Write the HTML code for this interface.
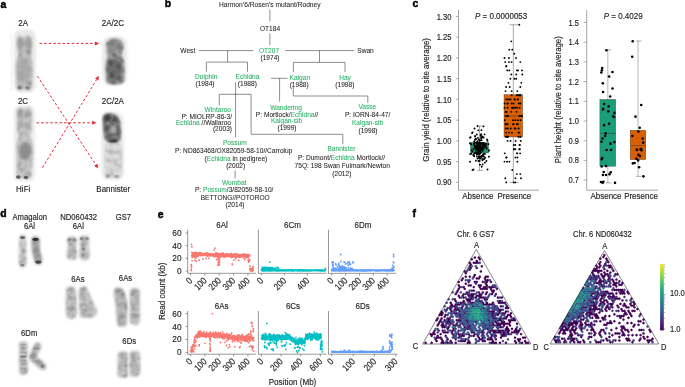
<!DOCTYPE html>
<html><head><meta charset="utf-8"><style>
html,body{margin:0;padding:0;background:#fff;}
svg{display:block;font-family:"Liberation Sans",sans-serif;will-change:transform;}
text{stroke:#231f20;stroke-width:0.14px;}
text.bd{stroke:#000;stroke-width:0.45px;}
text.pb{stroke-width:0.06px;}
</style></head><body>
<svg width="685" height="387" viewBox="0 0 685 387">
<defs>
<filter id="b1" filterUnits="userSpaceOnUse" x="0" y="0" width="685" height="387"><feGaussianBlur stdDeviation="1"/></filter>
<filter id="b05" filterUnits="userSpaceOnUse" x="0" y="0" width="685" height="387"><feGaussianBlur stdDeviation="0.6"/></filter>
<filter id="b2" filterUnits="userSpaceOnUse" x="0" y="0" width="685" height="387"><feGaussianBlur stdDeviation="2"/></filter>
<filter id="b3" filterUnits="userSpaceOnUse" x="0" y="0" width="685" height="387"><feGaussianBlur stdDeviation="3"/></filter>
<filter id="tx" filterUnits="userSpaceOnUse" x="0" y="0" width="685" height="387">
<feTurbulence type="fractalNoise" baseFrequency="0.28" numOctaves="2" seed="4" result="n"/>
<feColorMatrix in="n" type="matrix" values="0 0 0 0 0  0 0 0 0 0  0 0 0 0 0  1.8 0 0 0 -0.72" result="na"/>
<feComposite in="na" in2="SourceAlpha" operator="in" result="nm"/>
<feMerge result="m"><feMergeNode in="SourceGraphic"/><feMergeNode in="nm"/></feMerge>
<feGaussianBlur in="m" stdDeviation="1.0"/>
</filter>
<filter id="tx2" filterUnits="userSpaceOnUse" x="0" y="0" width="685" height="387">
<feTurbulence type="fractalNoise" baseFrequency="0.3" numOctaves="2" seed="9" result="n"/>
<feColorMatrix in="n" type="matrix" values="0 0 0 0 0  0 0 0 0 0  0 0 0 0 0  2.2 0 0 0 -0.85" result="na"/>
<feComposite in="na" in2="SourceAlpha" operator="in" result="nm"/>
<feMerge result="m"><feMergeNode in="SourceGraphic"/><feMergeNode in="nm"/></feMerge>
<feGaussianBlur in="m" stdDeviation="0.8"/>
</filter>
<filter id="tx3" filterUnits="userSpaceOnUse" x="0" y="0" width="685" height="387">
<feTurbulence type="fractalNoise" baseFrequency="0.22" numOctaves="2" seed="12" result="n"/>
<feColorMatrix in="n" type="matrix" values="0 0 0 0 0  0 0 0 0 0  0 0 0 0 0  1.2 0 0 0 -0.5" result="na"/>
<feComposite in="na" in2="SourceAlpha" operator="in" result="nm"/>
<feMerge result="m"><feMergeNode in="SourceGraphic"/><feMergeNode in="nm"/></feMerge>
<feGaussianBlur in="m" stdDeviation="1.0"/>
</filter>
</defs>
<rect width="685" height="387" fill="#fff"/>
<text transform="translate(0.50 7.80) scale(1 1.02)" font-size="10.4" text-anchor="start" fill="#000" font-weight="bold" class="bd" >a</text>
<text transform="translate(164.80 7.40) scale(1 1.02)" font-size="10.4" text-anchor="start" fill="#000" font-weight="bold" class="bd" >b</text>
<text transform="translate(412.60 7.40) scale(1 1.02)" font-size="10.4" text-anchor="start" fill="#000" font-weight="bold" class="bd" >c</text>
<text transform="translate(0.30 217.40) scale(1 1.02)" font-size="10.4" text-anchor="start" fill="#000" font-weight="bold" class="bd" >d</text>
<text transform="translate(157.80 217.70) scale(1 1.02)" font-size="10.4" text-anchor="start" fill="#000" font-weight="bold" class="bd" >e</text>
<text transform="translate(412.60 217.40) scale(1 1.02)" font-size="10.4" text-anchor="start" fill="#000" font-weight="bold" class="bd" >f</text>
<text transform="translate(23.20 26.10) scale(1 1.18)" font-size="8" text-anchor="middle" fill="#231f20" font-weight="normal" >2A</text>
<text transform="translate(23.00 104.20) scale(1 1.18)" font-size="8" text-anchor="middle" fill="#231f20" font-weight="normal" >2C</text>
<text transform="translate(23.20 192.20) scale(1 1.18)" font-size="8" text-anchor="middle" fill="#231f20" font-weight="normal" >HiFi</text>
<text transform="translate(112.90 26.20) scale(1 1.18)" font-size="8" text-anchor="middle" fill="#231f20" font-weight="normal" >2A/2C</text>
<text transform="translate(112.80 104.10) scale(1 1.18)" font-size="8" text-anchor="middle" fill="#231f20" font-weight="normal" >2C/2A</text>
<text transform="translate(113.20 192.30) scale(1 1.18)" font-size="8" text-anchor="middle" fill="#231f20" font-weight="normal" >Bannister</text>
<line x1="11.20" y1="33.70" x2="11.20" y2="90.90" stroke="#e4e4e4" stroke-width="0.6" />
<rect x="13.8" y="29.5" width="22" height="63" rx="7" fill="#e9e9e9" opacity="1" filter="url(#b1)"/>
<rect x="13.8" y="105" width="21.5" height="77" rx="7" fill="#eeeeee" opacity="1" filter="url(#b1)"/>
<rect x="102.3" y="36.3" width="25" height="49" rx="8" fill="#eaeaea" opacity="1" filter="url(#b1)"/>
<rect x="101" y="111.5" width="23" height="68.5" rx="8" fill="#efefef" opacity="1" filter="url(#b1)"/>
<path d="M17,40 Q17,35 21,35.5 L23.5,38 L26,35.5 Q32,35 32,41 L31.5,52 L30.5,56 Q32.5,60 32.5,66 L32,85 Q32,90.5 28,90.5 L24,89 L20,90.5 Q16.5,90 16.5,85 L16.5,66 Q16.5,59 18.5,56 L17.5,52 Z" fill="#c0c0c0" filter="url(#tx3)"/>
<ellipse cx="20.5" cy="43" rx="3.2" ry="5.5" fill="#9a9a9a" opacity="0.8" filter="url(#b1)"/>
<ellipse cx="28.5" cy="44" rx="3.2" ry="5.5" fill="#9c9c9c" opacity="0.8" filter="url(#b1)"/>
<ellipse cx="23.5" cy="70" rx="6.5" ry="12" fill="#a4a4a4" opacity="0.75" filter="url(#b2)"/>
<ellipse cx="19.5" cy="87.5" rx="2.0" ry="1.8" fill="#7e7e7e" opacity="1" filter="url(#b05)"/>
<ellipse cx="27.5" cy="87.8" rx="2.0" ry="1.8" fill="#848484" opacity="1" filter="url(#b05)"/>
<path d="M16.5,112 Q17,107.5 21,107.5 L24,109 L27.5,107.5 Q32,107.5 32,112 L31.5,131 L30,137 Q33.5,142 33.5,150 L32.5,165 Q31,169 31.5,174 Q31.5,179.5 27,179 L24,177.5 L20,179 Q16,179 16.3,174 Q17,168 16.5,162 L16.5,146 Q17,140 18.5,137 L17,131 Z" fill="#c8c8c8" filter="url(#tx3)"/>
<ellipse cx="20.3" cy="114" rx="2.6" ry="3.5" fill="#969696" opacity="0.8" filter="url(#b1)"/>
<ellipse cx="28" cy="114" rx="2.6" ry="3.5" fill="#9a9a9a" opacity="0.8" filter="url(#b1)"/>
<ellipse cx="20.5" cy="125" rx="2.3" ry="3" fill="#a4a4a4" opacity="0.8" filter="url(#b1)"/>
<ellipse cx="28" cy="126" rx="2.3" ry="3" fill="#a8a8a8" opacity="0.8" filter="url(#b1)"/>
<ellipse cx="25" cy="151" rx="6" ry="9" fill="#8a8a8a" opacity="0.9" filter="url(#b1)"/>
<ellipse cx="18.3" cy="177" rx="2.3" ry="1.7" fill="#5e5e5e" opacity="1" filter="url(#b05)"/>
<ellipse cx="26" cy="177.5" rx="2.3" ry="1.7" fill="#5e5e5e" opacity="1" filter="url(#b05)"/>
<path d="M106,46 Q106,38.5 114.5,38.5 Q123.5,38.5 123.5,46 L122.6,53 Q121,55.5 122.8,58 Q125,62 124.6,70 L124.2,80 Q123.6,84.5 115,84.5 Q106.2,84.5 106,80 L105.6,70 Q105.2,62 107.2,58 Q108.5,55.5 107,53 Z" fill="#a2a2a2" filter="url(#tx2)"/>
<ellipse cx="114.5" cy="45.5" rx="6.5" ry="5" fill="#8e8e8e" opacity="0.8" filter="url(#b1)"/>
<ellipse cx="111.5" cy="43.5" rx="2.5" ry="2" fill="#6e6e6e" opacity="0.8" filter="url(#b1)"/>
<ellipse cx="118.5" cy="46" rx="2.5" ry="2" fill="#767676" opacity="0.8" filter="url(#b1)"/>
<ellipse cx="114.5" cy="70" rx="7.5" ry="11" fill="#6a6a6a" opacity="0.85" filter="url(#b1)"/>
<ellipse cx="110.5" cy="63" rx="2.6" ry="3" fill="#4c4c4c" opacity="0.8" filter="url(#b1)"/>
<ellipse cx="118.5" cy="66" rx="2.6" ry="3.5" fill="#525252" opacity="0.8" filter="url(#b1)"/>
<ellipse cx="112" cy="75" rx="2.5" ry="3" fill="#4a4a4a" opacity="0.8" filter="url(#b1)"/>
<ellipse cx="119" cy="78" rx="2.5" ry="2.5" fill="#555" opacity="0.8" filter="url(#b1)"/>
<ellipse cx="113.5" cy="82" rx="3" ry="1.5" fill="#5a5a5a" opacity="0.8" filter="url(#b1)"/>
<path d="M102.6,118.5 Q103,112.8 109.5,113 Q118.5,113.5 120.5,122 L121,139 Q118,144.5 110,143.5 Q103.5,142 103.5,132 Z" fill="#8c8c8c" filter="url(#tx2)"/>
<ellipse cx="107.5" cy="118" rx="3.6" ry="3.2" fill="#3a3a3a" opacity="0.9" filter="url(#b1)"/>
<ellipse cx="114.5" cy="119.5" rx="3" ry="2.6" fill="#4a4a4a" opacity="0.85" filter="url(#b1)"/>
<ellipse cx="106.5" cy="128" rx="2.6" ry="3" fill="#4e4e4e" opacity="0.8" filter="url(#b1)"/>
<ellipse cx="113.5" cy="129.5" rx="3.2" ry="3.2" fill="#b4b4b4" opacity="0.8" filter="url(#b1)"/>
<ellipse cx="118.5" cy="132" rx="2.2" ry="3.5" fill="#5a5a5a" opacity="0.7" filter="url(#b1)"/>
<ellipse cx="109" cy="136" rx="2.6" ry="2.2" fill="#5a5a5a" opacity="0.7" filter="url(#b1)"/>
<ellipse cx="113" cy="141" rx="4.5" ry="2.0" fill="#333" opacity="0.9" filter="url(#b1)"/>
<path d="M104.2,147 Q104.2,143 108,143 L118,143 Q122.3,143 122.3,148 L122.3,172.5 Q122.3,178.5 117,178.5 L109,178.5 Q104.2,178.5 104.2,172.5 Z" fill="#dedede" filter="url(#tx3)"/>
<ellipse cx="108" cy="176" rx="2.5" ry="1.7" fill="#a4a4a4" opacity="1" filter="url(#b05)"/>
<ellipse cx="116.5" cy="176.5" rx="2.5" ry="1.7" fill="#aaaaaa" opacity="1" filter="url(#b05)"/>
<line x1="39.50" y1="43.40" x2="94.80" y2="43.40" stroke="#e8283a" stroke-width="1.0" stroke-dasharray="2.6 2.0"/>
<polygon points="99.20,43.40 94.80,45.40 94.80,41.40" fill="#e8283a"/>
<line x1="37.50" y1="76.20" x2="95.78" y2="164.72" stroke="#e8283a" stroke-width="1.0" stroke-dasharray="2.6 2.0"/>
<polygon points="98.20,168.40 94.11,165.82 97.45,163.63" fill="#e8283a"/>
<line x1="36.50" y1="122.80" x2="92.10" y2="122.80" stroke="#e8283a" stroke-width="1.0" stroke-dasharray="2.6 2.0"/>
<polygon points="96.50,122.80 92.10,124.80 92.10,120.80" fill="#e8283a"/>
<line x1="42.50" y1="167.60" x2="96.69" y2="79.55" stroke="#e8283a" stroke-width="1.0" stroke-dasharray="2.6 2.0"/>
<polygon points="99.00,75.80 98.40,80.60 94.99,78.50" fill="#e8283a"/>
<text transform="translate(269.8 7.0) scale(1 1.07)" font-size="6.6" text-anchor="middle" fill="#231f20" class="pb" textLength="101.5" lengthAdjust="spacingAndGlyphs">Harmon’6/Rosen’s mutant/Rodney</text>
<line x1="269.90" y1="9.60" x2="269.90" y2="21.40" stroke="#505050" stroke-width="0.65" />
<text transform="translate(270.00 31.00) scale(1 1.07)" font-size="6.6" text-anchor="middle" fill="#231f20" class="pb"><tspan fill="#231f20" stroke="#231f20">OT184</tspan></text>
<line x1="269.90" y1="33.30" x2="269.90" y2="45.00" stroke="#505050" stroke-width="0.65" />
<text transform="translate(269.00 52.70) scale(1 1.07)" font-size="6.6" text-anchor="middle" fill="#231f20" class="pb"><tspan fill="#27b064" stroke="#27b064">OT207</tspan></text>
<text transform="translate(270.00 59.60) scale(1 1.07)" font-size="6.6" text-anchor="middle" fill="#231f20" class="pb"><tspan fill="#231f20" stroke="#231f20">(1974)</tspan></text>
<text transform="translate(187.80 52.70) scale(1 1.07)" font-size="6.6" text-anchor="middle" fill="#231f20" class="pb"><tspan fill="#231f20" stroke="#231f20">West</tspan></text>
<line x1="198.80" y1="50.60" x2="253.30" y2="50.60" stroke="#505050" stroke-width="0.65" />
<line x1="285.10" y1="50.60" x2="354.00" y2="50.60" stroke="#505050" stroke-width="0.65" />
<text transform="translate(365.50 52.70) scale(1 1.07)" font-size="6.6" text-anchor="middle" fill="#231f20" class="pb"><tspan fill="#231f20" stroke="#231f20">Swan</tspan></text>
<line x1="227.60" y1="50.60" x2="227.60" y2="62.10" stroke="#505050" stroke-width="0.65" />
<polyline points="206.40,71.70 206.40,62.10 247.50,62.10 247.50,71.70" stroke="#505050" stroke-width="0.65" fill="none" />
<text transform="translate(206.20 79.10) scale(1 1.07)" font-size="6.6" text-anchor="middle" fill="#231f20" class="pb"><tspan fill="#27b064" stroke="#27b064">Dolphin</tspan></text>
<text transform="translate(205.00 86.40) scale(1 1.07)" font-size="6.6" text-anchor="middle" fill="#231f20" class="pb"><tspan fill="#231f20" stroke="#231f20">(1984)</tspan></text>
<text transform="translate(247.50 79.10) scale(1 1.07)" font-size="6.6" text-anchor="middle" fill="#231f20" class="pb"><tspan fill="#27b064" stroke="#27b064">Echidna</tspan></text>
<text transform="translate(247.30 86.40) scale(1 1.07)" font-size="6.6" text-anchor="middle" fill="#231f20" class="pb"><tspan fill="#231f20" stroke="#231f20">(1988)</tspan></text>
<line x1="319.50" y1="50.60" x2="319.50" y2="62.40" stroke="#505050" stroke-width="0.65" />
<polyline points="293.40,72.10 293.40,62.40 345.00,62.40 345.00,72.10" stroke="#505050" stroke-width="0.65" fill="none" />
<text transform="translate(299.80 80.00) scale(1 1.07)" font-size="6.6" text-anchor="middle" fill="#231f20" class="pb"><tspan fill="#27b064" stroke="#27b064">Kalgan</tspan></text>
<text transform="translate(299.20 86.80) scale(1 1.07)" font-size="6.6" text-anchor="middle" fill="#231f20" class="pb"><tspan fill="#231f20" stroke="#231f20">(1988)</tspan></text>
<text transform="translate(345.00 80.00) scale(1 1.07)" font-size="6.6" text-anchor="middle" fill="#231f20" class="pb"><tspan fill="#27b064" stroke="#27b064">Hay</tspan></text>
<text transform="translate(344.80 86.80) scale(1 1.07)" font-size="6.6" text-anchor="middle" fill="#231f20" class="pb"><tspan fill="#231f20" stroke="#231f20">(1998)</tspan></text>
<line x1="235.60" y1="82.20" x2="235.60" y2="137.30" stroke="#505050" stroke-width="0.65" />
<polyline points="219.30,105.50 219.30,94.30 251.10,94.30 251.10,134.30 342.80,134.30 342.80,144.20" stroke="#505050" stroke-width="0.65" fill="none" />
<line x1="271.00" y1="78.30" x2="287.40" y2="78.30" stroke="#505050" stroke-width="0.65" />
<line x1="279.60" y1="78.30" x2="279.60" y2="101.70" stroke="#505050" stroke-width="0.65" />
<polyline points="293.30,86.00 293.30,96.00 367.80,96.00 367.80,102.80" stroke="#505050" stroke-width="0.65" fill="none" />
<text transform="translate(231.00 112.00) scale(1 1.07)" font-size="6.6" text-anchor="end" fill="#231f20" class="pb"><tspan fill="#27b064" stroke="#27b064">Wintaroo</tspan></text>
<text transform="translate(232.00 118.60) scale(1 1.07)" font-size="6.6" text-anchor="end" fill="#231f20" class="pb"><tspan fill="#231f20" stroke="#231f20">P: MIOLRP-86-3/</tspan></text>
<text transform="translate(231.00 124.90) scale(1 1.07)" font-size="6.6" text-anchor="end" fill="#231f20" class="pb"><tspan fill="#27b064" stroke="#27b064">Echidna</tspan><tspan fill="#231f20" stroke="#231f20"> //Wallaroo</tspan></text>
<text transform="translate(232.00 131.40) scale(1 1.07)" font-size="6.6" text-anchor="end" fill="#231f20" class="pb"><tspan fill="#231f20" stroke="#231f20">(2003)</tspan></text>
<text transform="translate(286.00 109.80) scale(1 1.07)" font-size="6.6" text-anchor="middle" fill="#231f20" class="pb"><tspan fill="#27b064" stroke="#27b064">Wandering</tspan></text>
<text transform="translate(287.00 116.80) scale(1 1.07)" font-size="6.6" text-anchor="middle" fill="#231f20" class="pb"><tspan fill="#231f20" stroke="#231f20">P: Mortlock/</tspan><tspan fill="#27b064" stroke="#27b064">Echidna</tspan><tspan fill="#231f20" stroke="#231f20">//</tspan></text>
<text transform="translate(286.50 123.00) scale(1 1.07)" font-size="6.6" text-anchor="middle" fill="#231f20" class="pb"><tspan fill="#27b064" stroke="#27b064">Kalgan-sib</tspan></text>
<text transform="translate(287.00 130.00) scale(1 1.07)" font-size="6.6" text-anchor="middle" fill="#231f20" class="pb"><tspan fill="#231f20" stroke="#231f20">(1999)</tspan></text>
<text transform="translate(367.30 109.20) scale(1 1.07)" font-size="6.6" text-anchor="middle" fill="#231f20" class="pb"><tspan fill="#27b064" stroke="#27b064">Vasse</tspan></text>
<text transform="translate(367.60 117.00) scale(1 1.07)" font-size="6.6" text-anchor="middle" fill="#231f20" class="pb"><tspan fill="#231f20" stroke="#231f20">P: IORN-84-47/</tspan></text>
<text transform="translate(367.50 125.00) scale(1 1.07)" font-size="6.6" text-anchor="middle" fill="#231f20" class="pb"><tspan fill="#27b064" stroke="#27b064">Kalgan-sib</tspan></text>
<text transform="translate(368.00 132.60) scale(1 1.07)" font-size="6.6" text-anchor="middle" fill="#231f20" class="pb"><tspan fill="#231f20" stroke="#231f20">(1998)</tspan></text>
<text transform="translate(234.80 145.30) scale(1 1.07)" font-size="6.6" text-anchor="middle" fill="#231f20" class="pb"><tspan fill="#27b064" stroke="#27b064">Possum</tspan></text>
<text transform="translate(233.70 153.30) scale(1 1.07)" font-size="6.6" text-anchor="middle" fill="#231f20" class="pb"><tspan fill="#231f20" stroke="#231f20">P: ND863468/OX82059-58-10//Carrolup</tspan></text>
<text transform="translate(235.90 161.00) scale(1 1.07)" font-size="6.6" text-anchor="middle" fill="#231f20" class="pb"><tspan fill="#231f20" stroke="#231f20">(</tspan><tspan fill="#27b064" stroke="#27b064">Echidna</tspan><tspan fill="#231f20" stroke="#231f20"> in pedigree)</tspan></text>
<text transform="translate(235.70 167.80) scale(1 1.07)" font-size="6.6" text-anchor="middle" fill="#231f20" class="pb"><tspan fill="#231f20" stroke="#231f20">(2002)</tspan></text>
<line x1="235.10" y1="170.60" x2="235.10" y2="178.40" stroke="#505050" stroke-width="0.65" />
<text transform="translate(234.20 184.60) scale(1 1.07)" font-size="6.6" text-anchor="middle" fill="#231f20" class="pb"><tspan fill="#27b064" stroke="#27b064">Wombat</tspan></text>
<text transform="translate(234.20 192.20) scale(1 1.07)" font-size="6.6" text-anchor="middle" fill="#231f20" class="pb"><tspan fill="#231f20" stroke="#231f20">P: </tspan><tspan fill="#27b064" stroke="#27b064">Possum</tspan><tspan fill="#231f20" stroke="#231f20">/3/82059-58-10/</tspan></text>
<text transform="translate(235.20 199.80) scale(1 1.07)" font-size="6.6" text-anchor="middle" fill="#231f20" class="pb"><tspan fill="#231f20" stroke="#231f20">BETTONG//POTOROO</tspan></text>
<text transform="translate(235.00 206.80) scale(1 1.07)" font-size="6.6" text-anchor="middle" fill="#231f20" class="pb"><tspan fill="#231f20" stroke="#231f20">(2014)</tspan></text>
<text transform="translate(341.40 151.00) scale(1 1.07)" font-size="6.6" text-anchor="middle" fill="#231f20" class="pb"><tspan fill="#27b064" stroke="#27b064">Bannister</tspan></text>
<text transform="translate(341.50 160.40) scale(1 1.07)" font-size="6.6" text-anchor="middle" fill="#231f20" class="pb"><tspan fill="#231f20" stroke="#231f20">P: Dumont/</tspan><tspan fill="#27b064" stroke="#27b064">Echidna</tspan><tspan fill="#231f20" stroke="#231f20"> Mortlock//</tspan></text>
<text transform="translate(342.20 168.40) scale(1 1.07)" font-size="6.6" text-anchor="middle" fill="#231f20" class="pb"><tspan fill="#231f20" stroke="#231f20">75Q: 198 Swan Fulmark/Newton</tspan></text>
<text transform="translate(341.80 175.80) scale(1 1.07)" font-size="6.6" text-anchor="middle" fill="#231f20" class="pb"><tspan fill="#231f20" stroke="#231f20">(2012)</tspan></text>
<line x1="458.50" y1="10.00" x2="458.50" y2="190.20" stroke="#8c8c8c" stroke-width="0.8" />
<line x1="458.50" y1="190.20" x2="539.00" y2="190.20" stroke="#8c8c8c" stroke-width="0.8" />
<line x1="456.00" y1="16.46" x2="458.50" y2="16.46" stroke="#8c8c8c" stroke-width="0.7" />
<text transform="translate(451.40 19.56) scale(1 1.18)" font-size="7.6" text-anchor="end" fill="#231f20" font-weight="normal" >1.30</text>
<line x1="456.00" y1="37.20" x2="458.50" y2="37.20" stroke="#8c8c8c" stroke-width="0.7" />
<text transform="translate(451.40 40.30) scale(1 1.18)" font-size="7.6" text-anchor="end" fill="#231f20" font-weight="normal" >1.25</text>
<line x1="456.00" y1="57.94" x2="458.50" y2="57.94" stroke="#8c8c8c" stroke-width="0.7" />
<text transform="translate(451.40 61.04) scale(1 1.18)" font-size="7.6" text-anchor="end" fill="#231f20" font-weight="normal" >1.20</text>
<line x1="456.00" y1="78.68" x2="458.50" y2="78.68" stroke="#8c8c8c" stroke-width="0.7" />
<text transform="translate(451.40 81.78) scale(1 1.18)" font-size="7.6" text-anchor="end" fill="#231f20" font-weight="normal" >1.15</text>
<line x1="456.00" y1="99.42" x2="458.50" y2="99.42" stroke="#8c8c8c" stroke-width="0.7" />
<text transform="translate(451.40 102.52) scale(1 1.18)" font-size="7.6" text-anchor="end" fill="#231f20" font-weight="normal" >1.10</text>
<line x1="456.00" y1="120.16" x2="458.50" y2="120.16" stroke="#8c8c8c" stroke-width="0.7" />
<text transform="translate(451.40 123.26) scale(1 1.18)" font-size="7.6" text-anchor="end" fill="#231f20" font-weight="normal" >1.05</text>
<line x1="456.00" y1="140.90" x2="458.50" y2="140.90" stroke="#8c8c8c" stroke-width="0.7" />
<text transform="translate(451.40 144.00) scale(1 1.18)" font-size="7.6" text-anchor="end" fill="#231f20" font-weight="normal" >1.00</text>
<line x1="456.00" y1="161.64" x2="458.50" y2="161.64" stroke="#8c8c8c" stroke-width="0.7" />
<text transform="translate(451.40 164.74) scale(1 1.18)" font-size="7.6" text-anchor="end" fill="#231f20" font-weight="normal" >0.95</text>
<line x1="456.00" y1="182.38" x2="458.50" y2="182.38" stroke="#8c8c8c" stroke-width="0.7" />
<text transform="translate(451.40 185.48) scale(1 1.18)" font-size="7.6" text-anchor="end" fill="#231f20" font-weight="normal" >0.90</text>
<text transform="translate(429.1 99.9) rotate(-90) scale(1 1.18)" font-size="7.8" textLength="123.5" lengthAdjust="spacingAndGlyphs" text-anchor="middle" fill="#231f20">Grain yield (relative to site average)</text>
<text transform="translate(501.1 18.9) scale(1 1.12)" font-size="8.0" text-anchor="middle" fill="#231f20"><tspan font-style="italic">P</tspan> = 0.0000053</text>
<text transform="translate(477.80 198.80) scale(1 1.18)" font-size="8" text-anchor="middle" fill="#231f20" font-weight="normal" >Absence</text>
<text transform="translate(514.40 198.80) scale(1 1.18)" font-size="8" text-anchor="middle" fill="#231f20" font-weight="normal" >Presence</text>
<line x1="479.50" y1="125.97" x2="479.50" y2="142.60" stroke="#444" stroke-width="0.45" />
<line x1="479.50" y1="153.01" x2="479.50" y2="170.35" stroke="#444" stroke-width="0.45" />
<line x1="477.30" y1="125.97" x2="483.30" y2="125.97" stroke="#555" stroke-width="0.5" />
<line x1="477.30" y1="170.35" x2="483.30" y2="170.35" stroke="#555" stroke-width="0.5" />
<rect x="470.55" y="142.60" width="17.90" height="10.41" fill="#1b9e77" stroke="#333" stroke-width="0.35"/>
<line x1="470.55" y1="147.95" x2="488.45" y2="147.95" stroke="#333" stroke-width="0.5" />
<circle cx="481.09" cy="156.33" r="0.95" fill="#000"/>
<circle cx="477.34" cy="141.14" r="0.95" fill="#000"/>
<circle cx="479.22" cy="157.05" r="0.95" fill="#000"/>
<circle cx="484.11" cy="144.68" r="0.95" fill="#000"/>
<circle cx="474.07" cy="156.27" r="0.95" fill="#000"/>
<circle cx="481.49" cy="143.12" r="0.95" fill="#000"/>
<circle cx="483.63" cy="137.45" r="0.95" fill="#000"/>
<circle cx="478.35" cy="148.65" r="0.95" fill="#000"/>
<circle cx="478.29" cy="130.36" r="0.95" fill="#000"/>
<circle cx="474.72" cy="153.32" r="0.95" fill="#000"/>
<circle cx="480.11" cy="147.30" r="0.95" fill="#000"/>
<circle cx="479.24" cy="150.31" r="0.95" fill="#000"/>
<circle cx="482.41" cy="146.08" r="0.95" fill="#000"/>
<circle cx="480.38" cy="140.44" r="0.95" fill="#000"/>
<circle cx="482.45" cy="160.20" r="0.95" fill="#000"/>
<circle cx="478.78" cy="157.67" r="0.95" fill="#000"/>
<circle cx="479.51" cy="158.04" r="0.95" fill="#000"/>
<circle cx="480.40" cy="153.28" r="0.95" fill="#000"/>
<circle cx="479.30" cy="140.40" r="0.95" fill="#000"/>
<circle cx="475.97" cy="149.51" r="0.95" fill="#000"/>
<circle cx="482.94" cy="147.23" r="0.95" fill="#000"/>
<circle cx="482.56" cy="137.40" r="0.95" fill="#000"/>
<circle cx="484.26" cy="158.69" r="0.95" fill="#000"/>
<circle cx="486.42" cy="160.99" r="0.95" fill="#000"/>
<circle cx="479.39" cy="147.82" r="0.95" fill="#000"/>
<circle cx="488.43" cy="144.19" r="0.95" fill="#000"/>
<circle cx="481.71" cy="166.80" r="0.95" fill="#000"/>
<circle cx="480.48" cy="150.08" r="0.95" fill="#000"/>
<circle cx="474.20" cy="156.12" r="0.95" fill="#000"/>
<circle cx="481.28" cy="148.31" r="0.95" fill="#000"/>
<circle cx="488.91" cy="156.71" r="0.95" fill="#000"/>
<circle cx="477.40" cy="147.78" r="0.95" fill="#000"/>
<circle cx="481.44" cy="147.88" r="0.95" fill="#000"/>
<circle cx="482.26" cy="136.58" r="0.95" fill="#000"/>
<circle cx="484.33" cy="144.11" r="0.95" fill="#000"/>
<circle cx="480.39" cy="152.16" r="0.95" fill="#000"/>
<circle cx="477.29" cy="148.36" r="0.95" fill="#000"/>
<circle cx="477.86" cy="150.06" r="0.95" fill="#000"/>
<circle cx="480.89" cy="152.11" r="0.95" fill="#000"/>
<circle cx="489.00" cy="150.21" r="0.95" fill="#000"/>
<circle cx="476.12" cy="146.03" r="0.95" fill="#000"/>
<circle cx="477.59" cy="144.42" r="0.95" fill="#000"/>
<circle cx="484.58" cy="158.53" r="0.95" fill="#000"/>
<circle cx="478.00" cy="149.93" r="0.95" fill="#000"/>
<circle cx="479.30" cy="143.22" r="0.95" fill="#000"/>
<circle cx="486.72" cy="148.56" r="0.95" fill="#000"/>
<circle cx="482.60" cy="150.68" r="0.95" fill="#000"/>
<circle cx="480.31" cy="145.29" r="0.95" fill="#000"/>
<circle cx="477.94" cy="152.38" r="0.95" fill="#000"/>
<circle cx="477.09" cy="153.26" r="0.95" fill="#000"/>
<circle cx="482.58" cy="164.52" r="0.95" fill="#000"/>
<circle cx="480.06" cy="156.85" r="0.95" fill="#000"/>
<circle cx="477.52" cy="145.04" r="0.95" fill="#000"/>
<circle cx="487.07" cy="139.47" r="0.95" fill="#000"/>
<circle cx="476.60" cy="145.81" r="0.95" fill="#000"/>
<circle cx="485.90" cy="143.81" r="0.95" fill="#000"/>
<circle cx="478.48" cy="143.74" r="0.95" fill="#000"/>
<circle cx="476.82" cy="134.49" r="0.95" fill="#000"/>
<circle cx="476.84" cy="153.65" r="0.95" fill="#000"/>
<circle cx="480.22" cy="146.42" r="0.95" fill="#000"/>
<circle cx="478.78" cy="143.04" r="0.95" fill="#000"/>
<circle cx="476.39" cy="149.44" r="0.95" fill="#000"/>
<circle cx="474.44" cy="143.83" r="0.95" fill="#000"/>
<circle cx="482.01" cy="149.10" r="0.95" fill="#000"/>
<circle cx="477.94" cy="148.43" r="0.95" fill="#000"/>
<circle cx="484.83" cy="146.77" r="0.95" fill="#000"/>
<circle cx="474.86" cy="142.28" r="0.95" fill="#000"/>
<circle cx="488.71" cy="150.84" r="0.95" fill="#000"/>
<circle cx="480.24" cy="147.59" r="0.95" fill="#000"/>
<circle cx="484.03" cy="148.85" r="0.95" fill="#000"/>
<circle cx="480.47" cy="143.99" r="0.95" fill="#000"/>
<circle cx="483.52" cy="154.01" r="0.95" fill="#000"/>
<circle cx="482.43" cy="143.56" r="0.95" fill="#000"/>
<circle cx="472.04" cy="133.08" r="0.95" fill="#000"/>
<circle cx="474.13" cy="153.74" r="0.95" fill="#000"/>
<circle cx="478.33" cy="151.20" r="0.95" fill="#000"/>
<circle cx="479.67" cy="146.68" r="0.95" fill="#000"/>
<circle cx="476.01" cy="138.96" r="0.95" fill="#000"/>
<circle cx="479.30" cy="146.57" r="0.95" fill="#000"/>
<circle cx="475.86" cy="153.10" r="0.95" fill="#000"/>
<circle cx="475.85" cy="148.68" r="0.95" fill="#000"/>
<circle cx="479.49" cy="145.24" r="0.95" fill="#000"/>
<circle cx="477.54" cy="158.67" r="0.95" fill="#000"/>
<circle cx="475.47" cy="138.89" r="0.95" fill="#000"/>
<circle cx="472.36" cy="151.44" r="0.95" fill="#000"/>
<circle cx="477.51" cy="142.47" r="0.95" fill="#000"/>
<circle cx="471.21" cy="153.78" r="0.95" fill="#000"/>
<circle cx="476.34" cy="143.05" r="0.95" fill="#000"/>
<circle cx="471.39" cy="144.51" r="0.95" fill="#000"/>
<circle cx="476.90" cy="156.55" r="0.95" fill="#000"/>
<circle cx="483.24" cy="154.64" r="0.95" fill="#000"/>
<circle cx="478.41" cy="150.12" r="0.95" fill="#000"/>
<circle cx="470.00" cy="161.82" r="0.95" fill="#000"/>
<circle cx="474.85" cy="139.91" r="0.95" fill="#000"/>
<circle cx="483.91" cy="156.48" r="0.95" fill="#000"/>
<circle cx="477.30" cy="154.39" r="0.95" fill="#000"/>
<circle cx="478.01" cy="146.44" r="0.95" fill="#000"/>
<circle cx="478.47" cy="147.95" r="0.95" fill="#000"/>
<circle cx="476.64" cy="154.26" r="0.95" fill="#000"/>
<circle cx="485.95" cy="146.64" r="0.95" fill="#000"/>
<circle cx="479.60" cy="157.40" r="0.95" fill="#000"/>
<circle cx="477.95" cy="143.33" r="0.95" fill="#000"/>
<circle cx="479.75" cy="142.17" r="0.95" fill="#000"/>
<circle cx="476.96" cy="149.96" r="0.95" fill="#000"/>
<circle cx="487.49" cy="140.75" r="0.95" fill="#000"/>
<circle cx="475.67" cy="151.91" r="0.95" fill="#000"/>
<circle cx="477.15" cy="143.22" r="0.95" fill="#000"/>
<circle cx="477.09" cy="150.25" r="0.95" fill="#000"/>
<circle cx="482.70" cy="159.20" r="0.95" fill="#000"/>
<circle cx="475.06" cy="135.85" r="0.95" fill="#000"/>
<circle cx="483.19" cy="154.72" r="0.95" fill="#000"/>
<circle cx="481.58" cy="149.45" r="0.95" fill="#000"/>
<circle cx="479.68" cy="160.99" r="0.95" fill="#000"/>
<circle cx="474.11" cy="141.68" r="0.95" fill="#000"/>
<circle cx="478.46" cy="142.71" r="0.95" fill="#000"/>
<circle cx="483.52" cy="144.31" r="0.95" fill="#000"/>
<circle cx="482.38" cy="148.70" r="0.95" fill="#000"/>
<circle cx="482.53" cy="156.18" r="0.95" fill="#000"/>
<circle cx="479.64" cy="153.91" r="0.95" fill="#000"/>
<circle cx="470.00" cy="137.64" r="0.95" fill="#000"/>
<circle cx="479.99" cy="150.53" r="0.95" fill="#000"/>
<circle cx="481.18" cy="134.32" r="0.95" fill="#000"/>
<circle cx="481.20" cy="137.57" r="0.95" fill="#000"/>
<circle cx="477.95" cy="153.27" r="0.95" fill="#000"/>
<circle cx="478.70" cy="147.60" r="0.95" fill="#000"/>
<circle cx="482.99" cy="143.00" r="0.95" fill="#000"/>
<circle cx="480.72" cy="135.23" r="0.95" fill="#000"/>
<circle cx="481.81" cy="147.65" r="0.95" fill="#000"/>
<circle cx="481.22" cy="138.73" r="0.95" fill="#000"/>
<circle cx="481.45" cy="157.06" r="0.95" fill="#000"/>
<circle cx="473.19" cy="154.93" r="0.95" fill="#000"/>
<circle cx="477.85" cy="137.91" r="0.95" fill="#000"/>
<circle cx="484.03" cy="145.52" r="0.95" fill="#000"/>
<circle cx="480.06" cy="147.52" r="0.95" fill="#000"/>
<circle cx="480.66" cy="158.62" r="0.95" fill="#000"/>
<circle cx="482.52" cy="145.60" r="0.95" fill="#000"/>
<circle cx="484.85" cy="153.94" r="0.95" fill="#000"/>
<circle cx="478.76" cy="157.32" r="0.95" fill="#000"/>
<circle cx="475.30" cy="147.68" r="0.95" fill="#000"/>
<circle cx="470.68" cy="144.07" r="0.95" fill="#000"/>
<circle cx="484.58" cy="134.38" r="0.95" fill="#000"/>
<circle cx="477.32" cy="148.58" r="0.95" fill="#000"/>
<circle cx="481.19" cy="157.14" r="0.95" fill="#000"/>
<circle cx="477.31" cy="142.33" r="0.95" fill="#000"/>
<circle cx="475.88" cy="160.73" r="0.95" fill="#000"/>
<circle cx="470.00" cy="143.19" r="0.95" fill="#000"/>
<circle cx="480.88" cy="157.63" r="0.95" fill="#000"/>
<circle cx="485.95" cy="144.89" r="0.95" fill="#000"/>
<circle cx="474.03" cy="143.87" r="0.95" fill="#000"/>
<circle cx="476.65" cy="148.91" r="0.95" fill="#000"/>
<circle cx="472.57" cy="132.42" r="0.95" fill="#000"/>
<circle cx="478.76" cy="139.54" r="0.95" fill="#000"/>
<circle cx="475.93" cy="146.43" r="0.95" fill="#000"/>
<circle cx="475.07" cy="136.58" r="0.95" fill="#000"/>
<circle cx="480.92" cy="149.60" r="0.95" fill="#000"/>
<circle cx="481.43" cy="156.01" r="0.95" fill="#000"/>
<circle cx="474.68" cy="147.05" r="0.95" fill="#000"/>
<circle cx="480.86" cy="135.69" r="0.95" fill="#000"/>
<circle cx="482.45" cy="136.66" r="0.95" fill="#000"/>
<circle cx="482.86" cy="145.07" r="0.95" fill="#000"/>
<circle cx="477.25" cy="147.06" r="0.95" fill="#000"/>
<circle cx="483.57" cy="143.05" r="0.95" fill="#000"/>
<circle cx="471.57" cy="150.12" r="0.95" fill="#000"/>
<circle cx="470.09" cy="154.09" r="0.95" fill="#000"/>
<circle cx="479.98" cy="164.64" r="0.95" fill="#000"/>
<circle cx="481.03" cy="143.80" r="0.95" fill="#000"/>
<circle cx="478.92" cy="153.54" r="0.95" fill="#000"/>
<circle cx="473.56" cy="149.25" r="0.95" fill="#000"/>
<circle cx="478.35" cy="161.00" r="0.95" fill="#000"/>
<circle cx="478.16" cy="153.45" r="0.95" fill="#000"/>
<circle cx="485.01" cy="157.66" r="0.95" fill="#000"/>
<circle cx="477.82" cy="144.16" r="0.95" fill="#000"/>
<circle cx="470.60" cy="137.30" r="0.95" fill="#000"/>
<circle cx="478.67" cy="156.78" r="0.95" fill="#000"/>
<circle cx="484.46" cy="145.38" r="0.95" fill="#000"/>
<circle cx="479.39" cy="157.28" r="0.95" fill="#000"/>
<circle cx="481.42" cy="130.15" r="0.95" fill="#000"/>
<circle cx="479.07" cy="154.84" r="0.95" fill="#000"/>
<circle cx="474.37" cy="145.17" r="0.95" fill="#000"/>
<circle cx="479.86" cy="158.42" r="0.95" fill="#000"/>
<circle cx="481.60" cy="140.16" r="0.95" fill="#000"/>
<circle cx="484.93" cy="162.65" r="0.95" fill="#000"/>
<circle cx="477.96" cy="143.15" r="0.95" fill="#000"/>
<circle cx="479.87" cy="151.47" r="0.95" fill="#000"/>
<circle cx="482.63" cy="159.46" r="0.95" fill="#000"/>
<circle cx="472.50" cy="169.94" r="0.95" fill="#000"/>
<circle cx="473.50" cy="169.52" r="0.95" fill="#000"/>
<circle cx="487.50" cy="169.52" r="0.95" fill="#000"/>
<circle cx="477.50" cy="125.97" r="0.95" fill="#000"/>
<circle cx="483.50" cy="126.38" r="0.95" fill="#000"/>
<circle cx="474.50" cy="128.46" r="0.95" fill="#000"/>
<line x1="513.30" y1="24.76" x2="513.30" y2="94.61" stroke="#444" stroke-width="0.45" />
<line x1="513.30" y1="137.00" x2="513.30" y2="182.59" stroke="#444" stroke-width="0.45" />
<line x1="509.60" y1="24.76" x2="518.60" y2="24.76" stroke="#555" stroke-width="0.5" />
<line x1="509.60" y1="182.59" x2="518.60" y2="182.59" stroke="#555" stroke-width="0.5" />
<rect x="504.00" y="94.61" width="18.60" height="42.39" fill="#d95f02" stroke="#333" stroke-width="0.35"/>
<line x1="504.00" y1="116.01" x2="522.60" y2="116.01" stroke="#333" stroke-width="0.5" />
<circle cx="513.75" cy="182.38" r="0.95" fill="#000"/>
<circle cx="506.26" cy="182.38" r="0.95" fill="#000"/>
<circle cx="515.42" cy="178.23" r="0.95" fill="#000"/>
<circle cx="520.95" cy="178.23" r="0.95" fill="#000"/>
<circle cx="516.94" cy="174.08" r="0.95" fill="#000"/>
<circle cx="507.10" cy="161.64" r="0.95" fill="#000"/>
<circle cx="504.51" cy="161.64" r="0.95" fill="#000"/>
<circle cx="509.41" cy="161.64" r="0.95" fill="#000"/>
<circle cx="517.32" cy="161.64" r="0.95" fill="#000"/>
<circle cx="515.46" cy="157.49" r="0.95" fill="#000"/>
<circle cx="506.19" cy="157.49" r="0.95" fill="#000"/>
<circle cx="517.46" cy="157.49" r="0.95" fill="#000"/>
<circle cx="506.51" cy="157.49" r="0.95" fill="#000"/>
<circle cx="517.22" cy="153.34" r="0.95" fill="#000"/>
<circle cx="516.92" cy="153.34" r="0.95" fill="#000"/>
<circle cx="520.12" cy="153.34" r="0.95" fill="#000"/>
<circle cx="504.72" cy="153.34" r="0.95" fill="#000"/>
<circle cx="519.15" cy="149.20" r="0.95" fill="#000"/>
<circle cx="515.38" cy="149.20" r="0.95" fill="#000"/>
<circle cx="513.99" cy="149.20" r="0.95" fill="#000"/>
<circle cx="519.85" cy="149.20" r="0.95" fill="#000"/>
<circle cx="513.91" cy="149.20" r="0.95" fill="#000"/>
<circle cx="513.83" cy="145.05" r="0.95" fill="#000"/>
<circle cx="519.62" cy="145.05" r="0.95" fill="#000"/>
<circle cx="515.31" cy="145.05" r="0.95" fill="#000"/>
<circle cx="519.72" cy="145.05" r="0.95" fill="#000"/>
<circle cx="520.77" cy="140.90" r="0.95" fill="#000"/>
<circle cx="515.60" cy="140.90" r="0.95" fill="#000"/>
<circle cx="510.56" cy="140.90" r="0.95" fill="#000"/>
<circle cx="507.56" cy="140.90" r="0.95" fill="#000"/>
<circle cx="520.33" cy="136.75" r="0.95" fill="#000"/>
<circle cx="507.80" cy="136.75" r="0.95" fill="#000"/>
<circle cx="518.31" cy="136.75" r="0.95" fill="#000"/>
<circle cx="507.80" cy="136.75" r="0.95" fill="#000"/>
<circle cx="506.04" cy="136.75" r="0.95" fill="#000"/>
<circle cx="520.30" cy="136.75" r="0.95" fill="#000"/>
<circle cx="506.69" cy="136.75" r="0.95" fill="#000"/>
<circle cx="508.97" cy="132.60" r="0.95" fill="#000"/>
<circle cx="506.05" cy="132.60" r="0.95" fill="#000"/>
<circle cx="519.28" cy="132.60" r="0.95" fill="#000"/>
<circle cx="511.89" cy="132.60" r="0.95" fill="#000"/>
<circle cx="518.52" cy="132.60" r="0.95" fill="#000"/>
<circle cx="507.91" cy="128.46" r="0.95" fill="#000"/>
<circle cx="515.60" cy="128.46" r="0.95" fill="#000"/>
<circle cx="518.68" cy="128.46" r="0.95" fill="#000"/>
<circle cx="506.03" cy="128.46" r="0.95" fill="#000"/>
<circle cx="514.56" cy="128.46" r="0.95" fill="#000"/>
<circle cx="510.74" cy="128.46" r="0.95" fill="#000"/>
<circle cx="506.38" cy="124.31" r="0.95" fill="#000"/>
<circle cx="513.40" cy="124.31" r="0.95" fill="#000"/>
<circle cx="517.95" cy="124.31" r="0.95" fill="#000"/>
<circle cx="513.35" cy="124.31" r="0.95" fill="#000"/>
<circle cx="516.64" cy="124.31" r="0.95" fill="#000"/>
<circle cx="507.70" cy="124.31" r="0.95" fill="#000"/>
<circle cx="505.57" cy="124.31" r="0.95" fill="#000"/>
<circle cx="504.74" cy="120.16" r="0.95" fill="#000"/>
<circle cx="518.02" cy="120.16" r="0.95" fill="#000"/>
<circle cx="515.34" cy="120.16" r="0.95" fill="#000"/>
<circle cx="520.59" cy="120.16" r="0.95" fill="#000"/>
<circle cx="512.96" cy="120.16" r="0.95" fill="#000"/>
<circle cx="507.62" cy="116.01" r="0.95" fill="#000"/>
<circle cx="507.97" cy="116.01" r="0.95" fill="#000"/>
<circle cx="519.42" cy="116.01" r="0.95" fill="#000"/>
<circle cx="522.13" cy="116.01" r="0.95" fill="#000"/>
<circle cx="520.98" cy="116.01" r="0.95" fill="#000"/>
<circle cx="506.01" cy="116.01" r="0.95" fill="#000"/>
<circle cx="506.72" cy="111.86" r="0.95" fill="#000"/>
<circle cx="516.56" cy="111.86" r="0.95" fill="#000"/>
<circle cx="505.70" cy="111.86" r="0.95" fill="#000"/>
<circle cx="506.04" cy="111.86" r="0.95" fill="#000"/>
<circle cx="511.34" cy="111.86" r="0.95" fill="#000"/>
<circle cx="513.58" cy="107.72" r="0.95" fill="#000"/>
<circle cx="512.04" cy="107.72" r="0.95" fill="#000"/>
<circle cx="515.12" cy="107.72" r="0.95" fill="#000"/>
<circle cx="504.54" cy="107.72" r="0.95" fill="#000"/>
<circle cx="516.92" cy="107.72" r="0.95" fill="#000"/>
<circle cx="519.50" cy="107.72" r="0.95" fill="#000"/>
<circle cx="507.56" cy="107.72" r="0.95" fill="#000"/>
<circle cx="512.47" cy="107.72" r="0.95" fill="#000"/>
<circle cx="511.60" cy="103.57" r="0.95" fill="#000"/>
<circle cx="507.81" cy="103.57" r="0.95" fill="#000"/>
<circle cx="507.27" cy="103.57" r="0.95" fill="#000"/>
<circle cx="513.53" cy="103.57" r="0.95" fill="#000"/>
<circle cx="504.58" cy="103.57" r="0.95" fill="#000"/>
<circle cx="520.38" cy="103.57" r="0.95" fill="#000"/>
<circle cx="518.73" cy="103.57" r="0.95" fill="#000"/>
<circle cx="514.55" cy="99.42" r="0.95" fill="#000"/>
<circle cx="507.74" cy="99.42" r="0.95" fill="#000"/>
<circle cx="514.82" cy="99.42" r="0.95" fill="#000"/>
<circle cx="510.44" cy="99.42" r="0.95" fill="#000"/>
<circle cx="518.02" cy="99.42" r="0.95" fill="#000"/>
<circle cx="509.33" cy="99.42" r="0.95" fill="#000"/>
<circle cx="506.39" cy="99.42" r="0.95" fill="#000"/>
<circle cx="517.67" cy="99.42" r="0.95" fill="#000"/>
<circle cx="518.96" cy="95.27" r="0.95" fill="#000"/>
<circle cx="511.60" cy="95.27" r="0.95" fill="#000"/>
<circle cx="520.44" cy="95.27" r="0.95" fill="#000"/>
<circle cx="520.14" cy="95.27" r="0.95" fill="#000"/>
<circle cx="516.81" cy="95.27" r="0.95" fill="#000"/>
<circle cx="518.11" cy="95.27" r="0.95" fill="#000"/>
<circle cx="511.60" cy="91.12" r="0.95" fill="#000"/>
<circle cx="517.31" cy="91.12" r="0.95" fill="#000"/>
<circle cx="505.57" cy="91.12" r="0.95" fill="#000"/>
<circle cx="509.73" cy="86.98" r="0.95" fill="#000"/>
<circle cx="506.12" cy="86.98" r="0.95" fill="#000"/>
<circle cx="520.28" cy="86.98" r="0.95" fill="#000"/>
<circle cx="508.48" cy="82.83" r="0.95" fill="#000"/>
<circle cx="521.30" cy="82.83" r="0.95" fill="#000"/>
<circle cx="510.38" cy="78.68" r="0.95" fill="#000"/>
<circle cx="516.18" cy="78.68" r="0.95" fill="#000"/>
<circle cx="514.55" cy="78.68" r="0.95" fill="#000"/>
<circle cx="511.31" cy="74.53" r="0.95" fill="#000"/>
<circle cx="522.30" cy="74.53" r="0.95" fill="#000"/>
<circle cx="516.92" cy="70.38" r="0.95" fill="#000"/>
<circle cx="518.01" cy="70.38" r="0.95" fill="#000"/>
<circle cx="521.94" cy="70.38" r="0.95" fill="#000"/>
<circle cx="506.37" cy="66.24" r="0.95" fill="#000"/>
<circle cx="506.25" cy="66.24" r="0.95" fill="#000"/>
<circle cx="508.92" cy="62.09" r="0.95" fill="#000"/>
<circle cx="511.53" cy="62.09" r="0.95" fill="#000"/>
<circle cx="505.21" cy="62.09" r="0.95" fill="#000"/>
<circle cx="515.96" cy="57.94" r="0.95" fill="#000"/>
<circle cx="504.49" cy="57.94" r="0.95" fill="#000"/>
<circle cx="508.95" cy="57.94" r="0.95" fill="#000"/>
<circle cx="519.30" cy="24.76" r="0.95" fill="#000"/>
<circle cx="511.30" cy="41.35" r="0.95" fill="#000"/>
<circle cx="509.30" cy="49.64" r="0.95" fill="#000"/>
<circle cx="512.30" cy="49.64" r="0.95" fill="#000"/>
<circle cx="514.30" cy="53.79" r="0.95" fill="#000"/>
<circle cx="520.30" cy="62.09" r="0.95" fill="#000"/>
<circle cx="507.30" cy="70.38" r="0.95" fill="#000"/>
<circle cx="509.30" cy="70.38" r="0.95" fill="#000"/>
<circle cx="516.30" cy="74.53" r="0.95" fill="#000"/>
<circle cx="505.30" cy="178.23" r="0.95" fill="#000"/>
<circle cx="515.30" cy="182.38" r="0.95" fill="#000"/>
<circle cx="520.30" cy="174.08" r="0.95" fill="#000"/>
<circle cx="512.30" cy="169.94" r="0.95" fill="#000"/>
<line x1="586.70" y1="10.00" x2="586.70" y2="190.20" stroke="#8c8c8c" stroke-width="0.8" />
<line x1="586.70" y1="190.20" x2="658.10" y2="190.20" stroke="#8c8c8c" stroke-width="0.8" />
<line x1="583.50" y1="22.50" x2="586.70" y2="22.50" stroke="#8c8c8c" stroke-width="0.7" />
<text transform="translate(579.00 25.50) scale(1 1.18)" font-size="7.5" text-anchor="end" fill="#231f20" font-weight="normal" >1.5</text>
<line x1="583.50" y1="42.20" x2="586.70" y2="42.20" stroke="#8c8c8c" stroke-width="0.7" />
<text transform="translate(579.00 45.20) scale(1 1.18)" font-size="7.5" text-anchor="end" fill="#231f20" font-weight="normal" >1.4</text>
<line x1="583.50" y1="61.90" x2="586.70" y2="61.90" stroke="#8c8c8c" stroke-width="0.7" />
<text transform="translate(579.00 64.90) scale(1 1.18)" font-size="7.5" text-anchor="end" fill="#231f20" font-weight="normal" >1.3</text>
<line x1="583.50" y1="81.60" x2="586.70" y2="81.60" stroke="#8c8c8c" stroke-width="0.7" />
<text transform="translate(579.00 84.60) scale(1 1.18)" font-size="7.5" text-anchor="end" fill="#231f20" font-weight="normal" >1.2</text>
<line x1="583.50" y1="101.30" x2="586.70" y2="101.30" stroke="#8c8c8c" stroke-width="0.7" />
<text transform="translate(579.00 104.30) scale(1 1.18)" font-size="7.5" text-anchor="end" fill="#231f20" font-weight="normal" >1.1</text>
<line x1="583.50" y1="121.00" x2="586.70" y2="121.00" stroke="#8c8c8c" stroke-width="0.7" />
<text transform="translate(579.00 124.00) scale(1 1.18)" font-size="7.5" text-anchor="end" fill="#231f20" font-weight="normal" >1.0</text>
<line x1="583.50" y1="140.70" x2="586.70" y2="140.70" stroke="#8c8c8c" stroke-width="0.7" />
<text transform="translate(579.00 143.70) scale(1 1.18)" font-size="7.5" text-anchor="end" fill="#231f20" font-weight="normal" >0.9</text>
<line x1="583.50" y1="160.40" x2="586.70" y2="160.40" stroke="#8c8c8c" stroke-width="0.7" />
<text transform="translate(579.00 163.40) scale(1 1.18)" font-size="7.5" text-anchor="end" fill="#231f20" font-weight="normal" >0.8</text>
<line x1="583.50" y1="180.10" x2="586.70" y2="180.10" stroke="#8c8c8c" stroke-width="0.7" />
<text transform="translate(579.00 183.10) scale(1 1.18)" font-size="7.5" text-anchor="end" fill="#231f20" font-weight="normal" >0.7</text>
<text transform="translate(560.6 99.7) rotate(-90) scale(1 1.18)" font-size="8.2" textLength="127" lengthAdjust="spacingAndGlyphs" text-anchor="middle" fill="#231f20">Plant height (relative to site average)</text>
<text transform="translate(623.2 18.9) scale(1 1.12)" font-size="8.0" text-anchor="middle" fill="#231f20"><tspan font-style="italic">P</tspan> = 0.4029</text>
<text transform="translate(606.00 198.80) scale(1 1.18)" font-size="8" text-anchor="middle" fill="#231f20" font-weight="normal" >Absence</text>
<text transform="translate(641.00 198.80) scale(1 1.18)" font-size="8" text-anchor="middle" fill="#231f20" font-weight="normal" >Presence</text>
<line x1="607.80" y1="49.88" x2="607.80" y2="99.41" stroke="#c4c4c4" stroke-width="1.2" />
<line x1="607.80" y1="166.19" x2="607.80" y2="182.86" stroke="#c4c4c4" stroke-width="1.2" />
<line x1="606.00" y1="49.88" x2="611.20" y2="49.88" stroke="#555" stroke-width="0.5" />
<line x1="606.00" y1="182.86" x2="611.20" y2="182.86" stroke="#555" stroke-width="0.5" />
<rect x="599.90" y="99.41" width="15.80" height="66.78" fill="#1b9e77" stroke="#333" stroke-width="0.35"/>
<line x1="599.90" y1="133.41" x2="615.70" y2="133.41" stroke="#333" stroke-width="0.5" />
<circle cx="606.40" cy="50.28" r="1.3" fill="#000"/>
<circle cx="602.20" cy="68.01" r="1.3" fill="#000"/>
<circle cx="601.90" cy="70.37" r="1.3" fill="#000"/>
<circle cx="601.30" cy="72.54" r="1.3" fill="#000"/>
<circle cx="612.50" cy="71.95" r="1.3" fill="#000"/>
<circle cx="609.10" cy="76.48" r="1.3" fill="#000"/>
<circle cx="602.80" cy="83.37" r="1.3" fill="#000"/>
<circle cx="612.50" cy="88.49" r="1.3" fill="#000"/>
<circle cx="603.10" cy="92.04" r="1.3" fill="#000"/>
<circle cx="610.20" cy="96.57" r="1.3" fill="#000"/>
<circle cx="604.10" cy="104.06" r="1.3" fill="#000"/>
<circle cx="608.60" cy="106.42" r="1.3" fill="#000"/>
<circle cx="603.10" cy="108.79" r="1.3" fill="#000"/>
<circle cx="603.00" cy="109.38" r="1.3" fill="#000"/>
<circle cx="608.20" cy="111.35" r="1.3" fill="#000"/>
<circle cx="614.40" cy="112.92" r="1.3" fill="#000"/>
<circle cx="613.10" cy="116.27" r="1.3" fill="#000"/>
<circle cx="614.00" cy="117.06" r="1.3" fill="#000"/>
<circle cx="604.10" cy="125.14" r="1.3" fill="#000"/>
<circle cx="609.00" cy="123.76" r="1.3" fill="#000"/>
<circle cx="605.60" cy="133.41" r="1.3" fill="#000"/>
<circle cx="605.10" cy="135.97" r="1.3" fill="#000"/>
<circle cx="602.50" cy="138.53" r="1.3" fill="#000"/>
<circle cx="601.50" cy="141.69" r="1.3" fill="#000"/>
<circle cx="610.50" cy="143.66" r="1.3" fill="#000"/>
<circle cx="614.40" cy="142.08" r="1.3" fill="#000"/>
<circle cx="606.60" cy="149.96" r="1.3" fill="#000"/>
<circle cx="611.00" cy="149.96" r="1.3" fill="#000"/>
<circle cx="602.20" cy="158.04" r="1.3" fill="#000"/>
<circle cx="601.70" cy="159.22" r="1.3" fill="#000"/>
<circle cx="601.70" cy="166.51" r="1.3" fill="#000"/>
<circle cx="606.00" cy="166.11" r="1.3" fill="#000"/>
<circle cx="603.70" cy="172.02" r="1.3" fill="#000"/>
<circle cx="602.90" cy="174.98" r="1.3" fill="#000"/>
<circle cx="606.00" cy="174.98" r="1.3" fill="#000"/>
<circle cx="610.70" cy="172.22" r="1.3" fill="#000"/>
<circle cx="609.50" cy="174.19" r="1.3" fill="#000"/>
<circle cx="601.00" cy="182.07" r="1.3" fill="#000"/>
<circle cx="602.60" cy="182.86" r="1.3" fill="#000"/>
<circle cx="603.40" cy="181.68" r="1.3" fill="#000"/>
<circle cx="615.00" cy="182.86" r="1.3" fill="#000"/>
<line x1="638.00" y1="41.02" x2="638.00" y2="130.26" stroke="#c4c4c4" stroke-width="1.2" />
<line x1="638.00" y1="159.61" x2="638.00" y2="176.36" stroke="#c4c4c4" stroke-width="1.2" />
<line x1="636.20" y1="41.02" x2="641.40" y2="41.02" stroke="#555" stroke-width="0.5" />
<line x1="636.20" y1="176.36" x2="641.40" y2="176.36" stroke="#555" stroke-width="0.5" />
<rect x="630.20" y="130.26" width="15.60" height="29.35" fill="#d95f02" stroke="#333" stroke-width="0.35"/>
<line x1="630.20" y1="145.62" x2="645.80" y2="145.62" stroke="#333" stroke-width="0.5" />
<circle cx="632.70" cy="41.21" r="1.3" fill="#000"/>
<circle cx="632.20" cy="56.78" r="1.3" fill="#000"/>
<circle cx="641.20" cy="105.04" r="1.3" fill="#000"/>
<circle cx="635.50" cy="116.67" r="1.3" fill="#000"/>
<circle cx="639.70" cy="127.70" r="1.3" fill="#000"/>
<circle cx="638.40" cy="131.44" r="1.3" fill="#000"/>
<circle cx="632.40" cy="135.97" r="1.3" fill="#000"/>
<circle cx="642.70" cy="138.53" r="1.3" fill="#000"/>
<circle cx="643.20" cy="142.67" r="1.3" fill="#000"/>
<circle cx="636.80" cy="149.56" r="1.3" fill="#000"/>
<circle cx="641.00" cy="148.97" r="1.3" fill="#000"/>
<circle cx="637.00" cy="149.96" r="1.3" fill="#000"/>
<circle cx="640.70" cy="149.17" r="1.3" fill="#000"/>
<circle cx="641.40" cy="150.16" r="1.3" fill="#000"/>
<circle cx="638.40" cy="154.88" r="1.3" fill="#000"/>
<circle cx="639.90" cy="156.07" r="1.3" fill="#000"/>
<circle cx="636.40" cy="158.63" r="1.3" fill="#000"/>
<circle cx="638.10" cy="160.40" r="1.3" fill="#000"/>
<circle cx="632.90" cy="163.35" r="1.3" fill="#000"/>
<circle cx="634.60" cy="162.96" r="1.3" fill="#000"/>
<circle cx="639.10" cy="167.29" r="1.3" fill="#000"/>
<circle cx="643.40" cy="176.36" r="1.3" fill="#000"/>
<text transform="translate(29.70 219.90) scale(1 1.18)" font-size="7.7" text-anchor="middle" fill="#231f20" font-weight="normal" >Amagalon</text>
<text transform="translate(29.50 229.00) scale(1 1.18)" font-size="7.7" text-anchor="middle" fill="#231f20" font-weight="normal" >6Al</text>
<text transform="translate(78.60 219.80) scale(1 1.18)" font-size="7.7" text-anchor="middle" fill="#231f20" font-weight="normal" >ND060432</text>
<text transform="translate(78.30 229.00) scale(1 1.18)" font-size="7.7" text-anchor="middle" fill="#231f20" font-weight="normal" >6Al</text>
<text transform="translate(123.40 220.00) scale(1 1.18)" font-size="7.7" text-anchor="middle" fill="#231f20" font-weight="normal" >GS7</text>
<text transform="translate(77.90 281.70) scale(1 1.18)" font-size="7.7" text-anchor="middle" fill="#231f20" font-weight="normal" >6As</text>
<text transform="translate(125.50 281.30) scale(1 1.18)" font-size="7.7" text-anchor="middle" fill="#231f20" font-weight="normal" >6As</text>
<text transform="translate(29.20 335.90) scale(1 1.18)" font-size="7.7" text-anchor="middle" fill="#231f20" font-weight="normal" >6Dm</text>
<text transform="translate(129.20 344.30) scale(1 1.18)" font-size="7.7" text-anchor="middle" fill="#231f20" font-weight="normal" >6Ds</text>
<path d="M19.6,238 Q19.5,235.3 22.6,235.3 Q25.8,235.5 25.8,238.5 L26.2,262.5 Q26,267.3 22.6,267.3 Q19.2,267 19.3,262.5 Z" fill="#eeeeee" stroke="#eeeeee" stroke-width="3" stroke-linejoin="round" filter="url(#b1)"/>
<path d="M19.6,238 Q19.5,235.3 22.6,235.3 Q25.8,235.5 25.8,238.5 L26.2,262.5 Q26,267.3 22.6,267.3 Q19.2,267 19.3,262.5 Z" fill="#d6d6d6" filter="url(#tx)"/>
<ellipse cx="22.5" cy="237.6" rx="2.6" ry="1.3" fill="#5e5e5e" opacity="1" filter="url(#b05)"/>
<ellipse cx="22.3" cy="265.2" rx="2.3" ry="1.4" fill="#8a8a8a" opacity="1" filter="url(#b05)"/>
<ellipse cx="22.2" cy="247" rx="2.3" ry="1.0" fill="#c2c2c2" opacity="1" filter="url(#b05)"/>
<ellipse cx="22.4" cy="256" rx="2.3" ry="1.0" fill="#c0c0c0" opacity="1" filter="url(#b05)"/>
<path d="M31.6,239.5 Q32,236.6 35.5,236.6 Q39.5,236.8 39.4,240 L39.6,251 Q41.9,256.5 41.9,260.5 Q41.6,264.4 38.2,264.3 Q34.6,264.1 34.2,260 L32,251 Z" fill="#eeeeee" stroke="#eeeeee" stroke-width="3" stroke-linejoin="round" filter="url(#b1)"/>
<path d="M31.6,239.5 Q32,236.6 35.5,236.6 Q39.5,236.8 39.4,240 L39.6,251 Q41.9,256.5 41.9,260.5 Q41.6,264.4 38.2,264.3 Q34.6,264.1 34.2,260 L32,251 Z" fill="#acacac" filter="url(#tx)"/>
<ellipse cx="35.5" cy="239.3" rx="3.2" ry="1.6" fill="#2e2e2e" opacity="1" filter="url(#b05)"/>
<ellipse cx="36.2" cy="250" rx="2.5" ry="3" fill="#8e8e8e" opacity="1" filter="url(#b1)"/>
<ellipse cx="38.2" cy="262" rx="3" ry="1.7" fill="#4a4a4a" opacity="1" filter="url(#b05)"/>
<path d="M67.2,240 Q67.3,236.8 72,236.8 Q76.8,237 76.7,240 L75.6,247.5 Q77.1,251.5 77,255.5 Q76.8,259.6 72,259.6 Q67.2,259.6 67,255.5 Q66.9,251.5 68.3,247.5 Z" fill="#eeeeee" stroke="#eeeeee" stroke-width="3" stroke-linejoin="round" filter="url(#b1)"/>
<path d="M67.2,240 Q67.3,236.8 72,236.8 Q76.8,237 76.7,240 L75.6,247.5 Q77.1,251.5 77,255.5 Q76.8,259.6 72,259.6 Q67.2,259.6 67,255.5 Q66.9,251.5 68.3,247.5 Z" fill="#c8c8c8" filter="url(#tx)"/>
<ellipse cx="69.6" cy="239.6" rx="1.8" ry="1.6" fill="#8a8a8a" opacity="1" filter="url(#b05)"/>
<ellipse cx="74.6" cy="240" rx="1.8" ry="1.6" fill="#8e8e8e" opacity="1" filter="url(#b05)"/>
<ellipse cx="72" cy="252" rx="3" ry="3" fill="#b0b0b0" opacity="1" filter="url(#b1)"/>
<path d="M79.6,239 Q79.8,235.9 84.4,235.9 Q89.2,236 89.1,239 L88.4,246.5 Q89.5,251.5 89.3,255.5 Q89.1,259.7 84.4,259.7 Q79.8,259.7 79.6,255.5 Q79.4,251.5 80.5,246.5 Z" fill="#eeeeee" stroke="#eeeeee" stroke-width="3" stroke-linejoin="round" filter="url(#b1)"/>
<path d="M79.6,239 Q79.8,235.9 84.4,235.9 Q89.2,236 89.1,239 L88.4,246.5 Q89.5,251.5 89.3,255.5 Q89.1,259.7 84.4,259.7 Q79.8,259.7 79.6,255.5 Q79.4,251.5 80.5,246.5 Z" fill="#cbcbcb" filter="url(#tx)"/>
<ellipse cx="81.6" cy="238.6" rx="1.8" ry="1.6" fill="#8a8a8a" opacity="1" filter="url(#b05)"/>
<ellipse cx="87" cy="238.6" rx="1.8" ry="1.6" fill="#8e8e8e" opacity="1" filter="url(#b05)"/>
<ellipse cx="83.6" cy="249" rx="1.6" ry="1.8" fill="#8a8a8a" opacity="1" filter="url(#b05)"/>
<path d="M66.3,291 Q66.5,286.8 70.8,286.8 Q75.2,287 75.4,291 L76.4,302 Q77,312 75.8,316 Q74.5,318.5 71,318.4 Q67,318.2 66.5,314 L66,302 Z" fill="#eeeeee" stroke="#eeeeee" stroke-width="3" stroke-linejoin="round" filter="url(#b1)"/>
<path d="M66.3,291 Q66.5,286.8 70.8,286.8 Q75.2,287 75.4,291 L76.4,302 Q77,312 75.8,316 Q74.5,318.5 71,318.4 Q67,318.2 66.5,314 L66,302 Z" fill="#cacaca" filter="url(#tx)"/>
<ellipse cx="70.5" cy="289.5" rx="2.5" ry="1.8" fill="#9a9a9a" opacity="1" filter="url(#b1)"/>
<ellipse cx="70.5" cy="298.5" rx="2.5" ry="1.6" fill="#a8a8a8" opacity="1" filter="url(#b1)"/>
<ellipse cx="71.5" cy="309.5" rx="2.8" ry="1.8" fill="#9c9c9c" opacity="1" filter="url(#b1)"/>
<path d="M79.5,290.5 Q80,286.8 83.6,286.8 Q87.6,287 87.9,291.5 L96.8,310.5 Q96.8,317.6 88.2,317.6 L83.2,317.6 Q79.6,317.2 79.6,313 Z" fill="#eeeeee" stroke="#eeeeee" stroke-width="3" stroke-linejoin="round" filter="url(#b1)"/>
<path d="M79.5,290.5 Q80,286.8 83.6,286.8 Q87.6,287 87.9,291.5 L96.8,310.5 Q96.8,317.6 88.2,317.6 L83.2,317.6 Q79.6,317.2 79.6,313 Z" fill="#cccccc" filter="url(#tx)"/>
<ellipse cx="83.5" cy="289.5" rx="2.6" ry="1.8" fill="#9c9c9c" opacity="1" filter="url(#b1)"/>
<ellipse cx="83.5" cy="298.5" rx="2.4" ry="1.6" fill="#aaa" opacity="1" filter="url(#b1)"/>
<ellipse cx="85.5" cy="310" rx="3" ry="2" fill="#a2a2a2" opacity="1" filter="url(#b1)"/>
<path d="M114.2,293 Q113.8,287.9 118.5,287.9 Q123,288 124.6,293 Q128,303 127.4,312 L126.8,322 Q126.4,326.4 122,326.4 Q117.6,326.4 117.2,322 L116.6,312 Q116,302 114.4,296.5 Z" fill="#eeeeee" stroke="#eeeeee" stroke-width="3" stroke-linejoin="round" filter="url(#b1)"/>
<path d="M114.2,293 Q113.8,287.9 118.5,287.9 Q123,288 124.6,293 Q128,303 127.4,312 L126.8,322 Q126.4,326.4 122,326.4 Q117.6,326.4 117.2,322 L116.6,312 Q116,302 114.4,296.5 Z" fill="#c2c2c2" filter="url(#tx)"/>
<ellipse cx="118.5" cy="291" rx="3" ry="2.2" fill="#939393" opacity="1" filter="url(#b1)"/>
<ellipse cx="122" cy="304" rx="3" ry="2.5" fill="#aaa" opacity="1" filter="url(#b1)"/>
<ellipse cx="121.8" cy="316.5" rx="3.2" ry="2.5" fill="#979797" opacity="1" filter="url(#b1)"/>
<path d="M130.2,292 Q130.6,288.6 135,288.6 Q139.4,288.8 139.4,292 L139.4,317.5 Q140.4,324.6 135.4,324.6 Q130.2,324.6 130.2,320 Z" fill="#eeeeee" stroke="#eeeeee" stroke-width="3" stroke-linejoin="round" filter="url(#b1)"/>
<path d="M130.2,292 Q130.6,288.6 135,288.6 Q139.4,288.8 139.4,292 L139.4,317.5 Q140.4,324.6 135.4,324.6 Q130.2,324.6 130.2,320 Z" fill="#c8c8c8" filter="url(#tx)"/>
<ellipse cx="134.5" cy="291.5" rx="3" ry="2" fill="#989898" opacity="1" filter="url(#b1)"/>
<ellipse cx="135" cy="305" rx="2.5" ry="2" fill="#ababab" opacity="1" filter="url(#b1)"/>
<ellipse cx="135.5" cy="316" rx="3" ry="2.2" fill="#9c9c9c" opacity="1" filter="url(#b1)"/>
<path d="M118,355 Q118.2,351.7 123,351.7 Q128,351.8 128.2,355 L128.6,373.5 Q128.4,377.4 123.2,377.4 Q118,377.4 117.8,373.5 Z" fill="#eeeeee" stroke="#eeeeee" stroke-width="3" stroke-linejoin="round" filter="url(#b1)"/>
<path d="M118,355 Q118.2,351.7 123,351.7 Q128,351.8 128.2,355 L128.6,373.5 Q128.4,377.4 123.2,377.4 Q118,377.4 117.8,373.5 Z" fill="#cbcbcb" filter="url(#tx)"/>
<ellipse cx="121" cy="354.5" rx="2" ry="1.8" fill="#a4a4a4" opacity="1" filter="url(#b1)"/>
<ellipse cx="123.5" cy="363" rx="2.5" ry="2" fill="#b2b2b2" opacity="1" filter="url(#b1)"/>
<path d="M129.6,355 Q129.8,351.3 134.6,351.3 Q139.6,351.5 139.6,355 L139.8,372.5 Q139.6,376.3 134.8,376.3 Q129.6,376.3 129.5,372.5 Z" fill="#eeeeee" stroke="#eeeeee" stroke-width="3" stroke-linejoin="round" filter="url(#b1)"/>
<path d="M129.6,355 Q129.8,351.3 134.6,351.3 Q139.6,351.5 139.6,355 L139.8,372.5 Q139.6,376.3 134.8,376.3 Q129.6,376.3 129.5,372.5 Z" fill="#c8c8c8" filter="url(#tx)"/>
<ellipse cx="133" cy="354.5" rx="2" ry="1.8" fill="#a6a6a6" opacity="1" filter="url(#b1)"/>
<ellipse cx="135" cy="366" rx="2.5" ry="2" fill="#b0b0b0" opacity="1" filter="url(#b1)"/>
<path d="M19.4,345 Q19.6,341.7 23.3,341.7 Q27,341.9 27.3,345 L27.4,371 Q27.2,374.4 23.4,374.4 Q19.6,374.4 19.5,371 Z" fill="#eeeeee" stroke="#eeeeee" stroke-width="3" stroke-linejoin="round" filter="url(#b1)"/>
<path d="M19.4,345 Q19.6,341.7 23.3,341.7 Q27,341.9 27.3,345 L27.4,371 Q27.2,374.4 23.4,374.4 Q19.6,374.4 19.5,371 Z" fill="#cbcbcb" filter="url(#tx)"/>
<ellipse cx="23.4" cy="344.5" rx="3.2" ry="0.7" fill="#a2a2a2" opacity="1" filter="url(#b05)"/>
<ellipse cx="23.4" cy="348.5" rx="3.2" ry="0.7" fill="#a2a2a2" opacity="1" filter="url(#b05)"/>
<ellipse cx="23.4" cy="352.5" rx="3.2" ry="0.7" fill="#a2a2a2" opacity="1" filter="url(#b05)"/>
<ellipse cx="23.4" cy="360.5" rx="3.2" ry="0.7" fill="#a2a2a2" opacity="1" filter="url(#b05)"/>
<ellipse cx="23.4" cy="364.5" rx="3.2" ry="0.7" fill="#a2a2a2" opacity="1" filter="url(#b05)"/>
<ellipse cx="23.4" cy="368.5" rx="3.2" ry="0.7" fill="#a2a2a2" opacity="1" filter="url(#b05)"/>
<ellipse cx="23.4" cy="356.5" rx="3.4" ry="1.0" fill="#7a7a7a" opacity="1" filter="url(#b05)"/>
<path d="M37.6,346.3 L32.4,357.3 L42.6,366.3" stroke="#eeeeee" stroke-width="9.6" stroke-linecap="round" stroke-linejoin="round" fill="none" filter="url(#b1)"/>
<path d="M37.6,346.3 L32.4,357.3 L42.6,366.3" stroke="#bdbdbd" stroke-width="6.6" stroke-linecap="round" stroke-linejoin="round" fill="none" filter="url(#tx)" opacity="1"/>
<ellipse cx="36.4" cy="348.5" rx="3" ry="1.4" fill="#969696" opacity="1" filter="url(#b05)"/>
<ellipse cx="33" cy="356.5" rx="2.4" ry="2" fill="#979797" opacity="1" filter="url(#b05)"/>
<ellipse cx="37.5" cy="361.5" rx="2.6" ry="1.5" fill="#9c9c9c" opacity="1" filter="url(#b05)"/>
<ellipse cx="42.4" cy="366" rx="2" ry="2" fill="#888" opacity="1" filter="url(#b05)"/>
<line x1="187.70" y1="229.80" x2="187.70" y2="273.30" stroke="#555" stroke-width="0.6" />
<line x1="187.40" y1="273.30" x2="256.00" y2="273.30" stroke="#555" stroke-width="0.6" />
<line x1="190.60" y1="273.30" x2="190.60" y2="275.50" stroke="#555" stroke-width="0.6" />
<text transform="translate(193.00 281.30) rotate(-45) scale(1 1.18)" font-size="8.0" text-anchor="end" fill="#231f20">0</text>
<line x1="204.93" y1="273.30" x2="204.93" y2="275.50" stroke="#555" stroke-width="0.6" />
<text transform="translate(207.33 281.30) rotate(-45) scale(1 1.18)" font-size="8.0" text-anchor="end" fill="#231f20">100</text>
<line x1="219.26" y1="273.30" x2="219.26" y2="275.50" stroke="#555" stroke-width="0.6" />
<text transform="translate(221.66 281.30) rotate(-45) scale(1 1.18)" font-size="8.0" text-anchor="end" fill="#231f20">200</text>
<line x1="233.59" y1="273.30" x2="233.59" y2="275.50" stroke="#555" stroke-width="0.6" />
<text transform="translate(235.99 281.30) rotate(-45) scale(1 1.18)" font-size="8.0" text-anchor="end" fill="#231f20">300</text>
<line x1="247.92" y1="273.30" x2="247.92" y2="275.50" stroke="#555" stroke-width="0.6" />
<text transform="translate(250.32 281.30) rotate(-45) scale(1 1.18)" font-size="8.0" text-anchor="end" fill="#231f20">400</text>
<text transform="translate(222.00 227.80) scale(1 1.18)" font-size="8.0" text-anchor="middle" fill="#231f20" font-weight="normal" >6Al</text>
<line x1="185.50" y1="271.00" x2="187.70" y2="271.00" stroke="#555" stroke-width="0.6" />
<text transform="translate(181.50 274.00) scale(1 1.18)" font-size="8.3" text-anchor="end" fill="#231f20" font-weight="normal" >0</text>
<line x1="185.50" y1="258.33" x2="187.70" y2="258.33" stroke="#555" stroke-width="0.6" />
<text transform="translate(181.50 261.33) scale(1 1.18)" font-size="8.3" text-anchor="end" fill="#231f20" font-weight="normal" >20</text>
<line x1="185.50" y1="245.67" x2="187.70" y2="245.67" stroke="#555" stroke-width="0.6" />
<text transform="translate(181.50 248.67) scale(1 1.18)" font-size="8.3" text-anchor="end" fill="#231f20" font-weight="normal" >40</text>
<line x1="185.50" y1="233.00" x2="187.70" y2="233.00" stroke="#555" stroke-width="0.6" />
<text transform="translate(181.50 236.00) scale(1 1.18)" font-size="8.3" text-anchor="end" fill="#231f20" font-weight="normal" >60</text>
<line x1="258.40" y1="229.80" x2="258.40" y2="273.30" stroke="#555" stroke-width="0.6" />
<line x1="258.10" y1="273.30" x2="326.50" y2="273.30" stroke="#555" stroke-width="0.6" />
<line x1="261.40" y1="273.30" x2="261.40" y2="275.50" stroke="#555" stroke-width="0.6" />
<text transform="translate(263.80 281.30) rotate(-45) scale(1 1.18)" font-size="8.0" text-anchor="end" fill="#231f20">0</text>
<line x1="284.46" y1="273.30" x2="284.46" y2="275.50" stroke="#555" stroke-width="0.6" />
<text transform="translate(286.86 281.30) rotate(-45) scale(1 1.18)" font-size="8.0" text-anchor="end" fill="#231f20">200</text>
<line x1="307.52" y1="273.30" x2="307.52" y2="275.50" stroke="#555" stroke-width="0.6" />
<text transform="translate(309.92 281.30) rotate(-45) scale(1 1.18)" font-size="8.0" text-anchor="end" fill="#231f20">400</text>
<text transform="translate(292.40 227.80) scale(1 1.18)" font-size="8.0" text-anchor="middle" fill="#231f20" font-weight="normal" >6Cm</text>
<line x1="328.50" y1="229.80" x2="328.50" y2="273.30" stroke="#555" stroke-width="0.6" />
<line x1="328.20" y1="273.30" x2="396.30" y2="273.30" stroke="#555" stroke-width="0.6" />
<line x1="331.80" y1="273.30" x2="331.80" y2="275.50" stroke="#555" stroke-width="0.6" />
<text transform="translate(334.20 281.30) rotate(-45) scale(1 1.18)" font-size="8.0" text-anchor="end" fill="#231f20">0</text>
<line x1="345.65" y1="273.30" x2="345.65" y2="275.50" stroke="#555" stroke-width="0.6" />
<text transform="translate(348.05 281.30) rotate(-45) scale(1 1.18)" font-size="8.0" text-anchor="end" fill="#231f20">100</text>
<line x1="359.50" y1="273.30" x2="359.50" y2="275.50" stroke="#555" stroke-width="0.6" />
<text transform="translate(361.90 281.30) rotate(-45) scale(1 1.18)" font-size="8.0" text-anchor="end" fill="#231f20">200</text>
<line x1="373.35" y1="273.30" x2="373.35" y2="275.50" stroke="#555" stroke-width="0.6" />
<text transform="translate(375.75 281.30) rotate(-45) scale(1 1.18)" font-size="8.0" text-anchor="end" fill="#231f20">300</text>
<line x1="387.20" y1="273.30" x2="387.20" y2="275.50" stroke="#555" stroke-width="0.6" />
<text transform="translate(389.60 281.30) rotate(-45) scale(1 1.18)" font-size="8.0" text-anchor="end" fill="#231f20">400</text>
<text transform="translate(363.00 227.80) scale(1 1.18)" font-size="8.0" text-anchor="middle" fill="#231f20" font-weight="normal" >6Dm</text>
<line x1="187.70" y1="311.00" x2="187.70" y2="354.20" stroke="#555" stroke-width="0.6" />
<line x1="187.40" y1="354.20" x2="256.00" y2="354.20" stroke="#555" stroke-width="0.6" />
<line x1="190.60" y1="354.20" x2="190.60" y2="356.40" stroke="#555" stroke-width="0.6" />
<text transform="translate(193.00 362.20) rotate(-45) scale(1 1.18)" font-size="8.0" text-anchor="end" fill="#231f20">0</text>
<line x1="204.93" y1="354.20" x2="204.93" y2="356.40" stroke="#555" stroke-width="0.6" />
<text transform="translate(207.33 362.20) rotate(-45) scale(1 1.18)" font-size="8.0" text-anchor="end" fill="#231f20">100</text>
<line x1="219.26" y1="354.20" x2="219.26" y2="356.40" stroke="#555" stroke-width="0.6" />
<text transform="translate(221.66 362.20) rotate(-45) scale(1 1.18)" font-size="8.0" text-anchor="end" fill="#231f20">200</text>
<line x1="233.59" y1="354.20" x2="233.59" y2="356.40" stroke="#555" stroke-width="0.6" />
<text transform="translate(235.99 362.20) rotate(-45) scale(1 1.18)" font-size="8.0" text-anchor="end" fill="#231f20">300</text>
<line x1="247.92" y1="354.20" x2="247.92" y2="356.40" stroke="#555" stroke-width="0.6" />
<text transform="translate(250.32 362.20) rotate(-45) scale(1 1.18)" font-size="8.0" text-anchor="end" fill="#231f20">400</text>
<text transform="translate(221.60 309.00) scale(1 1.18)" font-size="8.0" text-anchor="middle" fill="#231f20" font-weight="normal" >6As</text>
<line x1="185.50" y1="352.40" x2="187.70" y2="352.40" stroke="#555" stroke-width="0.6" />
<text transform="translate(181.50 355.40) scale(1 1.18)" font-size="8.3" text-anchor="end" fill="#231f20" font-weight="normal" >0</text>
<line x1="185.50" y1="339.47" x2="187.70" y2="339.47" stroke="#555" stroke-width="0.6" />
<text transform="translate(181.50 342.47) scale(1 1.18)" font-size="8.3" text-anchor="end" fill="#231f20" font-weight="normal" >20</text>
<line x1="185.50" y1="326.53" x2="187.70" y2="326.53" stroke="#555" stroke-width="0.6" />
<text transform="translate(181.50 329.53) scale(1 1.18)" font-size="8.3" text-anchor="end" fill="#231f20" font-weight="normal" >40</text>
<line x1="185.50" y1="313.60" x2="187.70" y2="313.60" stroke="#555" stroke-width="0.6" />
<text transform="translate(181.50 316.60) scale(1 1.18)" font-size="8.3" text-anchor="end" fill="#231f20" font-weight="normal" >60</text>
<line x1="258.40" y1="311.00" x2="258.40" y2="354.20" stroke="#555" stroke-width="0.6" />
<line x1="258.10" y1="354.20" x2="326.50" y2="354.20" stroke="#555" stroke-width="0.6" />
<line x1="261.40" y1="354.20" x2="261.40" y2="356.40" stroke="#555" stroke-width="0.6" />
<text transform="translate(263.80 362.20) rotate(-45) scale(1 1.18)" font-size="8.0" text-anchor="end" fill="#231f20">0</text>
<line x1="281.06" y1="354.20" x2="281.06" y2="356.40" stroke="#555" stroke-width="0.6" />
<text transform="translate(283.46 362.20) rotate(-45) scale(1 1.18)" font-size="8.0" text-anchor="end" fill="#231f20">200</text>
<line x1="300.72" y1="354.20" x2="300.72" y2="356.40" stroke="#555" stroke-width="0.6" />
<text transform="translate(303.12 362.20) rotate(-45) scale(1 1.18)" font-size="8.0" text-anchor="end" fill="#231f20">400</text>
<line x1="320.38" y1="354.20" x2="320.38" y2="356.40" stroke="#555" stroke-width="0.6" />
<text transform="translate(322.78 362.20) rotate(-45) scale(1 1.18)" font-size="8.0" text-anchor="end" fill="#231f20">600</text>
<text transform="translate(293.00 309.00) scale(1 1.18)" font-size="8.0" text-anchor="middle" fill="#231f20" font-weight="normal" >6Cs</text>
<line x1="328.50" y1="311.00" x2="328.50" y2="354.20" stroke="#555" stroke-width="0.6" />
<line x1="328.20" y1="354.20" x2="397.30" y2="354.20" stroke="#555" stroke-width="0.6" />
<line x1="331.80" y1="354.20" x2="331.80" y2="356.40" stroke="#555" stroke-width="0.6" />
<text transform="translate(334.20 362.20) rotate(-45) scale(1 1.18)" font-size="8.0" text-anchor="end" fill="#231f20">0</text>
<line x1="353.15" y1="354.20" x2="353.15" y2="356.40" stroke="#555" stroke-width="0.6" />
<text transform="translate(355.55 362.20) rotate(-45) scale(1 1.18)" font-size="8.0" text-anchor="end" fill="#231f20">100</text>
<line x1="374.50" y1="354.20" x2="374.50" y2="356.40" stroke="#555" stroke-width="0.6" />
<text transform="translate(376.90 362.20) rotate(-45) scale(1 1.18)" font-size="8.0" text-anchor="end" fill="#231f20">200</text>
<line x1="395.85" y1="354.20" x2="395.85" y2="356.40" stroke="#555" stroke-width="0.6" />
<text transform="translate(398.25 362.20) rotate(-45) scale(1 1.18)" font-size="8.0" text-anchor="end" fill="#231f20">300</text>
<text transform="translate(362.70 309.00) scale(1 1.18)" font-size="8.0" text-anchor="middle" fill="#231f20" font-weight="normal" >6Ds</text>
<text transform="translate(165.4 291.3) rotate(-90) scale(1 1.18)" font-size="8.1" text-anchor="middle" fill="#231f20">Read count (kb)</text>
<text transform="translate(292.50 385.20) scale(1 1.18)" font-size="8.1" text-anchor="middle" fill="#231f20" font-weight="normal" >Position (Mb)</text>
<path d="M227.8 255.3h0M234.6 256.8h0M193.4 253.6h0M198.3 254.8h0M206.0 258.4h0M207.9 255.0h0M236.1 254.6h0M227.5 254.0h0M191.8 252.5h0M242.3 255.0h0M247.4 256.9h0M246.2 256.0h0M247.7 255.2h0M201.4 254.9h0M195.5 255.6h0M211.3 254.8h0M239.1 256.2h0M232.5 255.2h0M248.2 254.4h0M192.8 252.9h0M225.2 254.9h0M247.0 255.7h0M235.5 253.6h0M212.3 255.6h0M236.6 254.4h0M241.5 254.7h0M246.5 255.1h0M244.9 255.2h0M245.3 256.4h0M202.0 254.7h0M200.4 255.5h0M194.6 254.7h0M215.2 254.8h0M218.1 265.4h0M193.6 254.3h0M246.7 256.1h0M237.4 254.8h0M240.7 255.0h0M218.0 253.3h0M220.0 255.0h0M219.5 262.6h0M247.3 254.9h0M220.7 255.2h0M237.0 255.1h0M212.7 254.5h0M230.2 256.7h0M212.8 255.0h0M236.3 256.1h0M208.8 253.6h0M192.4 254.7h0M230.6 256.8h0M237.9 255.1h0M229.0 255.4h0M240.5 257.1h0M231.6 253.3h0M222.4 255.4h0M240.2 254.7h0M233.4 255.7h0M201.7 254.3h0M216.1 256.0h0M236.6 256.3h0M201.0 255.5h0M229.4 255.0h0M194.2 253.4h0M194.9 256.6h0M193.8 254.2h0M227.2 255.7h0M191.8 255.3h0M215.5 253.7h0M193.8 252.9h0M223.3 255.7h0M239.1 254.6h0M238.8 256.0h0M226.2 255.8h0M247.2 254.6h0M243.5 258.2h0M224.5 255.5h0M243.3 255.9h0M216.7 254.8h0M213.7 254.2h0M244.6 256.2h0M220.5 255.4h0M210.2 253.8h0M219.4 260.4h0M208.7 258.3h0M207.6 256.2h0M237.0 255.4h0M249.0 255.1h0M226.9 256.4h0M234.8 255.2h0M235.8 255.7h0M208.9 253.7h0M218.6 255.8h0M206.4 253.6h0M244.8 259.7h0M216.5 255.6h0M232.7 256.0h0M214.1 255.5h0M241.1 255.3h0M195.6 252.2h0M216.8 255.2h0M200.0 253.1h0M223.5 255.8h0M225.7 255.1h0M195.7 255.3h0M193.2 254.7h0M249.5 255.9h0M204.4 254.8h0M246.9 255.8h0M244.9 256.1h0M227.1 255.6h0M194.3 256.3h0M195.9 258.0h0M199.5 255.1h0M210.0 255.5h0M213.4 255.4h0M232.1 254.6h0M244.5 254.7h0M227.7 255.3h0M235.2 254.4h0M199.5 254.4h0M202.1 253.7h0M229.7 254.2h0M199.0 253.8h0M205.6 253.9h0M237.9 256.1h0M233.7 254.9h0M231.2 255.1h0M198.5 253.2h0M199.8 254.7h0M212.3 254.7h0M211.9 254.0h0M199.6 253.9h0M216.8 256.0h0M221.7 255.9h0M214.6 255.4h0M193.7 254.4h0M235.8 258.7h0M243.3 256.3h0M197.5 255.0h0M201.0 255.1h0M200.6 253.9h0M207.8 254.3h0M219.7 257.7h0M246.0 256.2h0M246.5 256.8h0M230.5 255.6h0M201.2 253.3h0M193.2 255.2h0M212.8 254.4h0M218.8 255.2h0M205.7 253.3h0M246.2 256.2h0M192.1 257.5h0M215.5 253.9h0M221.8 254.8h0M197.2 252.8h0M245.9 254.9h0M205.8 253.8h0M206.5 254.4h0M209.5 254.5h0M202.1 254.5h0M215.0 255.2h0M198.0 254.5h0M245.1 257.0h0M192.8 255.3h0M224.8 255.9h0M244.6 254.8h0M217.7 254.7h0M209.8 255.2h0M236.5 255.1h0M196.5 255.0h0M196.6 255.4h0M195.3 253.0h0M203.3 254.7h0M216.1 254.1h0M235.3 257.0h0M235.7 256.0h0M217.3 254.4h0M233.9 256.5h0M207.2 254.4h0M195.6 257.0h0M230.9 255.4h0M224.0 254.8h0M194.7 257.4h0M227.2 253.9h0M216.6 259.5h0M239.6 255.0h0M197.3 254.9h0M217.6 255.0h0M237.8 254.9h0M218.4 262.0h0M246.0 257.8h0M197.7 254.8h0M216.0 252.7h0M225.2 254.4h0M242.8 256.0h0M203.4 254.2h0M212.4 254.8h0M206.1 255.2h0M240.4 254.9h0M200.0 255.4h0M220.1 254.5h0M233.3 255.2h0M203.3 254.3h0M241.7 256.3h0M238.1 255.6h0M225.7 255.1h0M214.3 254.9h0M213.9 254.7h0M232.5 257.2h0M245.2 254.3h0M230.5 256.7h0M226.1 255.5h0M222.0 255.1h0M212.3 254.5h0M235.7 255.6h0M207.6 255.4h0M195.9 254.2h0M231.6 257.1h0M234.5 255.8h0M243.6 256.0h0M248.2 259.9h0M202.1 254.7h0M243.8 254.7h0M198.1 255.0h0M223.8 255.3h0M204.1 255.4h0M207.2 255.9h0M228.4 256.4h0M204.8 253.6h0M242.6 255.2h0M215.9 255.8h0M209.2 254.3h0M226.8 254.7h0M198.4 254.5h0M226.7 255.0h0M229.2 254.8h0M233.9 254.5h0M247.2 255.4h0M241.0 256.7h0M232.1 256.8h0M219.3 265.1h0M227.4 254.9h0M235.6 255.5h0M233.0 256.9h0M247.1 257.2h0M197.7 255.9h0M203.7 255.2h0M234.8 254.7h0M215.1 255.6h0M226.3 255.4h0M231.3 257.4h0M195.9 253.2h0M208.9 254.0h0M234.4 254.7h0M213.9 255.1h0M237.4 254.5h0M208.9 255.5h0M194.7 253.6h0M230.3 254.7h0M219.4 254.7h0M214.1 254.5h0M238.7 260.4h0M212.6 254.2h0M213.9 254.8h0M194.8 255.1h0M196.7 254.5h0M247.0 256.1h0M214.5 255.8h0M216.9 256.4h0M228.6 256.2h0M193.1 254.6h0M244.7 254.8h0M249.6 255.7h0M237.0 257.2h0M248.0 255.2h0M207.4 254.7h0M208.3 254.9h0M218.2 262.6h0M243.0 255.6h0M247.4 255.6h0M199.6 254.3h0M193.5 254.3h0M207.2 254.6h0M200.5 255.3h0M248.2 255.9h0M229.0 255.6h0M213.1 255.9h0M205.7 254.5h0M207.0 255.9h0M219.6 260.2h0M216.0 256.0h0M195.0 254.6h0M214.1 254.9h0M217.8 254.8h0M245.3 256.4h0M246.0 255.0h0M248.9 255.9h0M196.2 254.3h0M222.4 256.5h0M223.7 253.9h0M199.7 255.0h0M203.8 253.8h0M195.2 256.9h0M207.0 254.3h0M237.1 255.5h0M228.0 255.8h0M228.2 255.2h0M217.1 254.3h0M202.0 254.3h0M224.2 257.0h0M239.5 257.2h0M225.8 255.1h0M233.5 256.2h0M246.7 256.4h0M195.5 253.3h0M229.3 255.1h0M233.5 254.3h0M198.7 253.9h0M206.7 254.7h0M221.6 255.0h0M218.7 257.5h0M196.9 253.9h0M196.3 255.8h0M199.8 255.3h0M231.5 256.3h0M200.1 254.1h0M220.3 256.7h0M230.1 255.7h0M237.2 255.1h0M206.8 255.2h0M243.3 255.7h0M247.1 254.6h0M236.3 255.6h0M240.6 255.2h0M194.6 253.0h0M206.8 253.9h0M210.8 254.5h0M215.5 254.7h0M195.4 254.7h0M243.6 253.8h0M197.8 254.9h0M224.5 254.8h0M198.0 256.3h0M218.7 259.1h0M222.9 253.0h0M217.1 253.7h0M223.6 254.2h0M221.5 255.2h0M213.8 256.1h0M238.7 256.9h0M199.8 252.6h0M217.4 254.3h0M225.0 255.8h0M206.6 254.6h0M235.7 255.8h0M232.0 255.6h0M197.7 254.0h0M196.9 254.4h0M227.6 254.9h0M197.8 254.8h0M206.3 254.8h0M198.8 254.2h0M211.2 255.8h0M242.3 256.2h0M208.1 255.5h0M216.1 253.4h0M248.3 254.9h0M233.9 260.0h0M209.8 254.0h0M240.2 256.5h0M211.4 254.9h0M227.3 256.2h0M201.0 254.5h0M236.4 255.4h0M194.2 254.8h0M248.2 255.7h0M205.5 254.0h0M229.1 256.3h0M207.6 253.5h0M234.8 255.3h0M216.9 255.4h0M226.3 253.9h0M217.5 255.0h0M240.4 255.8h0M195.0 257.0h0M217.1 255.3h0M219.3 255.2h0M227.8 255.2h0M227.3 255.5h0M192.9 254.2h0M203.4 253.9h0M213.1 254.5h0M204.5 253.7h0M233.9 255.3h0M201.4 252.8h0M204.3 255.1h0M217.9 259.1h0M241.6 255.5h0M235.9 254.2h0M215.8 256.2h0M229.9 254.3h0M202.8 255.4h0M206.2 255.2h0M222.6 256.4h0M212.9 253.9h0M200.1 253.8h0M192.1 260.6h0M247.2 255.5h0M210.6 254.4h0M192.1 256.9h0M235.6 256.9h0M244.9 255.5h0M222.8 254.7h0M239.4 254.7h0M208.8 254.6h0M204.5 254.9h0M226.2 254.1h0M210.3 254.0h0M236.8 255.9h0M221.8 253.9h0M228.8 254.2h0M221.5 255.6h0M217.4 254.5h0M195.9 253.1h0M208.6 254.1h0M208.6 254.3h0M211.8 254.4h0M203.8 254.7h0M218.5 259.9h0M242.2 254.6h0M205.0 254.7h0M220.8 254.4h0M221.1 254.4h0M229.8 256.1h0M215.2 255.3h0M242.6 255.4h0M212.9 255.7h0M217.6 255.6h0M194.1 256.5h0M196.5 256.2h0M208.2 254.8h0M201.1 254.7h0M231.9 256.9h0M227.6 255.3h0M202.0 255.2h0M198.2 254.3h0M213.2 254.4h0M214.3 256.8h0M249.5 254.8h0M218.2 264.4h0M245.7 256.2h0M217.1 254.6h0M218.1 255.0h0M205.9 254.4h0M225.4 256.9h0M209.5 254.8h0M227.2 254.2h0M220.7 253.4h0M222.2 254.5h0M237.4 255.3h0M218.1 257.2h0M206.1 254.5h0M198.1 253.1h0M240.1 255.6h0M206.5 254.3h0M201.9 253.9h0M220.2 254.3h0M241.0 255.5h0M234.1 254.5h0M224.9 255.7h0M193.9 256.2h0M206.1 254.5h0M247.2 257.3h0M226.0 255.0h0M214.5 255.3h0M237.5 254.4h0M200.4 253.4h0M192.1 255.5h0M203.6 255.1h0M234.0 256.3h0M245.1 254.9h0M234.1 254.6h0M242.2 256.5h0M202.6 255.4h0M223.3 254.0h0M219.3 254.2h0M209.2 255.8h0M209.8 255.1h0M219.0 262.0h0M203.0 255.2h0M245.5 254.7h0M193.5 255.6h0M214.9 254.6h0M232.0 255.5h0M193.0 256.2h0M206.7 252.9h0M219.8 254.3h0M222.9 254.1h0M247.1 255.9h0M230.1 255.4h0M231.4 256.1h0M230.5 254.4h0M232.7 255.7h0M227.3 256.4h0M195.3 253.1h0M233.6 254.4h0M218.8 254.1h0M210.5 255.1h0M247.1 254.5h0M223.0 254.4h0M241.5 255.0h0M232.2 254.6h0M238.2 255.3h0M244.6 255.9h0M235.5 256.1h0M230.4 254.1h0M241.8 256.1h0M220.3 257.1h0M248.9 261.9h0M249.6 260.5h0M248.8 261.9h0M248.2 257.4h0M248.4 260.6h0M249.3 260.9h0M249.1 259.3h0M249.5 259.7h0M248.5 260.8h0M248.5 262.1h0M250.2 270.6h0M250.9 269.1h0M253.2 270.1h0M250.7 270.3h0M252.0 269.8h0M250.2 269.7h0M250.7 270.6h0M252.6 270.7h0M251.4 269.1h0M251.7 268.8h0M250.9 268.6h0M249.9 268.7h0M251.3 271.0h0M250.7 268.5h0M252.3 269.1h0M252.7 271.0h0M250.9 269.8h0M253.0 268.7h0M250.3 268.5h0M251.8 270.2h0M250.1 269.9h0M251.6 269.9h0M191.5 244.4h0M191.9 246.9h0M191.3 264.7h0M191.5 267.2h0M191.2 269.1h0M191.3 270.4h0M191.5 265.9h0M215.0 248.2h0M214.2 250.1h0M219.0 264.7h0M219.3 262.8h0M232.2 264.0h0M232.4 264.7h0M199.2 260.2h0M196.3 261.5h0M202.8 259.0h0M194.9 260.2h0M250.1 265.9h0M253.4 266.6h0M252.9 267.2h0" stroke="#f8766d" stroke-width="1.8" stroke-linecap="round" fill="none"/>
<line x1="261.40" y1="270.43" x2="325.39" y2="270.43" stroke="#00bfc4" stroke-width="1.7" stroke-linecap="round"/>
<path d="M281.3 270.1h0M291.8 270.6h0M311.2 270.6h0M288.5 270.7h0M276.6 270.1h0M301.2 270.4h0M304.5 270.3h0M294.8 270.5h0M270.8 270.8h0M269.1 270.5h0M262.1 270.3h0M283.0 270.6h0M281.5 270.4h0M274.8 270.2h0M292.3 270.8h0M266.9 270.1h0M298.4 270.6h0M307.0 270.8h0M318.3 270.1h0M303.9 270.8h0M288.6 270.2h0M299.4 270.7h0M276.4 270.8h0M294.8 270.7h0M289.9 270.1h0M319.0 270.4h0M311.6 270.7h0M322.0 270.2h0M292.3 270.1h0M280.4 270.1h0M282.1 270.1h0M315.0 270.1h0M307.9 270.8h0M279.3 270.3h0M319.5 270.3h0M263.9 270.5h0M283.5 270.7h0M275.8 270.4h0M285.3 270.6h0M287.8 270.1h0M299.6 270.2h0M321.1 270.8h0M317.7 270.7h0M274.0 270.2h0M309.6 270.3h0M291.9 270.3h0M288.8 270.7h0M275.4 270.7h0M263.7 270.1h0M322.2 270.5h0M287.8 270.6h0M311.4 270.4h0M272.3 270.1h0M320.8 270.8h0M290.8 270.6h0M302.3 270.5h0M280.5 270.6h0M300.3 270.4h0M292.6 270.3h0M291.7 270.1h0M289.5 270.2h0M320.9 270.3h0M299.1 270.2h0M307.0 270.7h0M288.1 270.7h0M262.7 270.3h0M282.4 270.6h0M263.1 270.8h0M304.4 270.5h0M289.3 270.3h0M319.5 270.3h0M275.4 270.1h0M273.2 270.4h0M302.6 270.6h0M318.3 270.3h0M306.8 270.7h0M314.7 270.6h0M301.0 270.2h0M282.0 270.6h0M282.5 270.1h0M303.5 270.5h0M297.4 270.3h0M278.2 270.8h0M268.4 270.4h0M299.7 270.1h0M301.1 270.2h0M324.5 270.4h0M288.4 270.5h0M285.2 270.2h0M298.2 270.7h0M322.5 270.4h0M309.3 270.4h0M299.1 270.4h0M268.7 270.7h0M308.2 270.5h0M269.6 270.2h0M309.3 270.2h0M286.2 270.7h0M310.0 270.6h0M304.2 270.3h0M278.9 270.8h0M299.2 270.2h0M299.1 270.1h0M276.0 270.3h0M289.3 270.4h0M280.7 270.6h0M296.5 270.3h0M319.6 270.4h0M293.4 270.3h0M301.6 270.5h0M278.5 270.3h0M286.2 270.8h0M272.3 270.5h0M305.3 270.3h0M292.8 270.2h0M282.3 270.5h0M309.5 270.3h0M288.7 270.1h0M263.1 270.4h0M316.3 270.1h0M273.8 270.2h0M295.5 270.1h0M282.4 270.3h0M302.5 270.1h0M283.1 270.5h0M269.4 270.3h0M265.9 270.2h0M270.7 270.7h0M322.2 270.4h0M309.7 270.5h0M276.9 270.5h0M324.3 270.7h0M319.3 270.1h0M304.9 270.6h0M308.1 270.1h0M299.3 270.6h0M300.4 270.1h0M299.2 270.7h0M274.4 270.3h0M264.5 270.8h0M285.3 270.6h0M293.0 270.8h0M297.2 270.3h0M281.7 270.4h0M295.1 270.2h0M298.3 270.3h0M297.5 270.2h0M267.6 270.7h0M316.8 270.2h0M261.9 270.1h0M300.4 270.2h0M306.3 270.5h0M268.7 270.2h0M306.8 270.5h0M278.7 270.5h0M321.3 270.5h0M274.8 270.1h0M324.0 270.7h0M274.0 270.3h0M286.2 270.4h0M305.2 270.6h0M299.4 270.7h0M275.6 270.4h0M288.8 270.1h0M270.6 270.1h0M278.2 270.5h0M268.2 270.6h0M324.2 270.5h0M314.9 270.1h0M305.9 270.7h0M289.0 270.7h0M277.4 270.6h0M272.0 270.3h0M294.9 270.6h0M277.7 270.7h0M268.7 270.5h0M266.2 270.4h0M277.7 270.2h0M278.5 270.2h0M321.9 270.1h0M276.0 270.1h0M291.6 270.1h0M291.1 270.4h0M278.0 270.2h0M284.9 270.1h0M306.7 270.5h0M263.4 270.6h0M288.1 270.5h0M298.7 270.8h0M291.3 270.1h0M322.4 270.3h0M305.3 270.4h0M325.3 270.2h0M290.9 270.4h0M321.5 270.4h0M299.7 270.6h0M303.9 270.4h0M321.8 270.1h0M325.1 270.1h0M264.2 270.8h0M283.1 270.2h0M297.1 270.6h0M267.8 270.6h0M269.5 270.7h0M309.1 270.7h0M272.1 270.3h0M269.8 270.2h0M303.0 270.1h0M307.9 270.3h0M278.5 270.5h0M285.7 270.5h0M319.8 270.5h0M312.5 270.3h0M266.7 270.7h0M298.4 270.2h0M276.3 270.6h0M285.5 270.5h0M288.3 270.1h0M300.3 270.6h0M283.4 270.4h0M271.7 270.5h0M265.6 270.3h0M316.9 270.1h0M299.6 270.5h0M297.2 270.4h0M272.7 270.4h0M293.2 270.7h0M289.7 270.2h0M302.4 270.6h0M276.7 270.3h0M296.8 270.6h0M291.5 270.5h0M301.5 270.1h0M285.3 270.4h0M297.4 270.3h0M277.0 270.6h0M320.4 270.7h0M305.0 270.6h0M292.8 270.5h0M276.7 270.7h0M322.7 270.8h0M270.5 270.2h0M285.2 270.7h0M311.1 270.1h0M274.7 270.3h0M286.8 270.1h0M299.6 270.1h0M303.8 270.7h0M289.7 270.3h0M271.2 270.7h0M324.8 270.1h0M303.0 270.8h0M306.3 270.1h0M311.5 270.3h0M289.5 270.3h0M320.7 270.4h0M266.2 270.7h0M322.3 270.3h0M321.2 270.7h0M268.1 270.3h0M268.8 268.9h0M265.4 267.9h0M274.9 268.1h0M268.8 268.8h0M268.2 268.9h0M267.0 268.9h0M278.0 267.8h0M263.7 268.2h0M275.6 269.3h0M276.8 267.4h0M262.6 268.4h0M268.0 268.9h0M270.9 267.6h0M272.3 267.6h0M265.7 267.8h0M268.2 269.8h0M275.3 268.5h0M265.3 267.5h0M269.9 268.2h0M278.4 269.3h0M270.8 268.6h0M266.3 268.7h0M278.1 268.2h0M266.0 268.2h0M272.0 269.2h0M273.0 269.2h0M274.9 269.1h0M275.7 269.4h0M264.4 269.3h0M263.6 267.6h0M278.6 269.0h0M265.6 267.6h0M276.1 269.6h0M266.7 268.8h0M263.7 269.7h0M268.3 270.0h0M263.9 268.5h0M266.6 267.5h0M278.0 268.2h0M266.2 268.0h0M267.3 267.6h0M268.7 268.2h0M274.4 268.1h0M274.4 269.3h0M264.0 269.2h0M278.0 270.3h0M266.3 269.4h0M269.0 267.6h0M264.4 270.0h0M261.7 269.3h0M274.0 268.9h0M272.6 268.7h0M267.6 269.1h0M262.1 267.4h0M274.1 270.1h0M264.9 267.9h0M270.2 268.0h0M274.4 269.9h0M275.6 269.7h0M263.8 268.0h0M275.5 269.4h0M268.1 268.0h0M266.5 269.0h0M278.6 270.0h0M277.7 267.6h0M278.6 269.6h0M264.8 269.0h0M264.4 267.4h0M271.3 267.7h0M269.9 268.8h0M269.7 262.1h0M325.4 268.5h0" stroke="#00bfc4" stroke-width="1.8" stroke-linecap="round" fill="none"/>
<line x1="331.80" y1="270.43" x2="393.85" y2="270.43" stroke="#619cff" stroke-width="1.7" stroke-linecap="round"/>
<path d="M391.4 270.7h0M345.9 270.2h0M368.5 270.2h0M393.8 270.2h0M369.8 270.2h0M365.0 270.6h0M352.1 270.1h0M364.6 270.8h0M371.8 270.1h0M370.8 270.4h0M360.2 270.3h0M370.1 270.4h0M388.1 270.1h0M380.5 270.3h0M376.6 270.7h0M362.4 270.6h0M344.6 270.1h0M346.2 270.2h0M383.8 270.5h0M333.3 270.7h0M372.0 270.3h0M353.9 270.4h0M342.0 270.3h0M380.5 270.2h0M366.9 270.4h0M331.9 270.6h0M357.1 270.8h0M336.4 270.1h0M374.4 270.4h0M374.8 270.1h0M371.4 270.5h0M356.3 270.1h0M391.3 270.7h0M382.8 270.3h0M353.2 270.3h0M348.9 270.2h0M366.6 270.4h0M335.3 270.1h0M391.4 270.2h0M350.1 270.3h0M339.1 270.4h0M353.3 270.5h0M349.8 270.8h0M358.9 270.6h0M342.7 270.6h0M339.6 270.8h0M392.5 270.8h0M387.5 270.5h0M339.3 270.5h0M363.4 270.8h0M365.6 270.8h0M350.4 270.3h0M384.4 270.7h0M357.1 270.1h0M351.4 270.7h0M347.2 270.2h0M353.3 270.3h0M390.2 270.3h0M344.1 270.4h0M352.1 270.4h0M370.1 270.1h0M374.7 270.4h0M382.3 270.4h0M343.8 270.3h0M348.7 270.6h0M356.0 270.4h0M333.8 270.5h0M391.7 270.4h0M354.7 270.5h0M375.3 270.4h0M357.0 270.4h0M349.0 270.3h0M358.2 270.3h0M353.5 270.3h0M344.0 270.4h0M362.5 270.8h0M339.7 270.5h0M379.5 270.2h0M384.4 270.2h0M392.1 270.7h0M341.2 270.7h0M381.2 270.7h0M351.5 270.7h0M388.4 270.7h0M346.5 270.4h0M375.6 270.8h0M367.9 270.4h0M366.3 270.4h0M381.5 270.2h0M385.5 270.6h0M334.4 270.5h0M333.5 270.3h0M361.7 270.2h0M383.7 270.3h0M375.0 270.6h0M377.1 270.3h0M345.5 270.1h0M361.3 270.4h0M344.1 270.2h0M361.3 270.2h0M384.3 270.4h0M368.3 270.5h0M346.6 270.2h0M389.2 270.8h0M333.9 270.5h0M336.8 270.5h0M353.1 270.6h0M380.1 270.4h0M389.2 270.7h0M355.5 270.3h0M380.0 270.5h0M343.4 270.5h0M367.2 270.1h0M372.4 270.2h0M383.8 270.5h0M363.3 270.2h0M376.9 270.5h0M343.6 270.3h0M350.0 270.6h0M347.4 270.3h0M372.1 270.1h0M368.5 270.4h0M386.9 270.7h0M368.5 270.1h0M352.6 270.7h0M338.9 270.8h0M377.4 270.5h0M382.9 270.2h0M333.4 270.6h0M348.2 270.6h0M333.6 270.6h0M353.0 270.5h0M364.9 270.1h0M338.5 270.7h0M388.1 270.6h0M365.4 270.6h0M387.6 270.1h0M367.3 270.7h0M355.0 270.3h0M367.1 270.6h0M356.5 270.8h0M357.0 270.2h0M355.9 270.5h0M342.3 270.3h0M357.8 270.5h0M380.0 270.6h0M336.6 270.3h0M377.8 270.8h0M353.3 270.1h0M363.5 270.5h0M339.9 270.6h0M368.4 270.1h0M373.1 270.1h0M357.2 270.8h0M353.1 270.5h0M335.4 270.7h0M388.6 270.1h0M340.1 270.7h0M392.9 270.7h0M350.6 270.6h0M344.8 270.8h0M360.6 270.2h0M336.2 270.4h0M340.0 270.2h0M388.2 270.1h0M365.1 270.7h0M376.5 270.8h0M380.1 270.6h0M387.4 270.6h0M377.9 270.4h0M346.7 270.4h0M358.6 270.7h0M365.9 270.4h0M375.4 270.6h0M370.1 270.7h0M364.3 270.6h0M380.8 270.7h0M349.9 270.8h0M350.5 270.4h0M346.0 270.7h0M387.5 270.6h0M345.3 270.5h0M384.2 270.2h0M388.1 270.4h0M352.7 270.4h0M335.4 270.3h0M384.1 270.1h0M383.6 270.3h0M381.9 270.6h0M366.8 270.7h0M390.2 270.4h0M342.8 270.1h0M370.5 270.6h0M384.5 270.3h0M370.6 270.1h0M351.5 270.6h0M367.3 270.7h0M375.4 270.4h0M344.3 270.7h0M341.9 270.4h0M388.8 270.2h0M384.7 270.4h0M381.7 270.6h0M354.7 270.1h0M347.9 270.3h0M367.2 270.8h0M367.1 270.2h0M387.2 270.5h0M387.8 270.8h0M388.3 270.3h0M382.3 270.5h0M368.4 270.2h0M345.7 270.7h0M378.7 270.1h0M346.0 270.4h0M363.4 270.6h0M384.3 270.6h0M380.4 270.5h0M340.9 270.1h0M341.0 270.7h0M333.6 270.5h0M333.5 270.7h0M390.4 270.6h0M376.4 270.6h0M332.6 270.8h0M339.4 270.1h0M360.3 270.6h0M334.7 270.3h0M351.5 270.7h0M359.0 270.3h0M353.1 270.4h0M343.5 270.4h0M334.4 270.1h0M389.7 270.4h0M361.3 270.5h0M378.5 270.4h0M376.0 270.5h0M356.7 270.3h0M343.1 270.6h0M346.8 270.7h0M385.6 270.6h0M377.7 270.8h0M389.4 270.5h0M378.2 270.7h0M369.4 270.2h0M349.8 270.7h0M355.7 270.2h0M379.3 270.8h0M352.0 270.1h0M349.8 270.7h0M385.9 270.2h0M359.6 270.3h0M378.6 270.2h0M343.6 270.3h0M389.4 270.2h0M364.3 270.5h0M392.9 270.1h0M382.0 270.4h0M387.5 270.1h0M363.2 270.7h0M345.4 270.0h0M339.2 268.5h0M342.9 268.0h0M350.0 263.6h0M338.7 263.3h0M338.9 269.4h0M348.6 262.1h0M343.0 266.7h0M350.1 269.5h0M345.5 264.0h0M332.3 270.1h0M351.1 268.5h0M341.1 266.8h0M341.6 270.0h0M339.6 267.1h0M346.0 268.8h0M332.0 262.1h0M333.5 269.6h0M349.3 264.0h0M347.0 269.3h0M348.3 267.9h0M344.6 266.9h0M344.0 268.6h0M337.5 266.9h0M334.2 270.1h0M345.7 270.3h0M351.2 269.9h0M342.2 269.7h0M342.5 268.2h0M336.2 268.6h0M353.4 270.0h0M336.6 269.9h0M334.2 270.3h0M353.0 262.8h0M332.7 266.3h0M344.6 269.8h0M351.4 270.1h0M346.0 267.8h0M347.3 269.8h0M335.1 268.1h0M338.3 268.2h0M348.2 270.3h0M347.9 262.1h0M340.7 268.4h0M339.1 265.5h0M336.7 270.1h0M342.9 269.0h0M344.4 269.8h0M352.4 268.6h0M340.4 267.2h0M332.7 264.6h0M350.3 269.7h0M341.8 270.3h0M349.4 262.1h0M345.0 262.1h0M342.3 265.7h0M350.5 264.4h0M342.0 268.7h0M332.6 263.5h0M333.8 268.4h0M345.2 269.9h0M339.6 269.6h0M332.0 269.2h0M340.3 267.5h0M347.3 263.6h0M351.1 269.7h0M345.3 267.7h0M349.3 270.0h0M339.2 268.2h0M338.8 264.7h0M341.0 267.6h0M333.3 265.2h0M353.4 262.7h0M339.4 266.3h0M353.6 270.1h0M333.4 267.9h0M353.7 270.3h0M350.4 267.9h0M342.3 270.0h0M343.0 268.8h0M336.3 265.1h0M348.2 270.0h0M345.6 268.3h0M352.6 262.1h0M351.5 270.2h0M340.8 254.5h0M332.5 262.8h0M333.5 262.1h0M335.7 264.0h0M340.8 261.5h0M344.0 262.1h0M348.4 265.3h0M338.7 264.0h0M393.6 254.5h0M393.6 256.4h0M393.3 262.1h0M393.7 262.8h0M392.7 265.3h0M393.8 267.2h0M392.5 267.8h0M393.0 268.5h0M391.4 269.1h0M392.0 268.5h0M393.7 266.6h0" stroke="#619cff" stroke-width="1.8" stroke-linecap="round" fill="none"/>
<path d="M217.2 333.6h0M242.8 335.9h0M231.1 334.6h0M230.2 338.1h0M223.3 335.0h0M216.8 334.8h0M243.9 339.6h0M243.1 336.3h0M228.9 338.8h0M202.6 334.5h0M206.1 334.4h0M214.7 337.4h0M228.8 338.6h0M212.3 334.3h0M251.0 337.3h0M245.1 338.3h0M231.0 338.9h0M200.3 336.1h0M244.9 337.9h0M223.1 335.3h0M227.2 335.7h0M226.8 336.7h0M234.5 338.5h0M240.7 337.9h0M241.9 335.7h0M209.3 334.9h0M196.2 335.9h0M241.9 335.9h0M229.7 337.2h0M197.6 334.5h0M200.6 331.2h0M213.3 334.0h0M238.4 339.4h0M250.2 337.0h0M251.1 337.3h0M252.8 340.6h0M227.1 338.0h0M252.5 338.5h0M199.5 337.1h0M202.2 335.4h0M246.8 337.8h0M233.5 338.5h0M253.5 338.3h0M213.4 332.3h0M205.7 334.6h0M217.7 334.7h0M203.5 335.3h0M203.3 334.2h0M206.8 333.5h0M229.5 337.3h0M251.1 336.4h0M237.1 340.7h0M211.5 335.9h0M249.0 338.6h0M253.6 337.7h0M226.7 335.2h0M198.6 334.2h0M222.8 336.5h0M221.2 336.4h0M228.5 336.7h0M215.4 335.3h0M201.9 336.3h0M213.1 334.7h0M223.0 338.7h0M249.5 340.1h0M245.6 341.0h0M226.6 340.7h0M246.8 338.3h0M228.5 339.6h0M214.2 333.9h0M230.9 336.5h0M248.1 334.5h0M199.9 334.0h0M233.4 337.8h0M199.0 334.2h0M246.8 340.7h0M231.1 334.6h0M230.9 338.6h0M223.6 337.4h0M191.8 347.6h0M213.0 333.9h0M232.8 336.8h0M216.8 333.5h0M221.1 334.2h0M213.7 335.3h0M199.0 335.0h0M202.8 334.6h0M197.4 334.1h0M248.6 339.3h0M208.5 335.8h0M245.2 341.2h0M192.8 346.6h0M192.5 350.4h0M249.9 337.3h0M238.2 341.3h0M205.2 335.8h0M199.4 334.5h0M215.2 334.4h0M228.9 336.8h0M219.5 334.7h0M246.8 337.4h0M208.3 335.9h0M227.5 337.7h0M207.2 335.2h0M240.8 337.6h0M191.1 347.1h0M246.2 338.6h0M211.5 335.8h0M232.4 337.8h0M193.1 349.9h0M211.6 336.5h0M200.4 335.5h0M242.9 338.1h0M197.7 335.8h0M222.8 337.3h0M245.2 339.6h0M220.4 334.8h0M194.8 339.2h0M235.8 337.1h0M218.2 334.9h0M241.0 338.0h0M202.9 334.8h0M208.8 333.9h0M215.5 335.4h0M233.0 337.2h0M232.3 337.8h0M197.0 335.6h0M234.6 336.7h0M232.4 341.9h0M218.3 333.0h0M223.2 334.3h0M220.6 334.2h0M247.9 339.4h0M236.9 339.4h0M250.9 337.3h0M201.1 335.1h0M246.1 339.4h0M208.7 336.9h0M201.7 334.4h0M201.3 334.5h0M242.3 340.6h0M218.3 335.7h0M247.1 336.6h0M198.5 333.8h0M207.5 335.3h0M245.2 338.4h0M225.6 336.2h0M224.6 336.9h0M241.9 338.3h0M192.9 344.8h0M204.3 336.2h0M234.6 337.1h0M212.8 334.6h0M194.7 337.5h0M236.4 338.1h0M231.1 337.6h0M230.5 335.0h0M251.0 338.1h0M197.6 335.2h0M226.4 336.3h0M202.5 336.2h0M234.7 338.9h0M241.0 338.1h0M232.7 338.2h0M214.0 336.1h0M195.8 346.0h0M239.4 335.1h0M252.6 338.1h0M229.6 334.8h0M212.4 334.5h0M229.0 334.2h0M219.5 333.3h0M245.5 336.4h0M208.7 335.4h0M234.9 346.7h0M251.7 347.4h0M214.3 334.0h0M251.3 337.0h0M220.5 342.5h0M229.9 346.8h0M239.0 338.7h0M204.5 335.5h0M253.6 340.8h0M228.8 337.9h0M218.2 336.4h0M198.7 331.5h0M244.7 337.8h0M194.3 342.2h0M195.7 336.0h0M197.7 337.1h0M241.7 337.3h0M199.5 334.6h0M237.0 336.2h0M247.0 338.0h0M252.7 348.0h0M238.2 339.3h0M234.1 338.0h0M195.8 335.5h0M235.7 338.5h0M237.6 340.5h0M239.5 347.6h0M201.4 335.6h0M245.5 336.4h0M195.2 340.7h0M229.9 337.2h0M238.9 336.9h0M194.0 346.5h0M213.7 336.0h0M223.7 337.7h0M222.2 335.3h0M203.9 336.3h0M219.0 334.4h0M230.2 336.4h0M252.4 346.3h0M213.8 337.2h0M206.8 335.0h0M194.8 342.5h0M249.6 341.1h0M233.4 339.0h0M233.8 339.9h0M206.5 333.5h0M222.2 337.0h0M212.3 334.7h0M204.0 331.8h0M213.2 336.3h0M196.4 335.8h0M207.8 334.9h0M221.0 336.3h0M195.4 336.6h0M195.2 345.3h0M249.3 336.5h0M204.5 335.5h0M243.2 337.1h0M237.2 336.9h0M218.4 336.6h0M238.8 335.1h0M247.8 338.0h0M210.4 332.1h0M203.5 335.3h0M227.0 337.0h0M232.7 335.9h0M226.9 335.2h0M201.1 336.0h0M234.0 335.8h0M192.4 347.1h0M222.1 334.9h0M200.7 336.2h0M191.9 347.1h0M246.6 339.1h0M250.8 337.0h0M237.7 337.3h0M241.2 336.6h0M242.2 337.3h0M212.0 334.1h0M228.1 347.8h0M247.9 336.9h0M212.8 335.3h0M239.1 338.8h0M228.0 336.8h0M247.5 340.0h0M248.0 338.0h0M248.0 338.4h0M245.3 338.0h0M235.8 338.6h0M212.3 335.8h0M227.3 338.5h0M210.7 332.7h0M244.2 340.7h0M206.0 336.4h0M232.7 337.6h0M209.1 334.3h0M210.2 334.5h0M224.7 335.8h0M221.9 337.0h0M211.7 335.3h0M240.4 337.1h0M250.5 340.3h0M249.3 337.8h0M202.5 334.4h0M251.0 337.9h0M194.7 342.3h0M224.7 335.0h0M217.4 335.0h0M203.9 335.5h0M236.2 337.9h0M205.1 334.6h0M222.5 334.3h0M213.3 334.9h0M229.1 337.1h0M208.7 336.6h0M229.0 337.0h0M234.9 338.9h0M238.3 338.4h0M249.4 338.1h0M231.7 333.0h0M245.6 338.0h0M246.9 338.6h0M242.3 334.5h0M233.6 338.1h0M196.1 336.9h0M241.4 336.2h0M228.6 338.5h0M245.9 339.0h0M239.7 338.7h0M214.0 335.9h0M197.3 336.5h0M207.7 333.9h0M197.7 333.6h0M238.8 338.5h0M240.1 346.7h0M220.5 332.9h0M240.8 339.7h0M237.2 338.6h0M205.4 337.2h0M214.5 333.9h0M233.4 335.9h0M240.2 338.3h0M230.3 335.3h0M208.6 335.4h0M233.7 336.7h0M203.7 333.2h0M248.0 338.4h0M198.1 332.1h0M192.3 348.9h0M216.4 333.7h0M201.0 334.6h0M214.2 334.9h0M246.6 336.2h0M238.2 337.8h0M242.2 338.1h0M216.9 334.2h0M241.0 338.7h0M194.9 339.8h0M215.6 332.1h0M247.2 340.7h0M229.3 337.5h0M190.8 351.8h0M216.8 336.4h0M251.6 338.3h0M192.2 347.6h0M196.9 334.7h0M240.2 342.2h0M203.5 334.4h0M191.0 350.8h0M248.8 342.7h0M218.2 335.1h0M214.4 337.3h0M240.9 336.3h0M225.0 342.3h0M215.1 334.5h0M249.4 338.7h0M215.2 335.0h0M225.6 336.6h0M193.7 351.7h0M221.9 336.7h0M191.2 349.3h0M245.3 339.5h0M222.7 331.8h0M234.8 336.7h0M245.7 340.1h0M240.6 337.4h0M233.3 337.8h0M199.4 331.7h0M253.0 337.4h0M194.6 348.8h0M235.4 339.4h0M201.1 334.5h0M217.2 334.8h0M226.8 333.7h0M224.6 336.8h0M234.4 338.4h0M219.4 335.9h0M221.4 337.5h0M200.3 335.0h0M253.4 337.8h0M240.1 339.0h0M208.5 334.9h0M206.3 334.7h0M248.0 335.9h0M193.9 342.6h0M251.8 337.9h0M229.0 336.6h0M195.8 336.0h0M210.4 336.6h0M192.4 351.4h0M196.4 335.9h0M228.9 336.8h0M242.5 338.5h0M227.7 335.7h0M196.2 341.4h0M205.6 334.0h0M192.0 351.8h0M209.5 333.7h0M215.5 337.7h0M237.3 336.1h0M234.8 341.3h0M237.6 335.2h0M228.3 339.9h0M191.1 350.3h0M216.4 335.6h0M199.4 335.9h0M204.1 335.5h0M203.9 334.8h0M205.5 335.6h0M199.4 336.0h0M217.6 336.8h0M191.9 349.4h0M243.2 338.7h0M250.2 337.1h0M251.3 336.5h0M237.1 338.1h0M219.7 336.4h0M203.1 332.7h0M249.0 334.2h0M253.3 339.1h0M220.4 333.4h0M192.7 346.5h0M230.4 337.4h0M243.4 339.6h0M236.6 338.9h0M245.3 338.0h0M205.4 337.3h0M252.5 338.3h0M210.0 338.1h0M246.1 335.6h0M208.8 335.0h0M224.8 334.9h0M249.0 337.8h0M246.9 337.1h0M206.5 332.2h0M232.1 337.5h0M194.7 339.9h0M197.1 338.0h0M217.0 335.1h0M246.8 336.4h0M206.0 335.7h0M191.8 347.4h0M199.7 333.0h0M199.5 335.3h0M212.7 333.9h0M237.8 339.4h0M248.3 336.1h0M251.9 339.1h0M203.5 333.7h0M212.8 333.1h0M219.4 337.7h0M211.3 336.4h0M253.2 338.5h0M213.3 336.4h0M251.1 338.5h0M241.3 343.2h0M210.7 333.5h0M207.3 335.4h0M209.9 335.5h0M224.8 338.1h0M207.0 335.3h0M239.1 337.0h0M246.1 337.9h0M216.0 333.1h0M247.5 341.7h0M243.5 338.5h0M190.7 351.3h0M237.4 339.8h0M207.0 335.1h0M212.7 335.7h0M240.4 338.6h0M230.2 336.6h0M218.7 334.1h0M191.8 348.0h0M239.4 337.0h0M206.2 335.9h0M206.2 337.0h0M228.1 337.1h0M206.6 336.8h0M207.3 335.7h0M216.9 333.4h0M194.2 340.0h0M247.0 337.9h0M202.4 334.9h0M204.6 334.8h0M229.4 337.3h0M231.1 338.2h0M233.8 337.8h0M236.3 338.5h0M235.3 338.2h0M217.4 337.4h0M232.9 340.3h0M212.3 334.6h0M228.1 335.9h0M197.1 335.1h0M231.6 339.0h0M213.7 334.7h0M227.2 335.7h0M222.8 334.5h0M216.5 336.0h0M223.8 333.7h0M213.7 336.8h0M222.0 334.7h0M246.5 337.7h0M219.4 333.6h0M202.7 335.1h0M218.1 333.9h0M209.4 333.1h0M210.5 335.6h0M196.7 336.2h0M226.6 345.5h0M240.9 339.8h0M214.5 335.8h0M207.0 334.7h0M224.7 338.5h0M209.1 334.5h0M226.2 336.5h0M241.2 336.0h0M203.6 335.3h0M253.0 346.2h0M234.6 337.0h0M191.2 350.5h0M202.4 333.0h0M228.0 335.1h0M221.5 337.4h0M208.0 336.1h0M234.9 338.3h0M229.9 336.6h0M246.8 335.7h0M249.0 336.9h0M215.2 333.8h0M194.1 342.9h0M218.6 333.6h0M233.2 337.9h0M238.8 340.6h0M208.7 336.0h0M193.7 344.7h0M250.8 334.5h0M249.3 337.1h0M219.3 335.9h0M232.0 338.5h0M192.2 347.5h0M199.0 332.0h0M222.7 336.5h0M252.0 338.4h0M240.3 338.7h0M245.7 337.2h0M200.1 331.9h0M234.1 337.9h0M201.5 333.1h0M225.3 334.6h0M201.6 335.7h0M244.2 337.0h0M236.5 339.0h0M197.8 334.9h0M235.5 339.3h0M198.9 336.0h0M230.3 336.3h0M222.9 335.2h0M204.8 335.8h0M209.3 333.9h0M233.2 338.5h0M195.4 336.8h0M221.8 337.0h0M198.7 334.1h0M235.9 338.3h0M230.3 336.2h0M228.9 335.4h0M201.7 334.7h0M237.5 340.1h0M205.8 333.4h0M245.3 336.6h0M197.5 334.5h0M230.8 338.4h0M193.2 346.9h0M235.1 337.7h0M249.6 336.6h0M234.9 335.8h0M249.5 338.2h0M233.2 337.3h0M194.7 340.3h0M235.8 339.1h0M221.3 334.1h0M249.0 337.9h0M249.7 338.3h0M198.7 333.3h0M214.0 334.4h0M225.2 336.9h0M228.2 338.2h0M223.2 335.6h0M249.8 336.8h0M193.9 345.4h0M204.6 333.9h0M229.3 344.6h0M213.0 333.8h0M210.1 335.3h0M213.1 334.4h0M203.9 333.4h0M243.2 337.5h0M224.8 335.1h0M219.7 334.2h0M202.9 336.5h0M218.4 335.4h0M248.3 337.1h0M219.3 335.8h0M251.4 335.3h0M253.3 330.4h0M250.6 332.7h0M251.5 322.8h0M253.3 331.8h0M250.8 334.3h0M253.3 328.6h0M250.9 331.2h0M252.0 326.1h0M252.0 323.7h0M251.8 322.6h0M252.5 326.4h0M250.8 331.1h0M251.3 322.1h0M210.3 341.0h0M210.1 350.2h0M209.7 351.1h0M210.0 347.7h0M210.4 350.8h0M210.1 347.4h0M209.8 339.3h0M210.2 344.7h0M210.0 350.5h0M210.1 340.3h0M210.3 339.1h0M210.2 349.3h0M210.3 351.0h0M209.8 343.6h0M212.4 313.6h0M199.2 345.9h0M199.2 344.6h0M204.9 343.3h0M252.2 349.8h0M253.7 351.1h0M250.8 345.9h0M249.4 346.6h0M253.1 347.2h0" stroke="#f8766d" stroke-width="1.8" stroke-linecap="round" fill="none"/>
<path d="M304.1 342.7h0M285.5 344.8h0M296.1 341.7h0M312.5 338.0h0M298.3 342.8h0M283.8 337.3h0M291.9 340.3h0M288.0 337.0h0M293.0 341.7h0M283.1 337.7h0M295.3 347.8h0M298.2 340.9h0M269.2 338.3h0M291.3 337.7h0M281.8 338.0h0M309.1 337.7h0M300.2 342.7h0M265.4 339.5h0M293.9 340.1h0M316.3 336.9h0M297.5 340.2h0M262.9 338.6h0M306.2 335.8h0M285.8 349.3h0M320.5 333.9h0M262.8 338.5h0M316.7 337.2h0M297.0 339.5h0M316.5 335.8h0M306.2 336.1h0M307.3 339.4h0M273.0 337.2h0M263.8 336.9h0M290.3 338.6h0M277.7 335.7h0M282.2 335.8h0M264.3 337.6h0M277.3 347.4h0M301.4 340.9h0M285.7 339.0h0M310.2 337.1h0M282.6 346.1h0M312.2 336.5h0M315.8 336.8h0M269.1 345.2h0M262.9 338.3h0M269.4 337.3h0M302.6 341.8h0M304.7 340.1h0M310.1 335.3h0M312.4 337.4h0M291.9 340.8h0M297.7 341.0h0M311.3 337.4h0M275.6 335.7h0M269.1 343.0h0M295.7 342.5h0M267.6 339.1h0M289.8 335.9h0M300.8 341.5h0M301.7 340.6h0M287.1 336.9h0M314.9 336.1h0M305.9 336.3h0M265.2 336.5h0M291.4 337.6h0M306.4 335.6h0M288.5 338.0h0M272.6 340.1h0M271.1 338.5h0M285.5 335.5h0M319.5 336.6h0M274.3 339.3h0M313.7 335.9h0M282.1 335.7h0M280.0 338.0h0M304.9 338.7h0M266.2 337.6h0M268.9 334.3h0M267.7 339.0h0M299.5 340.8h0M273.3 350.5h0M290.4 339.9h0M281.0 339.2h0M281.9 337.6h0M294.3 341.7h0M319.8 336.0h0M294.6 341.5h0M275.3 336.7h0M311.5 335.3h0M294.4 347.8h0M307.6 336.5h0M300.0 338.8h0M312.5 335.1h0M306.7 337.1h0M283.8 336.5h0M264.6 336.8h0M265.5 335.5h0M275.9 336.8h0M298.1 342.8h0M295.9 343.5h0M299.7 342.8h0M313.4 334.9h0M298.2 342.2h0M268.4 338.3h0M308.0 335.5h0M296.8 343.7h0M301.5 342.3h0M289.4 337.5h0M305.0 341.7h0M267.8 339.5h0M318.3 336.8h0M268.1 343.8h0M264.4 335.5h0M299.3 340.8h0M280.0 337.0h0M296.7 351.0h0M272.8 337.3h0M286.9 336.6h0M276.1 335.9h0M283.4 335.7h0M319.1 335.5h0M273.0 337.0h0M314.0 335.5h0M309.8 336.3h0M293.8 338.4h0M317.4 336.3h0M269.9 339.2h0M320.9 335.5h0M306.3 338.7h0M317.7 336.5h0M294.0 341.8h0M264.6 338.0h0M267.8 338.0h0M306.2 336.0h0M290.8 336.8h0M319.9 336.3h0M271.7 337.4h0M300.3 340.5h0M311.2 338.0h0M283.6 336.7h0M263.1 339.2h0M281.4 337.1h0M306.2 336.6h0M280.3 338.1h0M265.9 338.8h0M301.7 342.6h0M272.0 338.0h0M284.2 338.2h0M265.4 338.1h0M277.3 338.3h0M319.7 336.2h0M284.3 336.1h0M281.8 345.8h0M287.5 334.5h0M307.1 338.8h0M305.8 334.8h0M307.6 335.7h0M308.4 338.6h0M309.6 337.8h0M310.8 336.0h0M314.2 332.5h0M267.0 337.7h0M270.1 336.9h0M282.6 338.6h0M261.5 338.1h0M284.3 345.2h0M299.6 341.8h0M277.3 334.8h0M295.7 344.0h0M301.5 340.6h0M281.3 340.1h0M287.0 337.8h0M312.9 336.8h0M297.5 340.8h0M275.9 337.9h0M319.5 338.9h0M307.1 339.2h0M273.8 336.5h0M316.2 338.4h0M269.2 344.9h0M291.9 341.1h0M280.9 336.1h0M308.4 335.6h0M262.4 338.7h0M310.0 337.2h0M284.6 337.6h0M271.5 337.2h0M292.0 339.0h0M272.8 337.5h0M268.4 338.4h0M286.4 336.0h0M264.8 347.5h0M316.3 335.4h0M319.9 335.3h0M279.8 337.8h0M265.1 346.9h0M312.0 338.0h0M299.5 348.0h0M320.6 335.8h0M312.4 335.2h0M262.7 335.1h0M283.8 336.4h0M307.8 334.2h0M298.0 343.4h0M301.6 343.9h0M261.8 339.1h0M269.5 336.8h0M293.5 341.4h0M319.1 338.3h0M272.4 336.3h0M315.7 338.0h0M311.6 335.6h0M273.3 338.6h0M290.6 339.6h0M264.1 338.1h0M275.9 343.5h0M273.9 336.6h0M279.4 337.4h0M283.1 337.7h0M274.9 336.7h0M315.2 337.0h0M302.3 341.2h0M315.7 338.1h0M310.6 335.5h0M270.6 340.6h0M270.8 338.1h0M277.7 338.5h0M293.1 338.3h0M309.8 337.5h0M277.0 337.2h0M319.0 336.3h0M302.7 343.4h0M320.8 337.6h0M299.5 337.9h0M285.2 332.6h0M315.0 337.7h0M270.8 336.6h0M303.6 342.0h0M318.2 337.4h0M313.3 337.1h0M300.1 347.9h0M286.4 335.4h0M294.0 341.0h0M276.1 337.9h0M296.8 341.6h0M315.9 336.7h0M301.0 341.0h0M305.8 337.2h0M309.8 335.2h0M297.5 341.5h0M279.3 336.8h0M311.7 337.5h0M262.9 337.2h0M304.5 340.1h0M289.8 336.7h0M288.6 337.9h0M290.3 338.5h0M298.4 346.7h0M293.4 341.7h0M275.5 338.9h0M316.3 336.0h0M279.5 337.9h0M276.4 337.4h0M270.9 337.9h0M289.5 336.3h0M299.9 342.9h0M300.5 341.2h0M320.5 335.6h0M270.0 340.1h0M298.5 340.4h0M297.5 352.7h0M316.1 338.4h0M273.6 335.7h0M299.8 343.6h0M272.2 335.8h0M305.0 339.3h0M292.7 338.7h0M305.4 338.6h0M279.8 336.1h0M282.6 336.9h0M302.9 340.3h0M267.8 338.4h0M283.3 339.6h0M298.3 339.5h0M292.1 339.0h0M321.3 336.9h0M311.4 335.8h0M304.1 340.3h0M288.0 336.3h0M267.2 336.2h0M279.4 337.7h0M286.4 339.0h0M291.6 340.2h0M303.5 342.3h0M295.1 339.5h0M286.3 336.2h0M307.1 339.1h0M271.4 349.3h0M274.4 335.7h0M295.6 344.5h0M318.8 337.3h0M305.8 338.2h0M309.9 336.5h0M264.5 337.3h0M316.9 335.2h0M301.6 339.8h0M309.0 334.3h0M279.2 337.4h0M304.2 342.1h0M280.9 339.4h0M278.7 338.2h0M318.7 335.9h0M272.5 337.8h0M310.6 340.2h0M281.8 339.7h0M271.6 337.4h0M316.5 337.6h0M271.5 338.9h0M274.6 335.1h0M315.7 337.9h0M298.3 339.7h0M301.0 340.0h0M310.9 334.9h0M266.1 336.9h0M282.7 336.0h0M270.5 338.0h0M262.6 338.7h0M271.2 336.8h0M291.8 337.6h0M294.8 342.4h0M274.2 337.4h0M299.8 342.3h0M311.6 338.0h0M269.9 335.9h0M281.2 336.2h0M279.1 337.6h0M263.2 335.5h0M268.1 337.7h0M299.9 341.1h0M277.2 335.7h0M279.2 334.8h0M294.0 338.6h0M266.2 338.6h0M310.0 336.8h0M314.6 337.5h0M290.9 337.6h0M308.6 336.9h0M309.8 336.1h0M276.3 339.0h0M315.8 335.0h0M316.1 337.3h0M262.2 336.8h0M287.1 338.1h0M277.3 336.6h0M287.7 335.0h0M300.6 340.2h0M265.6 338.3h0M280.7 335.9h0M316.2 336.0h0M278.9 339.4h0M270.3 335.0h0M272.4 338.1h0M264.1 339.6h0M276.3 338.5h0M314.6 336.6h0M298.7 350.8h0M276.2 345.1h0M266.6 339.3h0M290.3 336.3h0M289.8 335.4h0M312.7 337.2h0M274.0 336.6h0M289.1 334.6h0M316.8 339.9h0M303.7 342.6h0M298.6 341.5h0M316.2 333.6h0M305.1 341.9h0M301.9 340.7h0M272.4 337.1h0M306.8 335.8h0M283.5 336.2h0M310.6 335.5h0M320.8 337.7h0M273.2 341.7h0M272.1 337.5h0M313.6 335.1h0M312.3 339.1h0M318.3 339.7h0M277.9 340.5h0M282.2 334.8h0M309.5 333.1h0M273.9 335.8h0M298.1 344.2h0M303.9 340.8h0M307.5 338.1h0M309.1 338.0h0M289.1 339.0h0M299.0 350.5h0M315.1 336.8h0M307.3 337.4h0M306.2 336.0h0M295.5 340.6h0M262.5 335.6h0M276.2 340.1h0M265.8 337.4h0M320.1 337.9h0M305.2 338.0h0M285.8 335.7h0M264.8 342.5h0M303.3 341.4h0M268.2 338.0h0M274.6 335.9h0M281.4 335.9h0M263.1 334.5h0M282.8 335.5h0M262.1 335.7h0M309.9 334.2h0M295.9 337.4h0M309.8 336.4h0M270.2 339.7h0M266.3 339.6h0M277.4 334.9h0M301.0 339.8h0M315.7 335.8h0M266.6 338.5h0M270.5 337.7h0M310.8 337.9h0M264.4 346.0h0M279.2 336.8h0M317.3 337.3h0M262.7 339.0h0M318.6 336.3h0M263.5 336.4h0M302.7 342.5h0M267.7 337.1h0M271.1 337.4h0M287.8 336.7h0M273.8 338.1h0M262.9 338.9h0M307.4 335.7h0M312.0 336.2h0M320.1 333.8h0M317.5 337.1h0M273.4 335.3h0M293.9 340.2h0M269.9 336.7h0M315.0 336.3h0M306.2 336.8h0M315.8 336.2h0M315.0 337.2h0M268.9 336.7h0M289.2 336.3h0M262.0 335.6h0M271.2 338.7h0M290.8 336.9h0M318.7 334.6h0M276.5 341.2h0M276.2 338.7h0M288.5 337.8h0M320.9 337.8h0M312.8 337.7h0M271.0 338.1h0M276.8 336.8h0M284.6 338.3h0M294.8 340.5h0M295.7 341.2h0M294.1 340.7h0M319.2 337.6h0M316.1 336.0h0M319.9 337.6h0M318.4 336.1h0M277.0 337.5h0M290.0 338.5h0M298.8 341.9h0M302.4 341.4h0M318.8 336.9h0M315.9 338.2h0M311.8 336.8h0M271.7 335.1h0M287.7 337.6h0M317.1 338.2h0M281.9 337.0h0M288.5 338.5h0M319.9 336.1h0M307.0 337.3h0M264.7 337.0h0M298.9 343.4h0M316.4 338.9h0M316.6 335.9h0M277.1 339.5h0M310.8 339.0h0M312.4 335.5h0M304.4 345.7h0M266.4 335.6h0M285.0 337.2h0M272.7 336.2h0M320.4 334.8h0M286.3 334.0h0M311.5 334.1h0M288.7 335.6h0M279.2 337.1h0M313.5 337.8h0M312.8 338.2h0M307.9 338.2h0M313.9 336.2h0M319.4 336.7h0M320.7 338.3h0M312.7 335.4h0M309.3 334.4h0M276.7 335.8h0M280.1 336.9h0M287.8 338.5h0M269.7 334.0h0M310.0 337.1h0M299.2 342.5h0M262.7 336.4h0M295.4 342.5h0M308.7 337.3h0M302.7 341.3h0M315.6 339.1h0M291.9 338.8h0M266.7 335.1h0M316.9 333.4h0M289.6 336.8h0M284.0 339.0h0M298.9 341.3h0M290.3 344.2h0M276.2 343.0h0M314.9 337.1h0M283.9 337.4h0M321.2 335.0h0M266.4 336.6h0M312.5 337.9h0M285.2 339.0h0M297.8 344.5h0M281.2 338.6h0M284.8 346.0h0M307.4 337.2h0M312.6 337.3h0M270.2 340.5h0M263.4 336.5h0M291.2 338.0h0M312.2 339.6h0M276.4 343.4h0M274.8 340.4h0M295.9 342.7h0M297.3 347.3h0M295.2 343.1h0M317.9 334.5h0M288.5 338.6h0M289.3 336.6h0M275.2 335.8h0M286.3 342.7h0M269.7 339.7h0M285.3 337.8h0M299.5 340.5h0M288.5 338.9h0M281.5 341.9h0M263.0 336.8h0M281.8 339.3h0M296.5 341.5h0M286.3 336.9h0M297.7 340.5h0M294.6 339.3h0M287.4 339.2h0M288.7 338.3h0M276.0 339.4h0M302.8 340.7h0M293.2 338.8h0M301.7 344.7h0M286.4 337.0h0M275.9 337.1h0M269.3 337.3h0M292.4 338.1h0M313.5 337.5h0M286.0 336.7h0M286.2 335.9h0M314.4 337.5h0M295.6 342.2h0M290.9 337.6h0M308.9 335.8h0M278.8 337.5h0M276.9 335.7h0M271.2 339.7h0M275.0 337.1h0M284.4 337.2h0M314.5 334.3h0M289.8 338.3h0M272.9 349.8h0M273.8 334.3h0M283.6 336.2h0M271.6 338.0h0M270.9 342.7h0M315.2 338.4h0M296.9 341.1h0M317.6 336.2h0M274.4 343.0h0M273.0 349.0h0M292.4 337.9h0M308.2 336.4h0M309.2 337.5h0M285.1 336.5h0M279.4 338.3h0M266.0 337.7h0M291.2 339.3h0M270.6 343.1h0M267.0 348.6h0M281.1 337.8h0M289.5 337.7h0M279.0 337.3h0M261.9 337.8h0M261.5 338.2h0M303.3 341.7h0M301.5 341.1h0M303.1 339.9h0M301.6 338.4h0M289.7 336.3h0M303.7 341.7h0M273.4 338.1h0M270.5 340.0h0M300.5 340.0h0M296.9 342.6h0M289.6 337.0h0M303.8 341.3h0M317.5 335.4h0M311.9 336.9h0M301.3 340.3h0M311.9 338.7h0M313.2 334.5h0M302.3 338.7h0M261.7 338.9h0M320.5 334.5h0M263.2 338.6h0M295.7 342.6h0M279.0 336.8h0M268.8 336.2h0M298.3 340.4h0M300.4 340.8h0M286.4 338.0h0M267.6 336.9h0M297.5 341.0h0M304.2 341.6h0M307.2 339.2h0M299.5 343.3h0M305.0 340.4h0M263.8 336.4h0M312.3 336.8h0M302.3 340.5h0M296.6 341.7h0M318.4 336.9h0M281.4 336.6h0M273.4 338.0h0M309.3 336.5h0M298.3 344.0h0M312.6 336.7h0M262.4 336.8h0M270.9 338.6h0M266.3 337.8h0M279.9 336.8h0M304.5 343.2h0M289.7 337.3h0M304.5 340.5h0M308.3 336.4h0M269.8 337.9h0M286.5 336.0h0M306.7 334.9h0M302.7 342.6h0M263.0 334.7h0M266.8 347.3h0M314.8 334.3h0M290.8 338.5h0M270.9 339.5h0M304.8 343.4h0M265.3 333.8h0M313.7 336.7h0M275.0 338.8h0M279.4 338.4h0M264.3 337.6h0M291.9 337.4h0M281.3 336.5h0M282.8 337.3h0M320.2 338.3h0M292.5 337.9h0M304.0 350.3h0M286.1 339.4h0M264.2 338.3h0M317.3 337.7h0M283.9 338.6h0M265.5 333.4h0M305.8 334.5h0M275.8 338.6h0M320.6 337.1h0M311.4 336.4h0M299.9 343.0h0M280.3 336.9h0M271.9 338.3h0M266.0 337.6h0M304.7 342.9h0M321.4 349.0h0M321.7 345.4h0M320.5 348.4h0M321.1 342.5h0M322.0 346.1h0M322.1 341.7h0M321.0 345.6h0M322.0 349.0h0M322.1 349.5h0M321.9 344.4h0M321.8 341.0h0M321.4 341.6h0M321.4 345.0h0M321.8 345.8h0M321.1 346.2h0M321.4 341.3h0M321.5 349.5h0M320.5 344.3h0M321.4 348.7h0M320.6 349.1h0M320.9 347.4h0M321.6 343.5h0M320.6 346.6h0M321.3 343.2h0M321.1 346.0h0M266.8 323.3h0M322.5 351.8h0M302.7 349.2h0" stroke="#00bfc4" stroke-width="1.8" stroke-linecap="round" fill="none"/>
<line x1="331.80" y1="351.82" x2="390.51" y2="351.82" stroke="#619cff" stroke-width="1.7" stroke-linecap="round"/>
<path d="M333.2 352.1h0M373.5 351.6h0M375.1 351.8h0M377.4 352.1h0M378.5 352.2h0M367.0 351.8h0M355.4 351.7h0M376.9 351.8h0M366.4 352.2h0M337.2 352.2h0M355.3 352.0h0M342.9 352.0h0M336.0 352.1h0M361.4 351.5h0M371.1 351.6h0M333.5 351.8h0M388.4 351.5h0M334.4 352.0h0M347.0 352.1h0M341.3 352.0h0M338.8 351.9h0M387.9 351.5h0M377.4 351.5h0M346.3 351.8h0M348.0 352.0h0M334.3 351.7h0M354.5 352.0h0M362.2 351.9h0M343.8 351.4h0M369.2 352.1h0M340.4 351.6h0M390.0 352.1h0M363.9 351.9h0M341.8 351.7h0M349.2 351.7h0M367.9 351.8h0M356.5 352.1h0M388.0 352.2h0M340.6 351.9h0M386.4 351.8h0M351.2 352.1h0M345.6 351.7h0M389.9 351.5h0M385.8 351.5h0M348.1 352.2h0M370.7 352.2h0M361.8 351.6h0M347.6 352.0h0M345.4 351.8h0M367.6 352.0h0M379.1 351.8h0M357.8 352.2h0M358.6 351.9h0M341.3 351.5h0M381.5 352.0h0M343.5 351.6h0M361.3 351.5h0M386.5 351.7h0M351.5 351.8h0M366.6 351.5h0M349.1 351.9h0M353.0 351.6h0M349.3 351.9h0M333.2 351.5h0M341.3 351.5h0M335.1 352.2h0M351.4 351.9h0M385.0 351.5h0M339.5 351.9h0M346.4 351.7h0M344.0 352.0h0M360.5 351.6h0M388.0 351.7h0M374.9 352.0h0M356.6 351.8h0M345.5 352.1h0M332.5 351.7h0M364.9 351.9h0M370.4 351.6h0M347.0 351.7h0M378.2 352.0h0M379.8 352.1h0M346.4 352.0h0M365.9 351.9h0M359.6 351.6h0M340.3 351.7h0M335.0 352.2h0M384.6 352.0h0M376.8 351.5h0M369.1 351.6h0M389.1 351.6h0M380.9 351.6h0M382.2 352.0h0M374.0 351.7h0M380.5 352.1h0M353.2 351.5h0M377.3 351.6h0M359.2 351.5h0M353.4 352.1h0M338.9 351.7h0M333.3 351.5h0M338.3 352.1h0M372.9 352.2h0M371.3 351.9h0M369.3 351.6h0M352.3 351.6h0M361.4 351.5h0M341.9 351.8h0M388.5 351.7h0M361.7 352.0h0M350.0 352.1h0M355.9 351.8h0M342.5 352.2h0M367.0 351.8h0M355.2 352.1h0M337.5 352.0h0M382.8 352.1h0M337.8 352.1h0M335.0 351.8h0M363.8 351.6h0M381.0 352.0h0M358.1 351.6h0M358.3 351.8h0M333.3 352.2h0M352.8 352.1h0M357.9 352.0h0M365.2 352.0h0M341.1 351.5h0M382.9 351.8h0M352.7 351.8h0M382.4 351.9h0M350.0 351.4h0M350.3 352.1h0M331.9 351.8h0M372.5 352.0h0M390.2 352.1h0M389.3 351.4h0M350.3 351.4h0M337.6 351.9h0M360.3 351.7h0M365.0 352.2h0M368.1 351.9h0M378.7 351.8h0M387.6 351.5h0M368.3 351.8h0M355.3 352.0h0M376.7 351.8h0M374.4 352.0h0M359.6 351.6h0M358.2 352.0h0M360.0 351.7h0M369.8 352.1h0M340.1 351.8h0M383.9 352.0h0M381.7 352.0h0M371.9 352.0h0M331.9 351.4h0M382.9 351.9h0M382.8 352.2h0M366.1 351.8h0M340.9 352.2h0M356.0 351.8h0M356.2 351.8h0M337.5 352.0h0M369.5 351.8h0M350.3 351.6h0M333.8 352.2h0M350.8 352.2h0M364.8 351.5h0M375.9 352.2h0M363.2 351.6h0M376.6 351.6h0M342.7 351.7h0M363.4 352.1h0M380.0 352.1h0M360.1 351.9h0M349.4 352.1h0M360.4 352.2h0M388.8 352.1h0M342.0 351.8h0M362.5 351.5h0M345.4 351.5h0M374.4 352.0h0M372.3 351.5h0M387.8 351.6h0M359.6 352.2h0M349.4 352.0h0M381.1 352.0h0M374.9 351.6h0M357.1 351.7h0M380.9 351.7h0M362.0 351.6h0M373.0 351.8h0M381.8 351.5h0M352.3 351.5h0M358.8 351.7h0M359.1 351.5h0M335.1 351.5h0M340.7 351.5h0M380.5 352.2h0M348.2 352.2h0M370.0 351.7h0M337.5 351.8h0M358.7 352.1h0M356.8 351.4h0M344.8 352.1h0M370.4 351.9h0M365.9 352.2h0M374.1 351.7h0M361.8 351.5h0M385.4 351.5h0M390.4 351.5h0M335.3 351.6h0M387.0 351.4h0M347.4 351.5h0M386.8 351.7h0M367.9 351.9h0M352.6 351.9h0M378.5 351.7h0M352.9 351.7h0M344.2 350.1h0M344.6 350.5h0M344.8 350.8h0M348.9 350.1h0M349.3 350.5h0M349.7 350.8h0M383.0 346.6h0M383.0 347.9h0M383.0 349.2h0M381.3 350.5h0M382.2 350.8h0M392.2 347.2h0M389.7 336.1h0M389.6 347.2h0M392.3 346.8h0M392.0 334.9h0M391.3 342.3h0M389.9 334.7h0M392.3 344.8h0M391.3 335.7h0M390.9 344.8h0M391.2 336.7h0M392.2 348.1h0M391.1 336.1h0M391.9 334.1h0M392.0 342.8h0M389.9 343.5h0M392.0 344.5h0M391.1 350.4h0M392.6 349.1h0M391.2 346.1h0M391.7 349.1h0M389.6 341.0h0M391.5 349.1h0M391.8 337.6h0M392.0 342.2h0M389.4 341.7h0M390.8 343.1h0M389.3 349.5h0" stroke="#619cff" stroke-width="1.8" stroke-linecap="round" fill="none"/>
<path d="M473.77 256.95l1.06-0.61 1.06 0.61v1.23l-1.06 0.61-1.06-0.61zM477.79 256.95l1.06-0.61 1.06 0.61v1.23l-1.06 0.61-1.06-0.61zM470.76 258.69l1.06-0.61 1.06 0.61v1.23l-1.06 0.61-1.06-0.61zM478.80 258.69l1.06-0.61 1.06 0.61v1.23l-1.06 0.61-1.06-0.61zM475.78 260.43l1.06-0.61 1.06 0.61v1.23l-1.06 0.61-1.06-0.61zM468.75 262.17l1.06-0.61 1.06 0.61v1.23l-1.06 0.61-1.06-0.61zM472.77 262.17l1.06-0.61 1.06 0.61v1.23l-1.06 0.61-1.06-0.61zM474.78 262.17l1.06-0.61 1.06 0.61v1.23l-1.06 0.61-1.06-0.61zM476.79 262.17l1.06-0.61 1.06 0.61v1.23l-1.06 0.61-1.06-0.61zM469.76 263.91l1.06-0.61 1.06 0.61v1.23l-1.06 0.61-1.06-0.61zM468.75 265.65l1.06-0.61 1.06 0.61v1.23l-1.06 0.61-1.06-0.61zM480.81 265.65l1.06-0.61 1.06 0.61v1.23l-1.06 0.61-1.06-0.61zM469.76 267.39l1.06-0.61 1.06 0.61v1.23l-1.06 0.61-1.06-0.61zM475.78 267.39l1.06-0.61 1.06 0.61v1.23l-1.06 0.61-1.06-0.61zM468.75 269.13l1.06-0.61 1.06 0.61v1.23l-1.06 0.61-1.06-0.61zM463.73 270.87l1.06-0.61 1.06 0.61v1.23l-1.06 0.61-1.06-0.61zM479.80 270.87l1.06-0.61 1.06 0.61v1.23l-1.06 0.61-1.06-0.61zM464.73 272.61l1.06-0.61 1.06 0.61v1.23l-1.06 0.61-1.06-0.61zM473.77 274.35l1.06-0.61 1.06 0.61v1.23l-1.06 0.61-1.06-0.61zM464.73 276.09l1.06-0.61 1.06 0.61v1.23l-1.06 0.61-1.06-0.61zM468.75 276.09l1.06-0.61 1.06 0.61v1.23l-1.06 0.61-1.06-0.61zM472.77 276.09l1.06-0.61 1.06 0.61v1.23l-1.06 0.61-1.06-0.61zM478.80 276.09l1.06-0.61 1.06 0.61v1.23l-1.06 0.61-1.06-0.61zM484.82 276.09l1.06-0.61 1.06 0.61v1.23l-1.06 0.61-1.06-0.61zM486.83 276.09l1.06-0.61 1.06 0.61v1.23l-1.06 0.61-1.06-0.61zM461.72 277.83l1.06-0.61 1.06 0.61v1.23l-1.06 0.61-1.06-0.61zM475.78 277.83l1.06-0.61 1.06 0.61v1.23l-1.06 0.61-1.06-0.61zM477.79 277.83l1.06-0.61 1.06 0.61v1.23l-1.06 0.61-1.06-0.61zM483.82 277.83l1.06-0.61 1.06 0.61v1.23l-1.06 0.61-1.06-0.61zM460.71 279.57l1.06-0.61 1.06 0.61v1.23l-1.06 0.61-1.06-0.61zM484.82 279.57l1.06-0.61 1.06 0.61v1.23l-1.06 0.61-1.06-0.61zM486.83 279.57l1.06-0.61 1.06 0.61v1.23l-1.06 0.61-1.06-0.61zM457.70 281.31l1.06-0.61 1.06 0.61v1.23l-1.06 0.61-1.06-0.61zM467.75 281.31l1.06-0.61 1.06 0.61v1.23l-1.06 0.61-1.06-0.61zM473.77 281.31l1.06-0.61 1.06 0.61v1.23l-1.06 0.61-1.06-0.61zM475.78 281.31l1.06-0.61 1.06 0.61v1.23l-1.06 0.61-1.06-0.61zM481.81 281.31l1.06-0.61 1.06 0.61v1.23l-1.06 0.61-1.06-0.61zM485.83 281.31l1.06-0.61 1.06 0.61v1.23l-1.06 0.61-1.06-0.61zM489.85 281.31l1.06-0.61 1.06 0.61v1.23l-1.06 0.61-1.06-0.61zM464.73 283.05l1.06-0.61 1.06 0.61v1.23l-1.06 0.61-1.06-0.61zM484.82 283.05l1.06-0.61 1.06 0.61v1.23l-1.06 0.61-1.06-0.61zM457.70 284.79l1.06-0.61 1.06 0.61v1.23l-1.06 0.61-1.06-0.61zM467.75 284.79l1.06-0.61 1.06 0.61v1.23l-1.06 0.61-1.06-0.61zM469.76 284.79l1.06-0.61 1.06 0.61v1.23l-1.06 0.61-1.06-0.61zM477.79 284.79l1.06-0.61 1.06 0.61v1.23l-1.06 0.61-1.06-0.61zM479.80 284.79l1.06-0.61 1.06 0.61v1.23l-1.06 0.61-1.06-0.61zM485.83 284.79l1.06-0.61 1.06 0.61v1.23l-1.06 0.61-1.06-0.61zM458.70 286.53l1.06-0.61 1.06 0.61v1.23l-1.06 0.61-1.06-0.61zM462.72 286.53l1.06-0.61 1.06 0.61v1.23l-1.06 0.61-1.06-0.61zM472.77 286.53l1.06-0.61 1.06 0.61v1.23l-1.06 0.61-1.06-0.61zM478.80 286.53l1.06-0.61 1.06 0.61v1.23l-1.06 0.61-1.06-0.61zM482.82 286.53l1.06-0.61 1.06 0.61v1.23l-1.06 0.61-1.06-0.61zM484.82 286.53l1.06-0.61 1.06 0.61v1.23l-1.06 0.61-1.06-0.61zM488.84 286.53l1.06-0.61 1.06 0.61v1.23l-1.06 0.61-1.06-0.61zM490.85 286.53l1.06-0.61 1.06 0.61v1.23l-1.06 0.61-1.06-0.61zM492.86 286.53l1.06-0.61 1.06 0.61v1.23l-1.06 0.61-1.06-0.61zM457.70 288.27l1.06-0.61 1.06 0.61v1.23l-1.06 0.61-1.06-0.61zM463.73 288.27l1.06-0.61 1.06 0.61v1.23l-1.06 0.61-1.06-0.61zM479.80 288.27l1.06-0.61 1.06 0.61v1.23l-1.06 0.61-1.06-0.61zM481.81 288.27l1.06-0.61 1.06 0.61v1.23l-1.06 0.61-1.06-0.61zM483.82 288.27l1.06-0.61 1.06 0.61v1.23l-1.06 0.61-1.06-0.61zM485.83 288.27l1.06-0.61 1.06 0.61v1.23l-1.06 0.61-1.06-0.61zM489.85 288.27l1.06-0.61 1.06 0.61v1.23l-1.06 0.61-1.06-0.61zM495.87 288.27l1.06-0.61 1.06 0.61v1.23l-1.06 0.61-1.06-0.61zM456.70 290.01l1.06-0.61 1.06 0.61v1.23l-1.06 0.61-1.06-0.61zM470.76 290.01l1.06-0.61 1.06 0.61v1.23l-1.06 0.61-1.06-0.61zM472.77 290.01l1.06-0.61 1.06 0.61v1.23l-1.06 0.61-1.06-0.61zM490.85 290.01l1.06-0.61 1.06 0.61v1.23l-1.06 0.61-1.06-0.61zM492.86 290.01l1.06-0.61 1.06 0.61v1.23l-1.06 0.61-1.06-0.61zM455.69 291.75l1.06-0.61 1.06 0.61v1.23l-1.06 0.61-1.06-0.61zM465.74 291.75l1.06-0.61 1.06 0.61v1.23l-1.06 0.61-1.06-0.61zM477.79 291.75l1.06-0.61 1.06 0.61v1.23l-1.06 0.61-1.06-0.61zM481.81 291.75l1.06-0.61 1.06 0.61v1.23l-1.06 0.61-1.06-0.61zM485.83 291.75l1.06-0.61 1.06 0.61v1.23l-1.06 0.61-1.06-0.61zM491.86 291.75l1.06-0.61 1.06 0.61v1.23l-1.06 0.61-1.06-0.61zM454.69 293.49l1.06-0.61 1.06 0.61v1.23l-1.06 0.61-1.06-0.61zM462.72 293.49l1.06-0.61 1.06 0.61v1.23l-1.06 0.61-1.06-0.61zM466.74 293.49l1.06-0.61 1.06 0.61v1.23l-1.06 0.61-1.06-0.61zM470.76 293.49l1.06-0.61 1.06 0.61v1.23l-1.06 0.61-1.06-0.61zM472.77 293.49l1.06-0.61 1.06 0.61v1.23l-1.06 0.61-1.06-0.61zM478.80 293.49l1.06-0.61 1.06 0.61v1.23l-1.06 0.61-1.06-0.61zM484.82 293.49l1.06-0.61 1.06 0.61v1.23l-1.06 0.61-1.06-0.61zM490.85 293.49l1.06-0.61 1.06 0.61v1.23l-1.06 0.61-1.06-0.61zM494.87 293.49l1.06-0.61 1.06 0.61v1.23l-1.06 0.61-1.06-0.61zM457.70 295.23l1.06-0.61 1.06 0.61v1.23l-1.06 0.61-1.06-0.61zM461.72 295.23l1.06-0.61 1.06 0.61v1.23l-1.06 0.61-1.06-0.61zM467.75 295.23l1.06-0.61 1.06 0.61v1.23l-1.06 0.61-1.06-0.61zM469.76 295.23l1.06-0.61 1.06 0.61v1.23l-1.06 0.61-1.06-0.61zM471.76 295.23l1.06-0.61 1.06 0.61v1.23l-1.06 0.61-1.06-0.61zM475.78 295.23l1.06-0.61 1.06 0.61v1.23l-1.06 0.61-1.06-0.61zM477.79 295.23l1.06-0.61 1.06 0.61v1.23l-1.06 0.61-1.06-0.61zM479.80 295.23l1.06-0.61 1.06 0.61v1.23l-1.06 0.61-1.06-0.61zM458.70 296.97l1.06-0.61 1.06 0.61v1.23l-1.06 0.61-1.06-0.61zM462.72 296.97l1.06-0.61 1.06 0.61v1.23l-1.06 0.61-1.06-0.61zM470.76 296.97l1.06-0.61 1.06 0.61v1.23l-1.06 0.61-1.06-0.61zM474.78 296.97l1.06-0.61 1.06 0.61v1.23l-1.06 0.61-1.06-0.61zM478.80 296.97l1.06-0.61 1.06 0.61v1.23l-1.06 0.61-1.06-0.61zM480.81 296.97l1.06-0.61 1.06 0.61v1.23l-1.06 0.61-1.06-0.61zM482.82 296.97l1.06-0.61 1.06 0.61v1.23l-1.06 0.61-1.06-0.61zM496.88 296.97l1.06-0.61 1.06 0.61v1.23l-1.06 0.61-1.06-0.61zM500.90 296.97l1.06-0.61 1.06 0.61v1.23l-1.06 0.61-1.06-0.61zM453.68 298.71l1.06-0.61 1.06 0.61v1.23l-1.06 0.61-1.06-0.61zM465.74 298.71l1.06-0.61 1.06 0.61v1.23l-1.06 0.61-1.06-0.61zM467.75 298.71l1.06-0.61 1.06 0.61v1.23l-1.06 0.61-1.06-0.61zM469.76 298.71l1.06-0.61 1.06 0.61v1.23l-1.06 0.61-1.06-0.61zM483.82 298.71l1.06-0.61 1.06 0.61v1.23l-1.06 0.61-1.06-0.61zM485.83 298.71l1.06-0.61 1.06 0.61v1.23l-1.06 0.61-1.06-0.61zM454.69 300.45l1.06-0.61 1.06 0.61v1.23l-1.06 0.61-1.06-0.61zM462.72 300.45l1.06-0.61 1.06 0.61v1.23l-1.06 0.61-1.06-0.61zM466.74 300.45l1.06-0.61 1.06 0.61v1.23l-1.06 0.61-1.06-0.61zM468.75 300.45l1.06-0.61 1.06 0.61v1.23l-1.06 0.61-1.06-0.61zM478.80 300.45l1.06-0.61 1.06 0.61v1.23l-1.06 0.61-1.06-0.61zM498.89 300.45l1.06-0.61 1.06 0.61v1.23l-1.06 0.61-1.06-0.61zM449.66 302.19l1.06-0.61 1.06 0.61v1.23l-1.06 0.61-1.06-0.61zM459.71 302.19l1.06-0.61 1.06 0.61v1.23l-1.06 0.61-1.06-0.61zM461.72 302.19l1.06-0.61 1.06 0.61v1.23l-1.06 0.61-1.06-0.61zM469.76 302.19l1.06-0.61 1.06 0.61v1.23l-1.06 0.61-1.06-0.61zM471.76 302.19l1.06-0.61 1.06 0.61v1.23l-1.06 0.61-1.06-0.61zM481.81 302.19l1.06-0.61 1.06 0.61v1.23l-1.06 0.61-1.06-0.61zM485.83 302.19l1.06-0.61 1.06 0.61v1.23l-1.06 0.61-1.06-0.61zM491.86 302.19l1.06-0.61 1.06 0.61v1.23l-1.06 0.61-1.06-0.61zM497.88 302.19l1.06-0.61 1.06 0.61v1.23l-1.06 0.61-1.06-0.61zM499.89 302.19l1.06-0.61 1.06 0.61v1.23l-1.06 0.61-1.06-0.61zM501.90 302.19l1.06-0.61 1.06 0.61v1.23l-1.06 0.61-1.06-0.61zM503.91 302.19l1.06-0.61 1.06 0.61v1.23l-1.06 0.61-1.06-0.61zM450.67 303.93l1.06-0.61 1.06 0.61v1.23l-1.06 0.61-1.06-0.61zM454.69 303.93l1.06-0.61 1.06 0.61v1.23l-1.06 0.61-1.06-0.61zM456.70 303.93l1.06-0.61 1.06 0.61v1.23l-1.06 0.61-1.06-0.61zM458.70 303.93l1.06-0.61 1.06 0.61v1.23l-1.06 0.61-1.06-0.61zM464.73 303.93l1.06-0.61 1.06 0.61v1.23l-1.06 0.61-1.06-0.61zM482.82 303.93l1.06-0.61 1.06 0.61v1.23l-1.06 0.61-1.06-0.61zM484.82 303.93l1.06-0.61 1.06 0.61v1.23l-1.06 0.61-1.06-0.61zM486.83 303.93l1.06-0.61 1.06 0.61v1.23l-1.06 0.61-1.06-0.61zM488.84 303.93l1.06-0.61 1.06 0.61v1.23l-1.06 0.61-1.06-0.61zM490.85 303.93l1.06-0.61 1.06 0.61v1.23l-1.06 0.61-1.06-0.61zM449.66 305.67l1.06-0.61 1.06 0.61v1.23l-1.06 0.61-1.06-0.61zM451.67 305.67l1.06-0.61 1.06 0.61v1.23l-1.06 0.61-1.06-0.61zM453.68 305.67l1.06-0.61 1.06 0.61v1.23l-1.06 0.61-1.06-0.61zM461.72 305.67l1.06-0.61 1.06 0.61v1.23l-1.06 0.61-1.06-0.61zM471.76 305.67l1.06-0.61 1.06 0.61v1.23l-1.06 0.61-1.06-0.61zM493.87 305.67l1.06-0.61 1.06 0.61v1.23l-1.06 0.61-1.06-0.61zM499.89 305.67l1.06-0.61 1.06 0.61v1.23l-1.06 0.61-1.06-0.61zM505.92 305.67l1.06-0.61 1.06 0.61v1.23l-1.06 0.61-1.06-0.61zM448.66 307.41l1.06-0.61 1.06 0.61v1.23l-1.06 0.61-1.06-0.61zM454.69 307.41l1.06-0.61 1.06 0.61v1.23l-1.06 0.61-1.06-0.61zM460.71 307.41l1.06-0.61 1.06 0.61v1.23l-1.06 0.61-1.06-0.61zM482.82 307.41l1.06-0.61 1.06 0.61v1.23l-1.06 0.61-1.06-0.61zM504.92 307.41l1.06-0.61 1.06 0.61v1.23l-1.06 0.61-1.06-0.61zM506.93 307.41l1.06-0.61 1.06 0.61v1.23l-1.06 0.61-1.06-0.61zM445.65 309.15l1.06-0.61 1.06 0.61v1.23l-1.06 0.61-1.06-0.61zM449.66 309.15l1.06-0.61 1.06 0.61v1.23l-1.06 0.61-1.06-0.61zM453.68 309.15l1.06-0.61 1.06 0.61v1.23l-1.06 0.61-1.06-0.61zM455.69 309.15l1.06-0.61 1.06 0.61v1.23l-1.06 0.61-1.06-0.61zM457.70 309.15l1.06-0.61 1.06 0.61v1.23l-1.06 0.61-1.06-0.61zM497.88 309.15l1.06-0.61 1.06 0.61v1.23l-1.06 0.61-1.06-0.61zM499.89 309.15l1.06-0.61 1.06 0.61v1.23l-1.06 0.61-1.06-0.61zM440.62 310.89l1.06-0.61 1.06 0.61v1.23l-1.06 0.61-1.06-0.61zM450.67 310.89l1.06-0.61 1.06 0.61v1.23l-1.06 0.61-1.06-0.61zM458.70 310.89l1.06-0.61 1.06 0.61v1.23l-1.06 0.61-1.06-0.61zM488.84 310.89l1.06-0.61 1.06 0.61v1.23l-1.06 0.61-1.06-0.61zM490.85 310.89l1.06-0.61 1.06 0.61v1.23l-1.06 0.61-1.06-0.61zM492.86 310.89l1.06-0.61 1.06 0.61v1.23l-1.06 0.61-1.06-0.61zM498.89 310.89l1.06-0.61 1.06 0.61v1.23l-1.06 0.61-1.06-0.61zM504.92 310.89l1.06-0.61 1.06 0.61v1.23l-1.06 0.61-1.06-0.61zM439.62 312.63l1.06-0.61 1.06 0.61v1.23l-1.06 0.61-1.06-0.61zM441.63 312.63l1.06-0.61 1.06 0.61v1.23l-1.06 0.61-1.06-0.61zM453.68 312.63l1.06-0.61 1.06 0.61v1.23l-1.06 0.61-1.06-0.61zM455.69 312.63l1.06-0.61 1.06 0.61v1.23l-1.06 0.61-1.06-0.61zM463.73 312.63l1.06-0.61 1.06 0.61v1.23l-1.06 0.61-1.06-0.61zM491.86 312.63l1.06-0.61 1.06 0.61v1.23l-1.06 0.61-1.06-0.61zM497.88 312.63l1.06-0.61 1.06 0.61v1.23l-1.06 0.61-1.06-0.61zM501.90 312.63l1.06-0.61 1.06 0.61v1.23l-1.06 0.61-1.06-0.61zM503.91 312.63l1.06-0.61 1.06 0.61v1.23l-1.06 0.61-1.06-0.61zM509.94 312.63l1.06-0.61 1.06 0.61v1.23l-1.06 0.61-1.06-0.61zM438.61 314.37l1.06-0.61 1.06 0.61v1.23l-1.06 0.61-1.06-0.61zM440.62 314.37l1.06-0.61 1.06 0.61v1.23l-1.06 0.61-1.06-0.61zM444.64 314.37l1.06-0.61 1.06 0.61v1.23l-1.06 0.61-1.06-0.61zM458.70 314.37l1.06-0.61 1.06 0.61v1.23l-1.06 0.61-1.06-0.61zM490.85 314.37l1.06-0.61 1.06 0.61v1.23l-1.06 0.61-1.06-0.61zM496.88 314.37l1.06-0.61 1.06 0.61v1.23l-1.06 0.61-1.06-0.61zM506.93 314.37l1.06-0.61 1.06 0.61v1.23l-1.06 0.61-1.06-0.61zM508.93 314.37l1.06-0.61 1.06 0.61v1.23l-1.06 0.61-1.06-0.61zM443.64 316.11l1.06-0.61 1.06 0.61v1.23l-1.06 0.61-1.06-0.61zM459.71 316.11l1.06-0.61 1.06 0.61v1.23l-1.06 0.61-1.06-0.61zM491.86 316.11l1.06-0.61 1.06 0.61v1.23l-1.06 0.61-1.06-0.61zM505.92 316.11l1.06-0.61 1.06 0.61v1.23l-1.06 0.61-1.06-0.61zM509.94 316.11l1.06-0.61 1.06 0.61v1.23l-1.06 0.61-1.06-0.61zM436.60 317.85l1.06-0.61 1.06 0.61v1.23l-1.06 0.61-1.06-0.61zM440.62 317.85l1.06-0.61 1.06 0.61v1.23l-1.06 0.61-1.06-0.61zM446.65 317.85l1.06-0.61 1.06 0.61v1.23l-1.06 0.61-1.06-0.61zM448.66 317.85l1.06-0.61 1.06 0.61v1.23l-1.06 0.61-1.06-0.61zM492.86 317.85l1.06-0.61 1.06 0.61v1.23l-1.06 0.61-1.06-0.61zM494.87 317.85l1.06-0.61 1.06 0.61v1.23l-1.06 0.61-1.06-0.61zM498.89 317.85l1.06-0.61 1.06 0.61v1.23l-1.06 0.61-1.06-0.61zM502.91 317.85l1.06-0.61 1.06 0.61v1.23l-1.06 0.61-1.06-0.61zM504.92 317.85l1.06-0.61 1.06 0.61v1.23l-1.06 0.61-1.06-0.61zM512.95 317.85l1.06-0.61 1.06 0.61v1.23l-1.06 0.61-1.06-0.61zM435.60 319.59l1.06-0.61 1.06 0.61v1.23l-1.06 0.61-1.06-0.61zM439.62 319.59l1.06-0.61 1.06 0.61v1.23l-1.06 0.61-1.06-0.61zM443.64 319.59l1.06-0.61 1.06 0.61v1.23l-1.06 0.61-1.06-0.61zM447.65 319.59l1.06-0.61 1.06 0.61v1.23l-1.06 0.61-1.06-0.61zM455.69 319.59l1.06-0.61 1.06 0.61v1.23l-1.06 0.61-1.06-0.61zM457.70 319.59l1.06-0.61 1.06 0.61v1.23l-1.06 0.61-1.06-0.61zM459.71 319.59l1.06-0.61 1.06 0.61v1.23l-1.06 0.61-1.06-0.61zM465.74 319.59l1.06-0.61 1.06 0.61v1.23l-1.06 0.61-1.06-0.61zM487.84 319.59l1.06-0.61 1.06 0.61v1.23l-1.06 0.61-1.06-0.61zM497.88 319.59l1.06-0.61 1.06 0.61v1.23l-1.06 0.61-1.06-0.61zM499.89 319.59l1.06-0.61 1.06 0.61v1.23l-1.06 0.61-1.06-0.61zM507.93 319.59l1.06-0.61 1.06 0.61v1.23l-1.06 0.61-1.06-0.61zM509.94 319.59l1.06-0.61 1.06 0.61v1.23l-1.06 0.61-1.06-0.61zM511.95 319.59l1.06-0.61 1.06 0.61v1.23l-1.06 0.61-1.06-0.61zM513.96 319.59l1.06-0.61 1.06 0.61v1.23l-1.06 0.61-1.06-0.61zM438.61 321.33l1.06-0.61 1.06 0.61v1.23l-1.06 0.61-1.06-0.61zM446.65 321.33l1.06-0.61 1.06 0.61v1.23l-1.06 0.61-1.06-0.61zM448.66 321.33l1.06-0.61 1.06 0.61v1.23l-1.06 0.61-1.06-0.61zM466.74 321.33l1.06-0.61 1.06 0.61v1.23l-1.06 0.61-1.06-0.61zM474.78 321.33l1.06-0.61 1.06 0.61v1.23l-1.06 0.61-1.06-0.61zM494.87 321.33l1.06-0.61 1.06 0.61v1.23l-1.06 0.61-1.06-0.61zM500.90 321.33l1.06-0.61 1.06 0.61v1.23l-1.06 0.61-1.06-0.61zM502.91 321.33l1.06-0.61 1.06 0.61v1.23l-1.06 0.61-1.06-0.61zM508.93 321.33l1.06-0.61 1.06 0.61v1.23l-1.06 0.61-1.06-0.61zM437.61 323.07l1.06-0.61 1.06 0.61v1.23l-1.06 0.61-1.06-0.61zM441.63 323.07l1.06-0.61 1.06 0.61v1.23l-1.06 0.61-1.06-0.61zM445.65 323.07l1.06-0.61 1.06 0.61v1.23l-1.06 0.61-1.06-0.61zM449.66 323.07l1.06-0.61 1.06 0.61v1.23l-1.06 0.61-1.06-0.61zM455.69 323.07l1.06-0.61 1.06 0.61v1.23l-1.06 0.61-1.06-0.61zM461.72 323.07l1.06-0.61 1.06 0.61v1.23l-1.06 0.61-1.06-0.61zM491.86 323.07l1.06-0.61 1.06 0.61v1.23l-1.06 0.61-1.06-0.61zM495.87 323.07l1.06-0.61 1.06 0.61v1.23l-1.06 0.61-1.06-0.61zM497.88 323.07l1.06-0.61 1.06 0.61v1.23l-1.06 0.61-1.06-0.61zM499.89 323.07l1.06-0.61 1.06 0.61v1.23l-1.06 0.61-1.06-0.61zM501.90 323.07l1.06-0.61 1.06 0.61v1.23l-1.06 0.61-1.06-0.61zM503.91 323.07l1.06-0.61 1.06 0.61v1.23l-1.06 0.61-1.06-0.61zM505.92 323.07l1.06-0.61 1.06 0.61v1.23l-1.06 0.61-1.06-0.61zM507.93 323.07l1.06-0.61 1.06 0.61v1.23l-1.06 0.61-1.06-0.61zM515.97 323.07l1.06-0.61 1.06 0.61v1.23l-1.06 0.61-1.06-0.61zM436.60 324.81l1.06-0.61 1.06 0.61v1.23l-1.06 0.61-1.06-0.61zM440.62 324.81l1.06-0.61 1.06 0.61v1.23l-1.06 0.61-1.06-0.61zM442.63 324.81l1.06-0.61 1.06 0.61v1.23l-1.06 0.61-1.06-0.61zM452.68 324.81l1.06-0.61 1.06 0.61v1.23l-1.06 0.61-1.06-0.61zM454.69 324.81l1.06-0.61 1.06 0.61v1.23l-1.06 0.61-1.06-0.61zM458.70 324.81l1.06-0.61 1.06 0.61v1.23l-1.06 0.61-1.06-0.61zM468.75 324.81l1.06-0.61 1.06 0.61v1.23l-1.06 0.61-1.06-0.61zM484.82 324.81l1.06-0.61 1.06 0.61v1.23l-1.06 0.61-1.06-0.61zM488.84 324.81l1.06-0.61 1.06 0.61v1.23l-1.06 0.61-1.06-0.61zM492.86 324.81l1.06-0.61 1.06 0.61v1.23l-1.06 0.61-1.06-0.61zM496.88 324.81l1.06-0.61 1.06 0.61v1.23l-1.06 0.61-1.06-0.61zM498.89 324.81l1.06-0.61 1.06 0.61v1.23l-1.06 0.61-1.06-0.61zM502.91 324.81l1.06-0.61 1.06 0.61v1.23l-1.06 0.61-1.06-0.61zM508.93 324.81l1.06-0.61 1.06 0.61v1.23l-1.06 0.61-1.06-0.61zM441.63 326.55l1.06-0.61 1.06 0.61v1.23l-1.06 0.61-1.06-0.61zM443.64 326.55l1.06-0.61 1.06 0.61v1.23l-1.06 0.61-1.06-0.61zM447.65 326.55l1.06-0.61 1.06 0.61v1.23l-1.06 0.61-1.06-0.61zM463.73 326.55l1.06-0.61 1.06 0.61v1.23l-1.06 0.61-1.06-0.61zM467.75 326.55l1.06-0.61 1.06 0.61v1.23l-1.06 0.61-1.06-0.61zM499.89 326.55l1.06-0.61 1.06 0.61v1.23l-1.06 0.61-1.06-0.61zM505.92 326.55l1.06-0.61 1.06 0.61v1.23l-1.06 0.61-1.06-0.61zM446.65 328.29l1.06-0.61 1.06 0.61v1.23l-1.06 0.61-1.06-0.61zM452.68 328.29l1.06-0.61 1.06 0.61v1.23l-1.06 0.61-1.06-0.61zM466.74 328.29l1.06-0.61 1.06 0.61v1.23l-1.06 0.61-1.06-0.61zM486.83 328.29l1.06-0.61 1.06 0.61v1.23l-1.06 0.61-1.06-0.61zM504.92 328.29l1.06-0.61 1.06 0.61v1.23l-1.06 0.61-1.06-0.61zM506.93 328.29l1.06-0.61 1.06 0.61v1.23l-1.06 0.61-1.06-0.61zM510.94 328.29l1.06-0.61 1.06 0.61v1.23l-1.06 0.61-1.06-0.61zM514.96 328.29l1.06-0.61 1.06 0.61v1.23l-1.06 0.61-1.06-0.61zM433.59 330.03l1.06-0.61 1.06 0.61v1.23l-1.06 0.61-1.06-0.61zM437.61 330.03l1.06-0.61 1.06 0.61v1.23l-1.06 0.61-1.06-0.61zM441.63 330.03l1.06-0.61 1.06 0.61v1.23l-1.06 0.61-1.06-0.61zM451.67 330.03l1.06-0.61 1.06 0.61v1.23l-1.06 0.61-1.06-0.61zM457.70 330.03l1.06-0.61 1.06 0.61v1.23l-1.06 0.61-1.06-0.61zM481.81 330.03l1.06-0.61 1.06 0.61v1.23l-1.06 0.61-1.06-0.61zM489.85 330.03l1.06-0.61 1.06 0.61v1.23l-1.06 0.61-1.06-0.61zM491.86 330.03l1.06-0.61 1.06 0.61v1.23l-1.06 0.61-1.06-0.61zM493.87 330.03l1.06-0.61 1.06 0.61v1.23l-1.06 0.61-1.06-0.61zM497.88 330.03l1.06-0.61 1.06 0.61v1.23l-1.06 0.61-1.06-0.61zM499.89 330.03l1.06-0.61 1.06 0.61v1.23l-1.06 0.61-1.06-0.61zM501.90 330.03l1.06-0.61 1.06 0.61v1.23l-1.06 0.61-1.06-0.61zM505.92 330.03l1.06-0.61 1.06 0.61v1.23l-1.06 0.61-1.06-0.61zM507.93 330.03l1.06-0.61 1.06 0.61v1.23l-1.06 0.61-1.06-0.61zM513.96 330.03l1.06-0.61 1.06 0.61v1.23l-1.06 0.61-1.06-0.61zM515.97 330.03l1.06-0.61 1.06 0.61v1.23l-1.06 0.61-1.06-0.61zM517.98 330.03l1.06-0.61 1.06 0.61v1.23l-1.06 0.61-1.06-0.61zM432.59 331.77l1.06-0.61 1.06 0.61v1.23l-1.06 0.61-1.06-0.61zM442.63 331.77l1.06-0.61 1.06 0.61v1.23l-1.06 0.61-1.06-0.61zM444.64 331.77l1.06-0.61 1.06 0.61v1.23l-1.06 0.61-1.06-0.61zM446.65 331.77l1.06-0.61 1.06 0.61v1.23l-1.06 0.61-1.06-0.61zM450.67 331.77l1.06-0.61 1.06 0.61v1.23l-1.06 0.61-1.06-0.61zM470.76 331.77l1.06-0.61 1.06 0.61v1.23l-1.06 0.61-1.06-0.61zM472.77 331.77l1.06-0.61 1.06 0.61v1.23l-1.06 0.61-1.06-0.61zM480.81 331.77l1.06-0.61 1.06 0.61v1.23l-1.06 0.61-1.06-0.61zM488.84 331.77l1.06-0.61 1.06 0.61v1.23l-1.06 0.61-1.06-0.61zM492.86 331.77l1.06-0.61 1.06 0.61v1.23l-1.06 0.61-1.06-0.61zM494.87 331.77l1.06-0.61 1.06 0.61v1.23l-1.06 0.61-1.06-0.61zM496.88 331.77l1.06-0.61 1.06 0.61v1.23l-1.06 0.61-1.06-0.61zM498.89 331.77l1.06-0.61 1.06 0.61v1.23l-1.06 0.61-1.06-0.61zM502.91 331.77l1.06-0.61 1.06 0.61v1.23l-1.06 0.61-1.06-0.61zM506.93 331.77l1.06-0.61 1.06 0.61v1.23l-1.06 0.61-1.06-0.61zM510.94 331.77l1.06-0.61 1.06 0.61v1.23l-1.06 0.61-1.06-0.61zM512.95 331.77l1.06-0.61 1.06 0.61v1.23l-1.06 0.61-1.06-0.61zM514.96 331.77l1.06-0.61 1.06 0.61v1.23l-1.06 0.61-1.06-0.61zM516.97 331.77l1.06-0.61 1.06 0.61v1.23l-1.06 0.61-1.06-0.61zM429.57 333.51l1.06-0.61 1.06 0.61v1.23l-1.06 0.61-1.06-0.61zM431.58 333.51l1.06-0.61 1.06 0.61v1.23l-1.06 0.61-1.06-0.61zM433.59 333.51l1.06-0.61 1.06 0.61v1.23l-1.06 0.61-1.06-0.61zM439.62 333.51l1.06-0.61 1.06 0.61v1.23l-1.06 0.61-1.06-0.61zM451.67 333.51l1.06-0.61 1.06 0.61v1.23l-1.06 0.61-1.06-0.61zM457.70 333.51l1.06-0.61 1.06 0.61v1.23l-1.06 0.61-1.06-0.61zM461.72 333.51l1.06-0.61 1.06 0.61v1.23l-1.06 0.61-1.06-0.61zM467.75 333.51l1.06-0.61 1.06 0.61v1.23l-1.06 0.61-1.06-0.61zM473.77 333.51l1.06-0.61 1.06 0.61v1.23l-1.06 0.61-1.06-0.61zM481.81 333.51l1.06-0.61 1.06 0.61v1.23l-1.06 0.61-1.06-0.61zM501.90 333.51l1.06-0.61 1.06 0.61v1.23l-1.06 0.61-1.06-0.61zM503.91 333.51l1.06-0.61 1.06 0.61v1.23l-1.06 0.61-1.06-0.61zM507.93 333.51l1.06-0.61 1.06 0.61v1.23l-1.06 0.61-1.06-0.61zM519.98 333.51l1.06-0.61 1.06 0.61v1.23l-1.06 0.61-1.06-0.61zM430.58 335.25l1.06-0.61 1.06 0.61v1.23l-1.06 0.61-1.06-0.61zM436.60 335.25l1.06-0.61 1.06 0.61v1.23l-1.06 0.61-1.06-0.61zM444.64 335.25l1.06-0.61 1.06 0.61v1.23l-1.06 0.61-1.06-0.61zM458.70 335.25l1.06-0.61 1.06 0.61v1.23l-1.06 0.61-1.06-0.61zM460.71 335.25l1.06-0.61 1.06 0.61v1.23l-1.06 0.61-1.06-0.61zM462.72 335.25l1.06-0.61 1.06 0.61v1.23l-1.06 0.61-1.06-0.61zM468.75 335.25l1.06-0.61 1.06 0.61v1.23l-1.06 0.61-1.06-0.61zM472.77 335.25l1.06-0.61 1.06 0.61v1.23l-1.06 0.61-1.06-0.61zM476.79 335.25l1.06-0.61 1.06 0.61v1.23l-1.06 0.61-1.06-0.61zM490.85 335.25l1.06-0.61 1.06 0.61v1.23l-1.06 0.61-1.06-0.61zM494.87 335.25l1.06-0.61 1.06 0.61v1.23l-1.06 0.61-1.06-0.61zM500.90 335.25l1.06-0.61 1.06 0.61v1.23l-1.06 0.61-1.06-0.61zM502.91 335.25l1.06-0.61 1.06 0.61v1.23l-1.06 0.61-1.06-0.61zM435.60 336.99l1.06-0.61 1.06 0.61v1.23l-1.06 0.61-1.06-0.61zM437.61 336.99l1.06-0.61 1.06 0.61v1.23l-1.06 0.61-1.06-0.61zM439.62 336.99l1.06-0.61 1.06 0.61v1.23l-1.06 0.61-1.06-0.61zM457.70 336.99l1.06-0.61 1.06 0.61v1.23l-1.06 0.61-1.06-0.61zM477.79 336.99l1.06-0.61 1.06 0.61v1.23l-1.06 0.61-1.06-0.61zM481.81 336.99l1.06-0.61 1.06 0.61v1.23l-1.06 0.61-1.06-0.61zM489.85 336.99l1.06-0.61 1.06 0.61v1.23l-1.06 0.61-1.06-0.61zM499.89 336.99l1.06-0.61 1.06 0.61v1.23l-1.06 0.61-1.06-0.61zM513.96 336.99l1.06-0.61 1.06 0.61v1.23l-1.06 0.61-1.06-0.61zM521.99 336.99l1.06-0.61 1.06 0.61v1.23l-1.06 0.61-1.06-0.61zM524.00 336.99l1.06-0.61 1.06 0.61v1.23l-1.06 0.61-1.06-0.61zM434.59 338.73l1.06-0.61 1.06 0.61v1.23l-1.06 0.61-1.06-0.61zM440.62 338.73l1.06-0.61 1.06 0.61v1.23l-1.06 0.61-1.06-0.61zM446.65 338.73l1.06-0.61 1.06 0.61v1.23l-1.06 0.61-1.06-0.61zM454.69 338.73l1.06-0.61 1.06 0.61v1.23l-1.06 0.61-1.06-0.61zM464.73 338.73l1.06-0.61 1.06 0.61v1.23l-1.06 0.61-1.06-0.61zM478.80 338.73l1.06-0.61 1.06 0.61v1.23l-1.06 0.61-1.06-0.61zM480.81 338.73l1.06-0.61 1.06 0.61v1.23l-1.06 0.61-1.06-0.61zM486.83 338.73l1.06-0.61 1.06 0.61v1.23l-1.06 0.61-1.06-0.61zM488.84 338.73l1.06-0.61 1.06 0.61v1.23l-1.06 0.61-1.06-0.61zM490.85 338.73l1.06-0.61 1.06 0.61v1.23l-1.06 0.61-1.06-0.61zM494.87 338.73l1.06-0.61 1.06 0.61v1.23l-1.06 0.61-1.06-0.61zM516.97 338.73l1.06-0.61 1.06 0.61v1.23l-1.06 0.61-1.06-0.61zM518.98 338.73l1.06-0.61 1.06 0.61v1.23l-1.06 0.61-1.06-0.61zM435.60 340.47l1.06-0.61 1.06 0.61v1.23l-1.06 0.61-1.06-0.61zM441.63 340.47l1.06-0.61 1.06 0.61v1.23l-1.06 0.61-1.06-0.61zM449.66 340.47l1.06-0.61 1.06 0.61v1.23l-1.06 0.61-1.06-0.61zM459.71 340.47l1.06-0.61 1.06 0.61v1.23l-1.06 0.61-1.06-0.61zM461.72 340.47l1.06-0.61 1.06 0.61v1.23l-1.06 0.61-1.06-0.61zM463.73 340.47l1.06-0.61 1.06 0.61v1.23l-1.06 0.61-1.06-0.61zM467.75 340.47l1.06-0.61 1.06 0.61v1.23l-1.06 0.61-1.06-0.61zM481.81 340.47l1.06-0.61 1.06 0.61v1.23l-1.06 0.61-1.06-0.61zM483.82 340.47l1.06-0.61 1.06 0.61v1.23l-1.06 0.61-1.06-0.61zM491.86 340.47l1.06-0.61 1.06 0.61v1.23l-1.06 0.61-1.06-0.61zM513.96 340.47l1.06-0.61 1.06 0.61v1.23l-1.06 0.61-1.06-0.61zM517.98 340.47l1.06-0.61 1.06 0.61v1.23l-1.06 0.61-1.06-0.61zM524.00 340.47l1.06-0.61 1.06 0.61v1.23l-1.06 0.61-1.06-0.61zM424.55 342.21l1.06-0.61 1.06 0.61v1.23l-1.06 0.61-1.06-0.61zM430.58 342.21l1.06-0.61 1.06 0.61v1.23l-1.06 0.61-1.06-0.61zM440.62 342.21l1.06-0.61 1.06 0.61v1.23l-1.06 0.61-1.06-0.61zM442.63 342.21l1.06-0.61 1.06 0.61v1.23l-1.06 0.61-1.06-0.61zM446.65 342.21l1.06-0.61 1.06 0.61v1.23l-1.06 0.61-1.06-0.61zM450.67 342.21l1.06-0.61 1.06 0.61v1.23l-1.06 0.61-1.06-0.61zM454.69 342.21l1.06-0.61 1.06 0.61v1.23l-1.06 0.61-1.06-0.61zM466.74 342.21l1.06-0.61 1.06 0.61v1.23l-1.06 0.61-1.06-0.61zM468.75 342.21l1.06-0.61 1.06 0.61v1.23l-1.06 0.61-1.06-0.61zM490.85 342.21l1.06-0.61 1.06 0.61v1.23l-1.06 0.61-1.06-0.61zM492.86 342.21l1.06-0.61 1.06 0.61v1.23l-1.06 0.61-1.06-0.61zM494.87 342.21l1.06-0.61 1.06 0.61v1.23l-1.06 0.61-1.06-0.61zM498.89 342.21l1.06-0.61 1.06 0.61v1.23l-1.06 0.61-1.06-0.61zM504.92 342.21l1.06-0.61 1.06 0.61v1.23l-1.06 0.61-1.06-0.61zM514.96 342.21l1.06-0.61 1.06 0.61v1.23l-1.06 0.61-1.06-0.61zM520.99 342.21l1.06-0.61 1.06 0.61v1.23l-1.06 0.61-1.06-0.61zM525.01 342.21l1.06-0.61 1.06 0.61v1.23l-1.06 0.61-1.06-0.61zM527.02 342.21l1.06-0.61 1.06 0.61v1.23l-1.06 0.61-1.06-0.61z" fill="#440154" stroke="#440154" stroke-width="0.25"/>
<path d="M478.80 262.17l1.06-0.61 1.06 0.61v1.23l-1.06 0.61-1.06-0.61zM467.75 267.39l1.06-0.61 1.06 0.61v1.23l-1.06 0.61-1.06-0.61zM466.74 269.13l1.06-0.61 1.06 0.61v1.23l-1.06 0.61-1.06-0.61zM465.74 270.87l1.06-0.61 1.06 0.61v1.23l-1.06 0.61-1.06-0.61zM471.76 277.83l1.06-0.61 1.06 0.61v1.23l-1.06 0.61-1.06-0.61zM466.74 279.57l1.06-0.61 1.06 0.61v1.23l-1.06 0.61-1.06-0.61zM468.75 279.57l1.06-0.61 1.06 0.61v1.23l-1.06 0.61-1.06-0.61zM483.82 281.31l1.06-0.61 1.06 0.61v1.23l-1.06 0.61-1.06-0.61zM474.78 283.05l1.06-0.61 1.06 0.61v1.23l-1.06 0.61-1.06-0.61zM491.86 284.79l1.06-0.61 1.06 0.61v1.23l-1.06 0.61-1.06-0.61zM493.87 284.79l1.06-0.61 1.06 0.61v1.23l-1.06 0.61-1.06-0.61zM460.71 286.53l1.06-0.61 1.06 0.61v1.23l-1.06 0.61-1.06-0.61zM486.83 286.53l1.06-0.61 1.06 0.61v1.23l-1.06 0.61-1.06-0.61zM494.87 286.53l1.06-0.61 1.06 0.61v1.23l-1.06 0.61-1.06-0.61zM468.75 290.01l1.06-0.61 1.06 0.61v1.23l-1.06 0.61-1.06-0.61zM451.67 291.75l1.06-0.61 1.06 0.61v1.23l-1.06 0.61-1.06-0.61zM459.71 291.75l1.06-0.61 1.06 0.61v1.23l-1.06 0.61-1.06-0.61zM467.75 291.75l1.06-0.61 1.06 0.61v1.23l-1.06 0.61-1.06-0.61zM464.73 293.49l1.06-0.61 1.06 0.61v1.23l-1.06 0.61-1.06-0.61zM468.75 293.49l1.06-0.61 1.06 0.61v1.23l-1.06 0.61-1.06-0.61zM480.81 293.49l1.06-0.61 1.06 0.61v1.23l-1.06 0.61-1.06-0.61zM488.84 293.49l1.06-0.61 1.06 0.61v1.23l-1.06 0.61-1.06-0.61zM487.84 295.23l1.06-0.61 1.06 0.61v1.23l-1.06 0.61-1.06-0.61zM493.87 295.23l1.06-0.61 1.06 0.61v1.23l-1.06 0.61-1.06-0.61zM464.73 296.97l1.06-0.61 1.06 0.61v1.23l-1.06 0.61-1.06-0.61zM468.75 296.97l1.06-0.61 1.06 0.61v1.23l-1.06 0.61-1.06-0.61zM472.77 296.97l1.06-0.61 1.06 0.61v1.23l-1.06 0.61-1.06-0.61zM484.82 296.97l1.06-0.61 1.06 0.61v1.23l-1.06 0.61-1.06-0.61zM486.83 296.97l1.06-0.61 1.06 0.61v1.23l-1.06 0.61-1.06-0.61zM498.89 296.97l1.06-0.61 1.06 0.61v1.23l-1.06 0.61-1.06-0.61zM447.65 298.71l1.06-0.61 1.06 0.61v1.23l-1.06 0.61-1.06-0.61zM471.76 298.71l1.06-0.61 1.06 0.61v1.23l-1.06 0.61-1.06-0.61zM477.79 298.71l1.06-0.61 1.06 0.61v1.23l-1.06 0.61-1.06-0.61zM474.78 300.45l1.06-0.61 1.06 0.61v1.23l-1.06 0.61-1.06-0.61zM476.79 300.45l1.06-0.61 1.06 0.61v1.23l-1.06 0.61-1.06-0.61zM480.81 300.45l1.06-0.61 1.06 0.61v1.23l-1.06 0.61-1.06-0.61zM496.88 300.45l1.06-0.61 1.06 0.61v1.23l-1.06 0.61-1.06-0.61zM445.65 302.19l1.06-0.61 1.06 0.61v1.23l-1.06 0.61-1.06-0.61zM455.69 302.19l1.06-0.61 1.06 0.61v1.23l-1.06 0.61-1.06-0.61zM463.73 302.19l1.06-0.61 1.06 0.61v1.23l-1.06 0.61-1.06-0.61zM479.80 302.19l1.06-0.61 1.06 0.61v1.23l-1.06 0.61-1.06-0.61zM462.72 303.93l1.06-0.61 1.06 0.61v1.23l-1.06 0.61-1.06-0.61zM470.76 303.93l1.06-0.61 1.06 0.61v1.23l-1.06 0.61-1.06-0.61zM492.86 303.93l1.06-0.61 1.06 0.61v1.23l-1.06 0.61-1.06-0.61zM504.92 303.93l1.06-0.61 1.06 0.61v1.23l-1.06 0.61-1.06-0.61zM443.64 305.67l1.06-0.61 1.06 0.61v1.23l-1.06 0.61-1.06-0.61zM455.69 305.67l1.06-0.61 1.06 0.61v1.23l-1.06 0.61-1.06-0.61zM465.74 305.67l1.06-0.61 1.06 0.61v1.23l-1.06 0.61-1.06-0.61zM477.79 305.67l1.06-0.61 1.06 0.61v1.23l-1.06 0.61-1.06-0.61zM487.84 305.67l1.06-0.61 1.06 0.61v1.23l-1.06 0.61-1.06-0.61zM446.65 307.41l1.06-0.61 1.06 0.61v1.23l-1.06 0.61-1.06-0.61zM456.70 307.41l1.06-0.61 1.06 0.61v1.23l-1.06 0.61-1.06-0.61zM464.73 307.41l1.06-0.61 1.06 0.61v1.23l-1.06 0.61-1.06-0.61zM466.74 307.41l1.06-0.61 1.06 0.61v1.23l-1.06 0.61-1.06-0.61zM486.83 307.41l1.06-0.61 1.06 0.61v1.23l-1.06 0.61-1.06-0.61zM490.85 307.41l1.06-0.61 1.06 0.61v1.23l-1.06 0.61-1.06-0.61zM492.86 307.41l1.06-0.61 1.06 0.61v1.23l-1.06 0.61-1.06-0.61zM496.88 307.41l1.06-0.61 1.06 0.61v1.23l-1.06 0.61-1.06-0.61zM461.72 309.15l1.06-0.61 1.06 0.61v1.23l-1.06 0.61-1.06-0.61zM479.80 309.15l1.06-0.61 1.06 0.61v1.23l-1.06 0.61-1.06-0.61zM485.83 309.15l1.06-0.61 1.06 0.61v1.23l-1.06 0.61-1.06-0.61zM487.84 309.15l1.06-0.61 1.06 0.61v1.23l-1.06 0.61-1.06-0.61zM491.86 309.15l1.06-0.61 1.06 0.61v1.23l-1.06 0.61-1.06-0.61zM493.87 309.15l1.06-0.61 1.06 0.61v1.23l-1.06 0.61-1.06-0.61zM495.87 309.15l1.06-0.61 1.06 0.61v1.23l-1.06 0.61-1.06-0.61zM501.90 309.15l1.06-0.61 1.06 0.61v1.23l-1.06 0.61-1.06-0.61zM444.64 310.89l1.06-0.61 1.06 0.61v1.23l-1.06 0.61-1.06-0.61zM452.68 310.89l1.06-0.61 1.06 0.61v1.23l-1.06 0.61-1.06-0.61zM460.71 310.89l1.06-0.61 1.06 0.61v1.23l-1.06 0.61-1.06-0.61zM464.73 310.89l1.06-0.61 1.06 0.61v1.23l-1.06 0.61-1.06-0.61zM466.74 310.89l1.06-0.61 1.06 0.61v1.23l-1.06 0.61-1.06-0.61zM486.83 310.89l1.06-0.61 1.06 0.61v1.23l-1.06 0.61-1.06-0.61zM506.93 310.89l1.06-0.61 1.06 0.61v1.23l-1.06 0.61-1.06-0.61zM449.66 312.63l1.06-0.61 1.06 0.61v1.23l-1.06 0.61-1.06-0.61zM451.67 312.63l1.06-0.61 1.06 0.61v1.23l-1.06 0.61-1.06-0.61zM457.70 312.63l1.06-0.61 1.06 0.61v1.23l-1.06 0.61-1.06-0.61zM483.82 312.63l1.06-0.61 1.06 0.61v1.23l-1.06 0.61-1.06-0.61zM487.84 312.63l1.06-0.61 1.06 0.61v1.23l-1.06 0.61-1.06-0.61zM489.85 312.63l1.06-0.61 1.06 0.61v1.23l-1.06 0.61-1.06-0.61zM493.87 312.63l1.06-0.61 1.06 0.61v1.23l-1.06 0.61-1.06-0.61zM495.87 312.63l1.06-0.61 1.06 0.61v1.23l-1.06 0.61-1.06-0.61zM446.65 314.37l1.06-0.61 1.06 0.61v1.23l-1.06 0.61-1.06-0.61zM456.70 314.37l1.06-0.61 1.06 0.61v1.23l-1.06 0.61-1.06-0.61zM460.71 314.37l1.06-0.61 1.06 0.61v1.23l-1.06 0.61-1.06-0.61zM462.72 314.37l1.06-0.61 1.06 0.61v1.23l-1.06 0.61-1.06-0.61zM466.74 314.37l1.06-0.61 1.06 0.61v1.23l-1.06 0.61-1.06-0.61zM486.83 314.37l1.06-0.61 1.06 0.61v1.23l-1.06 0.61-1.06-0.61zM492.86 314.37l1.06-0.61 1.06 0.61v1.23l-1.06 0.61-1.06-0.61zM494.87 314.37l1.06-0.61 1.06 0.61v1.23l-1.06 0.61-1.06-0.61zM500.90 314.37l1.06-0.61 1.06 0.61v1.23l-1.06 0.61-1.06-0.61zM502.91 314.37l1.06-0.61 1.06 0.61v1.23l-1.06 0.61-1.06-0.61zM449.66 316.11l1.06-0.61 1.06 0.61v1.23l-1.06 0.61-1.06-0.61zM451.67 316.11l1.06-0.61 1.06 0.61v1.23l-1.06 0.61-1.06-0.61zM455.69 316.11l1.06-0.61 1.06 0.61v1.23l-1.06 0.61-1.06-0.61zM493.87 316.11l1.06-0.61 1.06 0.61v1.23l-1.06 0.61-1.06-0.61zM499.89 316.11l1.06-0.61 1.06 0.61v1.23l-1.06 0.61-1.06-0.61zM458.70 317.85l1.06-0.61 1.06 0.61v1.23l-1.06 0.61-1.06-0.61zM460.71 317.85l1.06-0.61 1.06 0.61v1.23l-1.06 0.61-1.06-0.61zM510.94 317.85l1.06-0.61 1.06 0.61v1.23l-1.06 0.61-1.06-0.61zM445.65 319.59l1.06-0.61 1.06 0.61v1.23l-1.06 0.61-1.06-0.61zM463.73 319.59l1.06-0.61 1.06 0.61v1.23l-1.06 0.61-1.06-0.61zM475.78 319.59l1.06-0.61 1.06 0.61v1.23l-1.06 0.61-1.06-0.61zM493.87 319.59l1.06-0.61 1.06 0.61v1.23l-1.06 0.61-1.06-0.61zM495.87 319.59l1.06-0.61 1.06 0.61v1.23l-1.06 0.61-1.06-0.61zM440.62 321.33l1.06-0.61 1.06 0.61v1.23l-1.06 0.61-1.06-0.61zM444.64 321.33l1.06-0.61 1.06 0.61v1.23l-1.06 0.61-1.06-0.61zM458.70 321.33l1.06-0.61 1.06 0.61v1.23l-1.06 0.61-1.06-0.61zM488.84 321.33l1.06-0.61 1.06 0.61v1.23l-1.06 0.61-1.06-0.61zM490.85 321.33l1.06-0.61 1.06 0.61v1.23l-1.06 0.61-1.06-0.61zM492.86 321.33l1.06-0.61 1.06 0.61v1.23l-1.06 0.61-1.06-0.61zM447.65 323.07l1.06-0.61 1.06 0.61v1.23l-1.06 0.61-1.06-0.61zM451.67 323.07l1.06-0.61 1.06 0.61v1.23l-1.06 0.61-1.06-0.61zM465.74 323.07l1.06-0.61 1.06 0.61v1.23l-1.06 0.61-1.06-0.61zM481.81 323.07l1.06-0.61 1.06 0.61v1.23l-1.06 0.61-1.06-0.61zM483.82 323.07l1.06-0.61 1.06 0.61v1.23l-1.06 0.61-1.06-0.61zM487.84 323.07l1.06-0.61 1.06 0.61v1.23l-1.06 0.61-1.06-0.61zM444.64 324.81l1.06-0.61 1.06 0.61v1.23l-1.06 0.61-1.06-0.61zM448.66 324.81l1.06-0.61 1.06 0.61v1.23l-1.06 0.61-1.06-0.61zM456.70 324.81l1.06-0.61 1.06 0.61v1.23l-1.06 0.61-1.06-0.61zM462.72 324.81l1.06-0.61 1.06 0.61v1.23l-1.06 0.61-1.06-0.61zM466.74 324.81l1.06-0.61 1.06 0.61v1.23l-1.06 0.61-1.06-0.61zM490.85 324.81l1.06-0.61 1.06 0.61v1.23l-1.06 0.61-1.06-0.61zM494.87 324.81l1.06-0.61 1.06 0.61v1.23l-1.06 0.61-1.06-0.61zM445.65 326.55l1.06-0.61 1.06 0.61v1.23l-1.06 0.61-1.06-0.61zM457.70 326.55l1.06-0.61 1.06 0.61v1.23l-1.06 0.61-1.06-0.61zM465.74 326.55l1.06-0.61 1.06 0.61v1.23l-1.06 0.61-1.06-0.61zM469.76 326.55l1.06-0.61 1.06 0.61v1.23l-1.06 0.61-1.06-0.61zM473.77 326.55l1.06-0.61 1.06 0.61v1.23l-1.06 0.61-1.06-0.61zM477.79 326.55l1.06-0.61 1.06 0.61v1.23l-1.06 0.61-1.06-0.61zM487.84 326.55l1.06-0.61 1.06 0.61v1.23l-1.06 0.61-1.06-0.61zM491.86 326.55l1.06-0.61 1.06 0.61v1.23l-1.06 0.61-1.06-0.61zM495.87 326.55l1.06-0.61 1.06 0.61v1.23l-1.06 0.61-1.06-0.61zM497.88 326.55l1.06-0.61 1.06 0.61v1.23l-1.06 0.61-1.06-0.61zM501.90 326.55l1.06-0.61 1.06 0.61v1.23l-1.06 0.61-1.06-0.61zM436.60 328.29l1.06-0.61 1.06 0.61v1.23l-1.06 0.61-1.06-0.61zM454.69 328.29l1.06-0.61 1.06 0.61v1.23l-1.06 0.61-1.06-0.61zM462.72 328.29l1.06-0.61 1.06 0.61v1.23l-1.06 0.61-1.06-0.61zM464.73 328.29l1.06-0.61 1.06 0.61v1.23l-1.06 0.61-1.06-0.61zM468.75 328.29l1.06-0.61 1.06 0.61v1.23l-1.06 0.61-1.06-0.61zM470.76 328.29l1.06-0.61 1.06 0.61v1.23l-1.06 0.61-1.06-0.61zM482.82 328.29l1.06-0.61 1.06 0.61v1.23l-1.06 0.61-1.06-0.61zM490.85 328.29l1.06-0.61 1.06 0.61v1.23l-1.06 0.61-1.06-0.61zM496.88 328.29l1.06-0.61 1.06 0.61v1.23l-1.06 0.61-1.06-0.61zM518.98 328.29l1.06-0.61 1.06 0.61v1.23l-1.06 0.61-1.06-0.61zM443.64 330.03l1.06-0.61 1.06 0.61v1.23l-1.06 0.61-1.06-0.61zM449.66 330.03l1.06-0.61 1.06 0.61v1.23l-1.06 0.61-1.06-0.61zM463.73 330.03l1.06-0.61 1.06 0.61v1.23l-1.06 0.61-1.06-0.61zM469.76 330.03l1.06-0.61 1.06 0.61v1.23l-1.06 0.61-1.06-0.61zM471.76 330.03l1.06-0.61 1.06 0.61v1.23l-1.06 0.61-1.06-0.61zM475.78 330.03l1.06-0.61 1.06 0.61v1.23l-1.06 0.61-1.06-0.61zM477.79 330.03l1.06-0.61 1.06 0.61v1.23l-1.06 0.61-1.06-0.61zM487.84 330.03l1.06-0.61 1.06 0.61v1.23l-1.06 0.61-1.06-0.61zM495.87 330.03l1.06-0.61 1.06 0.61v1.23l-1.06 0.61-1.06-0.61zM503.91 330.03l1.06-0.61 1.06 0.61v1.23l-1.06 0.61-1.06-0.61zM436.60 331.77l1.06-0.61 1.06 0.61v1.23l-1.06 0.61-1.06-0.61zM456.70 331.77l1.06-0.61 1.06 0.61v1.23l-1.06 0.61-1.06-0.61zM462.72 331.77l1.06-0.61 1.06 0.61v1.23l-1.06 0.61-1.06-0.61zM478.80 331.77l1.06-0.61 1.06 0.61v1.23l-1.06 0.61-1.06-0.61zM482.82 331.77l1.06-0.61 1.06 0.61v1.23l-1.06 0.61-1.06-0.61zM486.83 331.77l1.06-0.61 1.06 0.61v1.23l-1.06 0.61-1.06-0.61zM500.90 331.77l1.06-0.61 1.06 0.61v1.23l-1.06 0.61-1.06-0.61zM504.92 331.77l1.06-0.61 1.06 0.61v1.23l-1.06 0.61-1.06-0.61zM455.69 333.51l1.06-0.61 1.06 0.61v1.23l-1.06 0.61-1.06-0.61zM459.71 333.51l1.06-0.61 1.06 0.61v1.23l-1.06 0.61-1.06-0.61zM465.74 333.51l1.06-0.61 1.06 0.61v1.23l-1.06 0.61-1.06-0.61zM485.83 333.51l1.06-0.61 1.06 0.61v1.23l-1.06 0.61-1.06-0.61zM489.85 333.51l1.06-0.61 1.06 0.61v1.23l-1.06 0.61-1.06-0.61zM493.87 333.51l1.06-0.61 1.06 0.61v1.23l-1.06 0.61-1.06-0.61zM499.89 333.51l1.06-0.61 1.06 0.61v1.23l-1.06 0.61-1.06-0.61zM505.92 333.51l1.06-0.61 1.06 0.61v1.23l-1.06 0.61-1.06-0.61zM509.94 333.51l1.06-0.61 1.06 0.61v1.23l-1.06 0.61-1.06-0.61zM452.68 335.25l1.06-0.61 1.06 0.61v1.23l-1.06 0.61-1.06-0.61zM454.69 335.25l1.06-0.61 1.06 0.61v1.23l-1.06 0.61-1.06-0.61zM480.81 335.25l1.06-0.61 1.06 0.61v1.23l-1.06 0.61-1.06-0.61zM482.82 335.25l1.06-0.61 1.06 0.61v1.23l-1.06 0.61-1.06-0.61zM486.83 335.25l1.06-0.61 1.06 0.61v1.23l-1.06 0.61-1.06-0.61zM492.86 335.25l1.06-0.61 1.06 0.61v1.23l-1.06 0.61-1.06-0.61zM504.92 335.25l1.06-0.61 1.06 0.61v1.23l-1.06 0.61-1.06-0.61zM445.65 336.99l1.06-0.61 1.06 0.61v1.23l-1.06 0.61-1.06-0.61zM451.67 336.99l1.06-0.61 1.06 0.61v1.23l-1.06 0.61-1.06-0.61zM453.68 336.99l1.06-0.61 1.06 0.61v1.23l-1.06 0.61-1.06-0.61zM459.71 336.99l1.06-0.61 1.06 0.61v1.23l-1.06 0.61-1.06-0.61zM467.75 336.99l1.06-0.61 1.06 0.61v1.23l-1.06 0.61-1.06-0.61zM487.84 336.99l1.06-0.61 1.06 0.61v1.23l-1.06 0.61-1.06-0.61zM493.87 336.99l1.06-0.61 1.06 0.61v1.23l-1.06 0.61-1.06-0.61zM460.71 338.73l1.06-0.61 1.06 0.61v1.23l-1.06 0.61-1.06-0.61zM474.78 338.73l1.06-0.61 1.06 0.61v1.23l-1.06 0.61-1.06-0.61zM445.65 340.47l1.06-0.61 1.06 0.61v1.23l-1.06 0.61-1.06-0.61zM457.70 340.47l1.06-0.61 1.06 0.61v1.23l-1.06 0.61-1.06-0.61zM475.78 340.47l1.06-0.61 1.06 0.61v1.23l-1.06 0.61-1.06-0.61zM477.79 340.47l1.06-0.61 1.06 0.61v1.23l-1.06 0.61-1.06-0.61zM501.90 340.47l1.06-0.61 1.06 0.61v1.23l-1.06 0.61-1.06-0.61zM444.64 342.21l1.06-0.61 1.06 0.61v1.23l-1.06 0.61-1.06-0.61zM448.66 342.21l1.06-0.61 1.06 0.61v1.23l-1.06 0.61-1.06-0.61zM474.78 342.21l1.06-0.61 1.06 0.61v1.23l-1.06 0.61-1.06-0.61zM488.84 342.21l1.06-0.61 1.06 0.61v1.23l-1.06 0.61-1.06-0.61z" fill="#413f82" stroke="#413f82" stroke-width="0.25"/>
<path d="M470.76 265.65l1.06-0.61 1.06 0.61v1.23l-1.06 0.61-1.06-0.61zM474.78 265.65l1.06-0.61 1.06 0.61v1.23l-1.06 0.61-1.06-0.61zM464.73 279.57l1.06-0.61 1.06 0.61v1.23l-1.06 0.61-1.06-0.61zM488.84 279.57l1.06-0.61 1.06 0.61v1.23l-1.06 0.61-1.06-0.61zM475.78 291.75l1.06-0.61 1.06 0.61v1.23l-1.06 0.61-1.06-0.61zM474.78 293.49l1.06-0.61 1.06 0.61v1.23l-1.06 0.61-1.06-0.61zM460.71 296.97l1.06-0.61 1.06 0.61v1.23l-1.06 0.61-1.06-0.61zM451.67 298.71l1.06-0.61 1.06 0.61v1.23l-1.06 0.61-1.06-0.61zM475.78 298.71l1.06-0.61 1.06 0.61v1.23l-1.06 0.61-1.06-0.61zM484.82 300.45l1.06-0.61 1.06 0.61v1.23l-1.06 0.61-1.06-0.61zM500.90 300.45l1.06-0.61 1.06 0.61v1.23l-1.06 0.61-1.06-0.61zM457.70 302.19l1.06-0.61 1.06 0.61v1.23l-1.06 0.61-1.06-0.61zM467.75 302.19l1.06-0.61 1.06 0.61v1.23l-1.06 0.61-1.06-0.61zM473.77 302.19l1.06-0.61 1.06 0.61v1.23l-1.06 0.61-1.06-0.61zM460.71 303.93l1.06-0.61 1.06 0.61v1.23l-1.06 0.61-1.06-0.61zM466.74 303.93l1.06-0.61 1.06 0.61v1.23l-1.06 0.61-1.06-0.61zM468.75 303.93l1.06-0.61 1.06 0.61v1.23l-1.06 0.61-1.06-0.61zM473.77 305.67l1.06-0.61 1.06 0.61v1.23l-1.06 0.61-1.06-0.61zM491.86 305.67l1.06-0.61 1.06 0.61v1.23l-1.06 0.61-1.06-0.61zM495.87 305.67l1.06-0.61 1.06 0.61v1.23l-1.06 0.61-1.06-0.61zM501.90 305.67l1.06-0.61 1.06 0.61v1.23l-1.06 0.61-1.06-0.61zM450.67 307.41l1.06-0.61 1.06 0.61v1.23l-1.06 0.61-1.06-0.61zM458.70 307.41l1.06-0.61 1.06 0.61v1.23l-1.06 0.61-1.06-0.61zM480.81 307.41l1.06-0.61 1.06 0.61v1.23l-1.06 0.61-1.06-0.61zM488.84 307.41l1.06-0.61 1.06 0.61v1.23l-1.06 0.61-1.06-0.61zM494.87 307.41l1.06-0.61 1.06 0.61v1.23l-1.06 0.61-1.06-0.61zM443.64 309.15l1.06-0.61 1.06 0.61v1.23l-1.06 0.61-1.06-0.61zM463.73 309.15l1.06-0.61 1.06 0.61v1.23l-1.06 0.61-1.06-0.61zM462.72 310.89l1.06-0.61 1.06 0.61v1.23l-1.06 0.61-1.06-0.61zM496.88 310.89l1.06-0.61 1.06 0.61v1.23l-1.06 0.61-1.06-0.61zM459.71 312.63l1.06-0.61 1.06 0.61v1.23l-1.06 0.61-1.06-0.61zM461.72 312.63l1.06-0.61 1.06 0.61v1.23l-1.06 0.61-1.06-0.61zM465.74 312.63l1.06-0.61 1.06 0.61v1.23l-1.06 0.61-1.06-0.61zM499.89 312.63l1.06-0.61 1.06 0.61v1.23l-1.06 0.61-1.06-0.61zM450.67 314.37l1.06-0.61 1.06 0.61v1.23l-1.06 0.61-1.06-0.61zM454.69 314.37l1.06-0.61 1.06 0.61v1.23l-1.06 0.61-1.06-0.61zM457.70 316.11l1.06-0.61 1.06 0.61v1.23l-1.06 0.61-1.06-0.61zM461.72 316.11l1.06-0.61 1.06 0.61v1.23l-1.06 0.61-1.06-0.61zM487.84 316.11l1.06-0.61 1.06 0.61v1.23l-1.06 0.61-1.06-0.61zM489.85 316.11l1.06-0.61 1.06 0.61v1.23l-1.06 0.61-1.06-0.61zM503.91 316.11l1.06-0.61 1.06 0.61v1.23l-1.06 0.61-1.06-0.61zM462.72 317.85l1.06-0.61 1.06 0.61v1.23l-1.06 0.61-1.06-0.61zM466.74 317.85l1.06-0.61 1.06 0.61v1.23l-1.06 0.61-1.06-0.61zM486.83 317.85l1.06-0.61 1.06 0.61v1.23l-1.06 0.61-1.06-0.61zM490.85 317.85l1.06-0.61 1.06 0.61v1.23l-1.06 0.61-1.06-0.61zM500.90 317.85l1.06-0.61 1.06 0.61v1.23l-1.06 0.61-1.06-0.61zM449.66 319.59l1.06-0.61 1.06 0.61v1.23l-1.06 0.61-1.06-0.61zM451.67 319.59l1.06-0.61 1.06 0.61v1.23l-1.06 0.61-1.06-0.61zM479.80 319.59l1.06-0.61 1.06 0.61v1.23l-1.06 0.61-1.06-0.61zM485.83 319.59l1.06-0.61 1.06 0.61v1.23l-1.06 0.61-1.06-0.61zM491.86 319.59l1.06-0.61 1.06 0.61v1.23l-1.06 0.61-1.06-0.61zM442.63 321.33l1.06-0.61 1.06 0.61v1.23l-1.06 0.61-1.06-0.61zM450.67 321.33l1.06-0.61 1.06 0.61v1.23l-1.06 0.61-1.06-0.61zM452.68 321.33l1.06-0.61 1.06 0.61v1.23l-1.06 0.61-1.06-0.61zM456.70 321.33l1.06-0.61 1.06 0.61v1.23l-1.06 0.61-1.06-0.61zM460.71 321.33l1.06-0.61 1.06 0.61v1.23l-1.06 0.61-1.06-0.61zM464.73 321.33l1.06-0.61 1.06 0.61v1.23l-1.06 0.61-1.06-0.61zM472.77 321.33l1.06-0.61 1.06 0.61v1.23l-1.06 0.61-1.06-0.61zM480.81 321.33l1.06-0.61 1.06 0.61v1.23l-1.06 0.61-1.06-0.61zM482.82 321.33l1.06-0.61 1.06 0.61v1.23l-1.06 0.61-1.06-0.61zM496.88 321.33l1.06-0.61 1.06 0.61v1.23l-1.06 0.61-1.06-0.61zM459.71 323.07l1.06-0.61 1.06 0.61v1.23l-1.06 0.61-1.06-0.61zM463.73 323.07l1.06-0.61 1.06 0.61v1.23l-1.06 0.61-1.06-0.61zM467.75 323.07l1.06-0.61 1.06 0.61v1.23l-1.06 0.61-1.06-0.61zM471.76 323.07l1.06-0.61 1.06 0.61v1.23l-1.06 0.61-1.06-0.61zM475.78 323.07l1.06-0.61 1.06 0.61v1.23l-1.06 0.61-1.06-0.61zM489.85 323.07l1.06-0.61 1.06 0.61v1.23l-1.06 0.61-1.06-0.61zM470.76 324.81l1.06-0.61 1.06 0.61v1.23l-1.06 0.61-1.06-0.61zM472.77 324.81l1.06-0.61 1.06 0.61v1.23l-1.06 0.61-1.06-0.61zM478.80 324.81l1.06-0.61 1.06 0.61v1.23l-1.06 0.61-1.06-0.61zM480.81 324.81l1.06-0.61 1.06 0.61v1.23l-1.06 0.61-1.06-0.61zM482.82 324.81l1.06-0.61 1.06 0.61v1.23l-1.06 0.61-1.06-0.61zM481.81 326.55l1.06-0.61 1.06 0.61v1.23l-1.06 0.61-1.06-0.61zM483.82 326.55l1.06-0.61 1.06 0.61v1.23l-1.06 0.61-1.06-0.61zM485.83 326.55l1.06-0.61 1.06 0.61v1.23l-1.06 0.61-1.06-0.61zM489.85 326.55l1.06-0.61 1.06 0.61v1.23l-1.06 0.61-1.06-0.61zM515.97 326.55l1.06-0.61 1.06 0.61v1.23l-1.06 0.61-1.06-0.61zM474.78 328.29l1.06-0.61 1.06 0.61v1.23l-1.06 0.61-1.06-0.61zM484.82 328.29l1.06-0.61 1.06 0.61v1.23l-1.06 0.61-1.06-0.61zM447.65 330.03l1.06-0.61 1.06 0.61v1.23l-1.06 0.61-1.06-0.61zM453.68 330.03l1.06-0.61 1.06 0.61v1.23l-1.06 0.61-1.06-0.61zM459.71 330.03l1.06-0.61 1.06 0.61v1.23l-1.06 0.61-1.06-0.61zM454.69 331.77l1.06-0.61 1.06 0.61v1.23l-1.06 0.61-1.06-0.61zM476.79 331.77l1.06-0.61 1.06 0.61v1.23l-1.06 0.61-1.06-0.61zM453.68 333.51l1.06-0.61 1.06 0.61v1.23l-1.06 0.61-1.06-0.61zM463.73 333.51l1.06-0.61 1.06 0.61v1.23l-1.06 0.61-1.06-0.61zM475.78 333.51l1.06-0.61 1.06 0.61v1.23l-1.06 0.61-1.06-0.61zM477.79 333.51l1.06-0.61 1.06 0.61v1.23l-1.06 0.61-1.06-0.61zM491.86 333.51l1.06-0.61 1.06 0.61v1.23l-1.06 0.61-1.06-0.61zM515.97 333.51l1.06-0.61 1.06 0.61v1.23l-1.06 0.61-1.06-0.61zM470.76 335.25l1.06-0.61 1.06 0.61v1.23l-1.06 0.61-1.06-0.61zM433.59 336.99l1.06-0.61 1.06 0.61v1.23l-1.06 0.61-1.06-0.61zM483.82 336.99l1.06-0.61 1.06 0.61v1.23l-1.06 0.61-1.06-0.61zM462.72 338.73l1.06-0.61 1.06 0.61v1.23l-1.06 0.61-1.06-0.61zM466.74 338.73l1.06-0.61 1.06 0.61v1.23l-1.06 0.61-1.06-0.61zM506.93 338.73l1.06-0.61 1.06 0.61v1.23l-1.06 0.61-1.06-0.61zM518.98 342.21l1.06-0.61 1.06 0.61v1.23l-1.06 0.61-1.06-0.61z" fill="#3b528b" stroke="#3b528b" stroke-width="0.25"/>
<path d="M477.79 302.19l1.06-0.61 1.06 0.61v1.23l-1.06 0.61-1.06-0.61zM474.78 303.93l1.06-0.61 1.06 0.61v1.23l-1.06 0.61-1.06-0.61zM476.79 303.93l1.06-0.61 1.06 0.61v1.23l-1.06 0.61-1.06-0.61zM480.81 303.93l1.06-0.61 1.06 0.61v1.23l-1.06 0.61-1.06-0.61zM475.78 305.67l1.06-0.61 1.06 0.61v1.23l-1.06 0.61-1.06-0.61zM470.76 307.41l1.06-0.61 1.06 0.61v1.23l-1.06 0.61-1.06-0.61zM465.74 309.15l1.06-0.61 1.06 0.61v1.23l-1.06 0.61-1.06-0.61zM483.82 309.15l1.06-0.61 1.06 0.61v1.23l-1.06 0.61-1.06-0.61zM454.69 310.89l1.06-0.61 1.06 0.61v1.23l-1.06 0.61-1.06-0.61zM480.81 310.89l1.06-0.61 1.06 0.61v1.23l-1.06 0.61-1.06-0.61zM484.82 310.89l1.06-0.61 1.06 0.61v1.23l-1.06 0.61-1.06-0.61zM447.65 312.63l1.06-0.61 1.06 0.61v1.23l-1.06 0.61-1.06-0.61zM485.83 312.63l1.06-0.61 1.06 0.61v1.23l-1.06 0.61-1.06-0.61zM468.75 314.37l1.06-0.61 1.06 0.61v1.23l-1.06 0.61-1.06-0.61zM488.84 314.37l1.06-0.61 1.06 0.61v1.23l-1.06 0.61-1.06-0.61zM463.73 316.11l1.06-0.61 1.06 0.61v1.23l-1.06 0.61-1.06-0.61zM465.74 316.11l1.06-0.61 1.06 0.61v1.23l-1.06 0.61-1.06-0.61zM464.73 317.85l1.06-0.61 1.06 0.61v1.23l-1.06 0.61-1.06-0.61zM488.84 317.85l1.06-0.61 1.06 0.61v1.23l-1.06 0.61-1.06-0.61zM496.88 317.85l1.06-0.61 1.06 0.61v1.23l-1.06 0.61-1.06-0.61zM461.72 319.59l1.06-0.61 1.06 0.61v1.23l-1.06 0.61-1.06-0.61zM467.75 319.59l1.06-0.61 1.06 0.61v1.23l-1.06 0.61-1.06-0.61zM469.76 319.59l1.06-0.61 1.06 0.61v1.23l-1.06 0.61-1.06-0.61zM471.76 319.59l1.06-0.61 1.06 0.61v1.23l-1.06 0.61-1.06-0.61zM462.72 321.33l1.06-0.61 1.06 0.61v1.23l-1.06 0.61-1.06-0.61zM468.75 321.33l1.06-0.61 1.06 0.61v1.23l-1.06 0.61-1.06-0.61zM469.76 323.07l1.06-0.61 1.06 0.61v1.23l-1.06 0.61-1.06-0.61zM485.83 323.07l1.06-0.61 1.06 0.61v1.23l-1.06 0.61-1.06-0.61zM464.73 324.81l1.06-0.61 1.06 0.61v1.23l-1.06 0.61-1.06-0.61zM486.83 324.81l1.06-0.61 1.06 0.61v1.23l-1.06 0.61-1.06-0.61zM453.68 326.55l1.06-0.61 1.06 0.61v1.23l-1.06 0.61-1.06-0.61zM459.71 326.55l1.06-0.61 1.06 0.61v1.23l-1.06 0.61-1.06-0.61zM471.76 326.55l1.06-0.61 1.06 0.61v1.23l-1.06 0.61-1.06-0.61zM434.59 328.29l1.06-0.61 1.06 0.61v1.23l-1.06 0.61-1.06-0.61zM460.71 328.29l1.06-0.61 1.06 0.61v1.23l-1.06 0.61-1.06-0.61zM472.77 328.29l1.06-0.61 1.06 0.61v1.23l-1.06 0.61-1.06-0.61zM478.80 328.29l1.06-0.61 1.06 0.61v1.23l-1.06 0.61-1.06-0.61zM488.84 328.29l1.06-0.61 1.06 0.61v1.23l-1.06 0.61-1.06-0.61zM461.72 330.03l1.06-0.61 1.06 0.61v1.23l-1.06 0.61-1.06-0.61zM479.80 330.03l1.06-0.61 1.06 0.61v1.23l-1.06 0.61-1.06-0.61zM455.69 336.99l1.06-0.61 1.06 0.61v1.23l-1.06 0.61-1.06-0.61zM482.82 338.73l1.06-0.61 1.06 0.61v1.23l-1.06 0.61-1.06-0.61z" fill="#34628c" stroke="#34628c" stroke-width="0.25"/>
<path d="M475.78 302.19l1.06-0.61 1.06 0.61v1.23l-1.06 0.61-1.06-0.61zM472.77 303.93l1.06-0.61 1.06 0.61v1.23l-1.06 0.61-1.06-0.61zM479.80 305.67l1.06-0.61 1.06 0.61v1.23l-1.06 0.61-1.06-0.61zM468.75 307.41l1.06-0.61 1.06 0.61v1.23l-1.06 0.61-1.06-0.61zM472.77 307.41l1.06-0.61 1.06 0.61v1.23l-1.06 0.61-1.06-0.61zM459.71 309.15l1.06-0.61 1.06 0.61v1.23l-1.06 0.61-1.06-0.61zM467.75 309.15l1.06-0.61 1.06 0.61v1.23l-1.06 0.61-1.06-0.61zM481.81 309.15l1.06-0.61 1.06 0.61v1.23l-1.06 0.61-1.06-0.61zM468.75 310.89l1.06-0.61 1.06 0.61v1.23l-1.06 0.61-1.06-0.61zM470.76 310.89l1.06-0.61 1.06 0.61v1.23l-1.06 0.61-1.06-0.61zM467.75 312.63l1.06-0.61 1.06 0.61v1.23l-1.06 0.61-1.06-0.61zM464.73 314.37l1.06-0.61 1.06 0.61v1.23l-1.06 0.61-1.06-0.61zM482.82 314.37l1.06-0.61 1.06 0.61v1.23l-1.06 0.61-1.06-0.61zM484.82 314.37l1.06-0.61 1.06 0.61v1.23l-1.06 0.61-1.06-0.61zM485.83 316.11l1.06-0.61 1.06 0.61v1.23l-1.06 0.61-1.06-0.61zM482.82 317.85l1.06-0.61 1.06 0.61v1.23l-1.06 0.61-1.06-0.61zM484.82 317.85l1.06-0.61 1.06 0.61v1.23l-1.06 0.61-1.06-0.61zM473.77 319.59l1.06-0.61 1.06 0.61v1.23l-1.06 0.61-1.06-0.61zM483.82 319.59l1.06-0.61 1.06 0.61v1.23l-1.06 0.61-1.06-0.61zM489.85 319.59l1.06-0.61 1.06 0.61v1.23l-1.06 0.61-1.06-0.61zM501.90 319.59l1.06-0.61 1.06 0.61v1.23l-1.06 0.61-1.06-0.61zM470.76 321.33l1.06-0.61 1.06 0.61v1.23l-1.06 0.61-1.06-0.61zM486.83 321.33l1.06-0.61 1.06 0.61v1.23l-1.06 0.61-1.06-0.61zM479.80 323.07l1.06-0.61 1.06 0.61v1.23l-1.06 0.61-1.06-0.61zM474.78 324.81l1.06-0.61 1.06 0.61v1.23l-1.06 0.61-1.06-0.61zM451.67 326.55l1.06-0.61 1.06 0.61v1.23l-1.06 0.61-1.06-0.61zM473.77 330.03l1.06-0.61 1.06 0.61v1.23l-1.06 0.61-1.06-0.61zM466.74 331.77l1.06-0.61 1.06 0.61v1.23l-1.06 0.61-1.06-0.61z" fill="#2c728e" stroke="#2c728e" stroke-width="0.25"/>
<path d="M469.76 305.67l1.06-0.61 1.06 0.61v1.23l-1.06 0.61-1.06-0.61zM481.81 305.67l1.06-0.61 1.06 0.61v1.23l-1.06 0.61-1.06-0.61zM485.83 305.67l1.06-0.61 1.06 0.61v1.23l-1.06 0.61-1.06-0.61zM474.78 307.41l1.06-0.61 1.06 0.61v1.23l-1.06 0.61-1.06-0.61zM476.79 307.41l1.06-0.61 1.06 0.61v1.23l-1.06 0.61-1.06-0.61zM478.80 307.41l1.06-0.61 1.06 0.61v1.23l-1.06 0.61-1.06-0.61zM484.82 307.41l1.06-0.61 1.06 0.61v1.23l-1.06 0.61-1.06-0.61zM469.76 309.15l1.06-0.61 1.06 0.61v1.23l-1.06 0.61-1.06-0.61zM482.82 310.89l1.06-0.61 1.06 0.61v1.23l-1.06 0.61-1.06-0.61zM475.78 312.63l1.06-0.61 1.06 0.61v1.23l-1.06 0.61-1.06-0.61zM479.80 312.63l1.06-0.61 1.06 0.61v1.23l-1.06 0.61-1.06-0.61zM470.76 314.37l1.06-0.61 1.06 0.61v1.23l-1.06 0.61-1.06-0.61zM480.81 314.37l1.06-0.61 1.06 0.61v1.23l-1.06 0.61-1.06-0.61zM467.75 316.11l1.06-0.61 1.06 0.61v1.23l-1.06 0.61-1.06-0.61zM471.76 316.11l1.06-0.61 1.06 0.61v1.23l-1.06 0.61-1.06-0.61zM475.78 316.11l1.06-0.61 1.06 0.61v1.23l-1.06 0.61-1.06-0.61zM481.81 316.11l1.06-0.61 1.06 0.61v1.23l-1.06 0.61-1.06-0.61zM483.82 316.11l1.06-0.61 1.06 0.61v1.23l-1.06 0.61-1.06-0.61zM470.76 317.85l1.06-0.61 1.06 0.61v1.23l-1.06 0.61-1.06-0.61zM472.77 317.85l1.06-0.61 1.06 0.61v1.23l-1.06 0.61-1.06-0.61zM476.79 321.33l1.06-0.61 1.06 0.61v1.23l-1.06 0.61-1.06-0.61zM484.82 321.33l1.06-0.61 1.06 0.61v1.23l-1.06 0.61-1.06-0.61zM477.79 323.07l1.06-0.61 1.06 0.61v1.23l-1.06 0.61-1.06-0.61z" fill="#26828d" stroke="#26828d" stroke-width="0.25"/>
<path d="M473.77 309.15l1.06-0.61 1.06 0.61v1.23l-1.06 0.61-1.06-0.61zM469.76 312.63l1.06-0.61 1.06 0.61v1.23l-1.06 0.61-1.06-0.61zM471.76 312.63l1.06-0.61 1.06 0.61v1.23l-1.06 0.61-1.06-0.61zM473.77 312.63l1.06-0.61 1.06 0.61v1.23l-1.06 0.61-1.06-0.61zM481.81 312.63l1.06-0.61 1.06 0.61v1.23l-1.06 0.61-1.06-0.61zM478.80 314.37l1.06-0.61 1.06 0.61v1.23l-1.06 0.61-1.06-0.61zM469.76 316.11l1.06-0.61 1.06 0.61v1.23l-1.06 0.61-1.06-0.61zM473.77 316.11l1.06-0.61 1.06 0.61v1.23l-1.06 0.61-1.06-0.61zM468.75 317.85l1.06-0.61 1.06 0.61v1.23l-1.06 0.61-1.06-0.61zM478.80 317.85l1.06-0.61 1.06 0.61v1.23l-1.06 0.61-1.06-0.61zM477.79 319.59l1.06-0.61 1.06 0.61v1.23l-1.06 0.61-1.06-0.61zM481.81 319.59l1.06-0.61 1.06 0.61v1.23l-1.06 0.61-1.06-0.61z" fill="#21918c" stroke="#21918c" stroke-width="0.25"/>
<path d="M478.80 303.93l1.06-0.61 1.06 0.61v1.23l-1.06 0.61-1.06-0.61zM471.76 309.15l1.06-0.61 1.06 0.61v1.23l-1.06 0.61-1.06-0.61zM475.78 309.15l1.06-0.61 1.06 0.61v1.23l-1.06 0.61-1.06-0.61zM477.79 309.15l1.06-0.61 1.06 0.61v1.23l-1.06 0.61-1.06-0.61zM472.77 310.89l1.06-0.61 1.06 0.61v1.23l-1.06 0.61-1.06-0.61zM477.79 312.63l1.06-0.61 1.06 0.61v1.23l-1.06 0.61-1.06-0.61zM472.77 314.37l1.06-0.61 1.06 0.61v1.23l-1.06 0.61-1.06-0.61zM477.79 316.11l1.06-0.61 1.06 0.61v1.23l-1.06 0.61-1.06-0.61zM479.80 316.11l1.06-0.61 1.06 0.61v1.23l-1.06 0.61-1.06-0.61zM474.78 317.85l1.06-0.61 1.06 0.61v1.23l-1.06 0.61-1.06-0.61zM480.81 317.85l1.06-0.61 1.06 0.61v1.23l-1.06 0.61-1.06-0.61z" fill="#249f86" stroke="#249f86" stroke-width="0.25"/>
<path d="M474.78 310.89l1.06-0.61 1.06 0.61v1.23l-1.06 0.61-1.06-0.61zM476.79 310.89l1.06-0.61 1.06 0.61v1.23l-1.06 0.61-1.06-0.61zM478.80 310.89l1.06-0.61 1.06 0.61v1.23l-1.06 0.61-1.06-0.61zM474.78 314.37l1.06-0.61 1.06 0.61v1.23l-1.06 0.61-1.06-0.61zM476.79 314.37l1.06-0.61 1.06 0.61v1.23l-1.06 0.61-1.06-0.61zM476.79 317.85l1.06-0.61 1.06 0.61v1.23l-1.06 0.61-1.06-0.61z" fill="#27ad81" stroke="#27ad81" stroke-width="0.25"/>
<polygon points="476.3,249.4 422.6,344.0 530.9,344.0" fill="none" stroke="#222" stroke-width="0.55"/>
<text transform="translate(475.70 237.40) scale(1 1.18)" font-size="7.6" text-anchor="middle" fill="#231f20" font-weight="normal" >Chr. 6 GS7</text>
<text transform="translate(476.50 247.90) scale(1 1.18)" font-size="7.6" text-anchor="middle" fill="#231f20" font-weight="normal" >A</text>
<text transform="translate(415.60 349.00) scale(1 1.18)" font-size="7.6" text-anchor="middle" fill="#231f20" font-weight="normal" >C</text>
<text transform="translate(535.70 349.80) scale(1 1.18)" font-size="7.6" text-anchor="middle" fill="#231f20" font-weight="normal" >D</text>
<path d="M603.28 254.57l1.06-0.61 1.06 0.61v1.23l-1.06 0.61-1.06-0.61zM602.28 256.31l1.06-0.61 1.06 0.61v1.23l-1.06 0.61-1.06-0.61zM599.26 258.05l1.06-0.61 1.06 0.61v1.23l-1.06 0.61-1.06-0.61zM605.29 258.05l1.06-0.61 1.06 0.61v1.23l-1.06 0.61-1.06-0.61zM606.30 259.79l1.06-0.61 1.06 0.61v1.23l-1.06 0.61-1.06-0.61zM599.26 261.53l1.06-0.61 1.06 0.61v1.23l-1.06 0.61-1.06-0.61zM607.30 261.53l1.06-0.61 1.06 0.61v1.23l-1.06 0.61-1.06-0.61zM598.26 263.27l1.06-0.61 1.06 0.61v1.23l-1.06 0.61-1.06-0.61zM604.29 263.27l1.06-0.61 1.06 0.61v1.23l-1.06 0.61-1.06-0.61zM595.25 265.01l1.06-0.61 1.06 0.61v1.23l-1.06 0.61-1.06-0.61zM599.26 265.01l1.06-0.61 1.06 0.61v1.23l-1.06 0.61-1.06-0.61zM603.28 265.01l1.06-0.61 1.06 0.61v1.23l-1.06 0.61-1.06-0.61zM607.30 265.01l1.06-0.61 1.06 0.61v1.23l-1.06 0.61-1.06-0.61zM609.31 265.01l1.06-0.61 1.06 0.61v1.23l-1.06 0.61-1.06-0.61zM596.25 266.75l1.06-0.61 1.06 0.61v1.23l-1.06 0.61-1.06-0.61zM598.26 266.75l1.06-0.61 1.06 0.61v1.23l-1.06 0.61-1.06-0.61zM608.31 266.75l1.06-0.61 1.06 0.61v1.23l-1.06 0.61-1.06-0.61zM610.32 266.75l1.06-0.61 1.06 0.61v1.23l-1.06 0.61-1.06-0.61zM593.24 268.49l1.06-0.61 1.06 0.61v1.23l-1.06 0.61-1.06-0.61zM595.25 268.49l1.06-0.61 1.06 0.61v1.23l-1.06 0.61-1.06-0.61zM603.28 268.49l1.06-0.61 1.06 0.61v1.23l-1.06 0.61-1.06-0.61zM592.23 270.23l1.06-0.61 1.06 0.61v1.23l-1.06 0.61-1.06-0.61zM594.24 270.23l1.06-0.61 1.06 0.61v1.23l-1.06 0.61-1.06-0.61zM596.25 270.23l1.06-0.61 1.06 0.61v1.23l-1.06 0.61-1.06-0.61zM598.26 270.23l1.06-0.61 1.06 0.61v1.23l-1.06 0.61-1.06-0.61zM600.27 270.23l1.06-0.61 1.06 0.61v1.23l-1.06 0.61-1.06-0.61zM606.30 270.23l1.06-0.61 1.06 0.61v1.23l-1.06 0.61-1.06-0.61zM612.32 270.23l1.06-0.61 1.06 0.61v1.23l-1.06 0.61-1.06-0.61zM591.23 271.97l1.06-0.61 1.06 0.61v1.23l-1.06 0.61-1.06-0.61zM597.26 271.97l1.06-0.61 1.06 0.61v1.23l-1.06 0.61-1.06-0.61zM603.28 271.97l1.06-0.61 1.06 0.61v1.23l-1.06 0.61-1.06-0.61zM609.31 271.97l1.06-0.61 1.06 0.61v1.23l-1.06 0.61-1.06-0.61zM592.23 273.71l1.06-0.61 1.06 0.61v1.23l-1.06 0.61-1.06-0.61zM600.27 273.71l1.06-0.61 1.06 0.61v1.23l-1.06 0.61-1.06-0.61zM604.29 273.71l1.06-0.61 1.06 0.61v1.23l-1.06 0.61-1.06-0.61zM606.30 273.71l1.06-0.61 1.06 0.61v1.23l-1.06 0.61-1.06-0.61zM614.33 273.71l1.06-0.61 1.06 0.61v1.23l-1.06 0.61-1.06-0.61zM616.34 273.71l1.06-0.61 1.06 0.61v1.23l-1.06 0.61-1.06-0.61zM593.24 275.45l1.06-0.61 1.06 0.61v1.23l-1.06 0.61-1.06-0.61zM597.26 275.45l1.06-0.61 1.06 0.61v1.23l-1.06 0.61-1.06-0.61zM601.27 275.45l1.06-0.61 1.06 0.61v1.23l-1.06 0.61-1.06-0.61zM603.28 275.45l1.06-0.61 1.06 0.61v1.23l-1.06 0.61-1.06-0.61zM607.30 275.45l1.06-0.61 1.06 0.61v1.23l-1.06 0.61-1.06-0.61zM590.22 277.19l1.06-0.61 1.06 0.61v1.23l-1.06 0.61-1.06-0.61zM594.24 277.19l1.06-0.61 1.06 0.61v1.23l-1.06 0.61-1.06-0.61zM602.28 277.19l1.06-0.61 1.06 0.61v1.23l-1.06 0.61-1.06-0.61zM608.31 277.19l1.06-0.61 1.06 0.61v1.23l-1.06 0.61-1.06-0.61zM589.22 278.93l1.06-0.61 1.06 0.61v1.23l-1.06 0.61-1.06-0.61zM595.25 278.93l1.06-0.61 1.06 0.61v1.23l-1.06 0.61-1.06-0.61zM599.26 278.93l1.06-0.61 1.06 0.61v1.23l-1.06 0.61-1.06-0.61zM607.30 278.93l1.06-0.61 1.06 0.61v1.23l-1.06 0.61-1.06-0.61zM611.32 278.93l1.06-0.61 1.06 0.61v1.23l-1.06 0.61-1.06-0.61zM615.34 278.93l1.06-0.61 1.06 0.61v1.23l-1.06 0.61-1.06-0.61zM598.26 280.67l1.06-0.61 1.06 0.61v1.23l-1.06 0.61-1.06-0.61zM600.27 280.67l1.06-0.61 1.06 0.61v1.23l-1.06 0.61-1.06-0.61zM602.28 280.67l1.06-0.61 1.06 0.61v1.23l-1.06 0.61-1.06-0.61zM608.31 280.67l1.06-0.61 1.06 0.61v1.23l-1.06 0.61-1.06-0.61zM612.32 280.67l1.06-0.61 1.06 0.61v1.23l-1.06 0.61-1.06-0.61zM618.35 280.67l1.06-0.61 1.06 0.61v1.23l-1.06 0.61-1.06-0.61zM595.25 282.41l1.06-0.61 1.06 0.61v1.23l-1.06 0.61-1.06-0.61zM597.26 282.41l1.06-0.61 1.06 0.61v1.23l-1.06 0.61-1.06-0.61zM599.26 282.41l1.06-0.61 1.06 0.61v1.23l-1.06 0.61-1.06-0.61zM605.29 282.41l1.06-0.61 1.06 0.61v1.23l-1.06 0.61-1.06-0.61zM613.33 282.41l1.06-0.61 1.06 0.61v1.23l-1.06 0.61-1.06-0.61zM615.34 282.41l1.06-0.61 1.06 0.61v1.23l-1.06 0.61-1.06-0.61zM621.37 282.41l1.06-0.61 1.06 0.61v1.23l-1.06 0.61-1.06-0.61zM600.27 284.15l1.06-0.61 1.06 0.61v1.23l-1.06 0.61-1.06-0.61zM612.32 284.15l1.06-0.61 1.06 0.61v1.23l-1.06 0.61-1.06-0.61zM614.33 284.15l1.06-0.61 1.06 0.61v1.23l-1.06 0.61-1.06-0.61zM618.35 284.15l1.06-0.61 1.06 0.61v1.23l-1.06 0.61-1.06-0.61zM620.36 284.15l1.06-0.61 1.06 0.61v1.23l-1.06 0.61-1.06-0.61zM587.21 285.89l1.06-0.61 1.06 0.61v1.23l-1.06 0.61-1.06-0.61zM595.25 285.89l1.06-0.61 1.06 0.61v1.23l-1.06 0.61-1.06-0.61zM601.27 285.89l1.06-0.61 1.06 0.61v1.23l-1.06 0.61-1.06-0.61zM603.28 285.89l1.06-0.61 1.06 0.61v1.23l-1.06 0.61-1.06-0.61zM609.31 285.89l1.06-0.61 1.06 0.61v1.23l-1.06 0.61-1.06-0.61zM615.34 285.89l1.06-0.61 1.06 0.61v1.23l-1.06 0.61-1.06-0.61zM582.19 287.63l1.06-0.61 1.06 0.61v1.23l-1.06 0.61-1.06-0.61zM594.24 287.63l1.06-0.61 1.06 0.61v1.23l-1.06 0.61-1.06-0.61zM598.26 287.63l1.06-0.61 1.06 0.61v1.23l-1.06 0.61-1.06-0.61zM613.33 289.37l1.06-0.61 1.06 0.61v1.23l-1.06 0.61-1.06-0.61zM615.34 289.37l1.06-0.61 1.06 0.61v1.23l-1.06 0.61-1.06-0.61zM617.35 289.37l1.06-0.61 1.06 0.61v1.23l-1.06 0.61-1.06-0.61zM619.36 289.37l1.06-0.61 1.06 0.61v1.23l-1.06 0.61-1.06-0.61zM621.37 289.37l1.06-0.61 1.06 0.61v1.23l-1.06 0.61-1.06-0.61zM596.25 291.11l1.06-0.61 1.06 0.61v1.23l-1.06 0.61-1.06-0.61zM604.29 291.11l1.06-0.61 1.06 0.61v1.23l-1.06 0.61-1.06-0.61zM606.30 291.11l1.06-0.61 1.06 0.61v1.23l-1.06 0.61-1.06-0.61zM620.36 291.11l1.06-0.61 1.06 0.61v1.23l-1.06 0.61-1.06-0.61zM622.37 291.11l1.06-0.61 1.06 0.61v1.23l-1.06 0.61-1.06-0.61zM626.39 291.11l1.06-0.61 1.06 0.61v1.23l-1.06 0.61-1.06-0.61zM591.23 292.85l1.06-0.61 1.06 0.61v1.23l-1.06 0.61-1.06-0.61zM593.24 292.85l1.06-0.61 1.06 0.61v1.23l-1.06 0.61-1.06-0.61zM597.26 292.85l1.06-0.61 1.06 0.61v1.23l-1.06 0.61-1.06-0.61zM603.28 292.85l1.06-0.61 1.06 0.61v1.23l-1.06 0.61-1.06-0.61zM607.30 292.85l1.06-0.61 1.06 0.61v1.23l-1.06 0.61-1.06-0.61zM609.31 292.85l1.06-0.61 1.06 0.61v1.23l-1.06 0.61-1.06-0.61zM611.32 292.85l1.06-0.61 1.06 0.61v1.23l-1.06 0.61-1.06-0.61zM615.34 292.85l1.06-0.61 1.06 0.61v1.23l-1.06 0.61-1.06-0.61zM619.36 292.85l1.06-0.61 1.06 0.61v1.23l-1.06 0.61-1.06-0.61zM621.37 292.85l1.06-0.61 1.06 0.61v1.23l-1.06 0.61-1.06-0.61zM623.37 292.85l1.06-0.61 1.06 0.61v1.23l-1.06 0.61-1.06-0.61zM627.39 292.85l1.06-0.61 1.06 0.61v1.23l-1.06 0.61-1.06-0.61zM590.22 294.59l1.06-0.61 1.06 0.61v1.23l-1.06 0.61-1.06-0.61zM596.25 294.59l1.06-0.61 1.06 0.61v1.23l-1.06 0.61-1.06-0.61zM600.27 294.59l1.06-0.61 1.06 0.61v1.23l-1.06 0.61-1.06-0.61zM602.28 294.59l1.06-0.61 1.06 0.61v1.23l-1.06 0.61-1.06-0.61zM604.29 294.59l1.06-0.61 1.06 0.61v1.23l-1.06 0.61-1.06-0.61zM612.32 294.59l1.06-0.61 1.06 0.61v1.23l-1.06 0.61-1.06-0.61zM595.25 296.33l1.06-0.61 1.06 0.61v1.23l-1.06 0.61-1.06-0.61zM601.27 296.33l1.06-0.61 1.06 0.61v1.23l-1.06 0.61-1.06-0.61zM607.30 296.33l1.06-0.61 1.06 0.61v1.23l-1.06 0.61-1.06-0.61zM609.31 296.33l1.06-0.61 1.06 0.61v1.23l-1.06 0.61-1.06-0.61zM611.32 296.33l1.06-0.61 1.06 0.61v1.23l-1.06 0.61-1.06-0.61zM613.33 296.33l1.06-0.61 1.06 0.61v1.23l-1.06 0.61-1.06-0.61zM592.23 298.07l1.06-0.61 1.06 0.61v1.23l-1.06 0.61-1.06-0.61zM594.24 298.07l1.06-0.61 1.06 0.61v1.23l-1.06 0.61-1.06-0.61zM596.25 298.07l1.06-0.61 1.06 0.61v1.23l-1.06 0.61-1.06-0.61zM600.27 298.07l1.06-0.61 1.06 0.61v1.23l-1.06 0.61-1.06-0.61zM614.33 298.07l1.06-0.61 1.06 0.61v1.23l-1.06 0.61-1.06-0.61zM616.34 298.07l1.06-0.61 1.06 0.61v1.23l-1.06 0.61-1.06-0.61zM618.35 298.07l1.06-0.61 1.06 0.61v1.23l-1.06 0.61-1.06-0.61zM630.41 298.07l1.06-0.61 1.06 0.61v1.23l-1.06 0.61-1.06-0.61zM583.19 299.81l1.06-0.61 1.06 0.61v1.23l-1.06 0.61-1.06-0.61zM589.22 299.81l1.06-0.61 1.06 0.61v1.23l-1.06 0.61-1.06-0.61zM599.26 299.81l1.06-0.61 1.06 0.61v1.23l-1.06 0.61-1.06-0.61zM603.28 299.81l1.06-0.61 1.06 0.61v1.23l-1.06 0.61-1.06-0.61zM605.29 299.81l1.06-0.61 1.06 0.61v1.23l-1.06 0.61-1.06-0.61zM611.32 299.81l1.06-0.61 1.06 0.61v1.23l-1.06 0.61-1.06-0.61zM621.37 299.81l1.06-0.61 1.06 0.61v1.23l-1.06 0.61-1.06-0.61zM590.22 301.55l1.06-0.61 1.06 0.61v1.23l-1.06 0.61-1.06-0.61zM592.23 301.55l1.06-0.61 1.06 0.61v1.23l-1.06 0.61-1.06-0.61zM600.27 301.55l1.06-0.61 1.06 0.61v1.23l-1.06 0.61-1.06-0.61zM602.28 301.55l1.06-0.61 1.06 0.61v1.23l-1.06 0.61-1.06-0.61zM606.30 301.55l1.06-0.61 1.06 0.61v1.23l-1.06 0.61-1.06-0.61zM632.42 301.55l1.06-0.61 1.06 0.61v1.23l-1.06 0.61-1.06-0.61zM593.24 303.29l1.06-0.61 1.06 0.61v1.23l-1.06 0.61-1.06-0.61zM599.26 303.29l1.06-0.61 1.06 0.61v1.23l-1.06 0.61-1.06-0.61zM603.28 303.29l1.06-0.61 1.06 0.61v1.23l-1.06 0.61-1.06-0.61zM609.31 303.29l1.06-0.61 1.06 0.61v1.23l-1.06 0.61-1.06-0.61zM611.32 303.29l1.06-0.61 1.06 0.61v1.23l-1.06 0.61-1.06-0.61zM619.36 303.29l1.06-0.61 1.06 0.61v1.23l-1.06 0.61-1.06-0.61zM623.37 303.29l1.06-0.61 1.06 0.61v1.23l-1.06 0.61-1.06-0.61zM629.40 303.29l1.06-0.61 1.06 0.61v1.23l-1.06 0.61-1.06-0.61zM633.42 303.29l1.06-0.61 1.06 0.61v1.23l-1.06 0.61-1.06-0.61zM590.22 305.03l1.06-0.61 1.06 0.61v1.23l-1.06 0.61-1.06-0.61zM592.23 305.03l1.06-0.61 1.06 0.61v1.23l-1.06 0.61-1.06-0.61zM594.24 305.03l1.06-0.61 1.06 0.61v1.23l-1.06 0.61-1.06-0.61zM598.26 305.03l1.06-0.61 1.06 0.61v1.23l-1.06 0.61-1.06-0.61zM606.30 305.03l1.06-0.61 1.06 0.61v1.23l-1.06 0.61-1.06-0.61zM610.32 305.03l1.06-0.61 1.06 0.61v1.23l-1.06 0.61-1.06-0.61zM616.34 305.03l1.06-0.61 1.06 0.61v1.23l-1.06 0.61-1.06-0.61zM622.37 305.03l1.06-0.61 1.06 0.61v1.23l-1.06 0.61-1.06-0.61zM624.38 305.03l1.06-0.61 1.06 0.61v1.23l-1.06 0.61-1.06-0.61zM630.41 305.03l1.06-0.61 1.06 0.61v1.23l-1.06 0.61-1.06-0.61zM632.42 305.03l1.06-0.61 1.06 0.61v1.23l-1.06 0.61-1.06-0.61zM581.18 306.77l1.06-0.61 1.06 0.61v1.23l-1.06 0.61-1.06-0.61zM583.19 306.77l1.06-0.61 1.06 0.61v1.23l-1.06 0.61-1.06-0.61zM585.20 306.77l1.06-0.61 1.06 0.61v1.23l-1.06 0.61-1.06-0.61zM589.22 306.77l1.06-0.61 1.06 0.61v1.23l-1.06 0.61-1.06-0.61zM593.24 306.77l1.06-0.61 1.06 0.61v1.23l-1.06 0.61-1.06-0.61zM595.25 306.77l1.06-0.61 1.06 0.61v1.23l-1.06 0.61-1.06-0.61zM605.29 306.77l1.06-0.61 1.06 0.61v1.23l-1.06 0.61-1.06-0.61zM607.30 306.77l1.06-0.61 1.06 0.61v1.23l-1.06 0.61-1.06-0.61zM611.32 306.77l1.06-0.61 1.06 0.61v1.23l-1.06 0.61-1.06-0.61zM617.35 306.77l1.06-0.61 1.06 0.61v1.23l-1.06 0.61-1.06-0.61zM625.38 306.77l1.06-0.61 1.06 0.61v1.23l-1.06 0.61-1.06-0.61zM627.39 306.77l1.06-0.61 1.06 0.61v1.23l-1.06 0.61-1.06-0.61zM633.42 306.77l1.06-0.61 1.06 0.61v1.23l-1.06 0.61-1.06-0.61zM580.18 308.51l1.06-0.61 1.06 0.61v1.23l-1.06 0.61-1.06-0.61zM588.21 308.51l1.06-0.61 1.06 0.61v1.23l-1.06 0.61-1.06-0.61zM590.22 308.51l1.06-0.61 1.06 0.61v1.23l-1.06 0.61-1.06-0.61zM592.23 308.51l1.06-0.61 1.06 0.61v1.23l-1.06 0.61-1.06-0.61zM594.24 308.51l1.06-0.61 1.06 0.61v1.23l-1.06 0.61-1.06-0.61zM596.25 308.51l1.06-0.61 1.06 0.61v1.23l-1.06 0.61-1.06-0.61zM598.26 308.51l1.06-0.61 1.06 0.61v1.23l-1.06 0.61-1.06-0.61zM604.29 308.51l1.06-0.61 1.06 0.61v1.23l-1.06 0.61-1.06-0.61zM608.31 308.51l1.06-0.61 1.06 0.61v1.23l-1.06 0.61-1.06-0.61zM620.36 308.51l1.06-0.61 1.06 0.61v1.23l-1.06 0.61-1.06-0.61zM636.43 308.51l1.06-0.61 1.06 0.61v1.23l-1.06 0.61-1.06-0.61zM589.22 310.25l1.06-0.61 1.06 0.61v1.23l-1.06 0.61-1.06-0.61zM593.24 310.25l1.06-0.61 1.06 0.61v1.23l-1.06 0.61-1.06-0.61zM601.27 310.25l1.06-0.61 1.06 0.61v1.23l-1.06 0.61-1.06-0.61zM605.29 310.25l1.06-0.61 1.06 0.61v1.23l-1.06 0.61-1.06-0.61zM617.35 310.25l1.06-0.61 1.06 0.61v1.23l-1.06 0.61-1.06-0.61zM621.37 310.25l1.06-0.61 1.06 0.61v1.23l-1.06 0.61-1.06-0.61zM623.37 310.25l1.06-0.61 1.06 0.61v1.23l-1.06 0.61-1.06-0.61zM627.39 310.25l1.06-0.61 1.06 0.61v1.23l-1.06 0.61-1.06-0.61zM631.41 310.25l1.06-0.61 1.06 0.61v1.23l-1.06 0.61-1.06-0.61zM633.42 310.25l1.06-0.61 1.06 0.61v1.23l-1.06 0.61-1.06-0.61zM582.19 311.99l1.06-0.61 1.06 0.61v1.23l-1.06 0.61-1.06-0.61zM586.20 311.99l1.06-0.61 1.06 0.61v1.23l-1.06 0.61-1.06-0.61zM588.21 311.99l1.06-0.61 1.06 0.61v1.23l-1.06 0.61-1.06-0.61zM590.22 311.99l1.06-0.61 1.06 0.61v1.23l-1.06 0.61-1.06-0.61zM598.26 311.99l1.06-0.61 1.06 0.61v1.23l-1.06 0.61-1.06-0.61zM624.38 311.99l1.06-0.61 1.06 0.61v1.23l-1.06 0.61-1.06-0.61zM628.40 311.99l1.06-0.61 1.06 0.61v1.23l-1.06 0.61-1.06-0.61zM585.20 313.73l1.06-0.61 1.06 0.61v1.23l-1.06 0.61-1.06-0.61zM589.22 313.73l1.06-0.61 1.06 0.61v1.23l-1.06 0.61-1.06-0.61zM591.23 313.73l1.06-0.61 1.06 0.61v1.23l-1.06 0.61-1.06-0.61zM593.24 313.73l1.06-0.61 1.06 0.61v1.23l-1.06 0.61-1.06-0.61zM595.25 313.73l1.06-0.61 1.06 0.61v1.23l-1.06 0.61-1.06-0.61zM613.33 313.73l1.06-0.61 1.06 0.61v1.23l-1.06 0.61-1.06-0.61zM623.37 313.73l1.06-0.61 1.06 0.61v1.23l-1.06 0.61-1.06-0.61zM625.38 313.73l1.06-0.61 1.06 0.61v1.23l-1.06 0.61-1.06-0.61zM629.40 313.73l1.06-0.61 1.06 0.61v1.23l-1.06 0.61-1.06-0.61zM639.45 313.73l1.06-0.61 1.06 0.61v1.23l-1.06 0.61-1.06-0.61zM578.17 315.47l1.06-0.61 1.06 0.61v1.23l-1.06 0.61-1.06-0.61zM582.19 315.47l1.06-0.61 1.06 0.61v1.23l-1.06 0.61-1.06-0.61zM588.21 315.47l1.06-0.61 1.06 0.61v1.23l-1.06 0.61-1.06-0.61zM594.24 315.47l1.06-0.61 1.06 0.61v1.23l-1.06 0.61-1.06-0.61zM596.25 315.47l1.06-0.61 1.06 0.61v1.23l-1.06 0.61-1.06-0.61zM604.29 315.47l1.06-0.61 1.06 0.61v1.23l-1.06 0.61-1.06-0.61zM608.31 315.47l1.06-0.61 1.06 0.61v1.23l-1.06 0.61-1.06-0.61zM618.35 315.47l1.06-0.61 1.06 0.61v1.23l-1.06 0.61-1.06-0.61zM620.36 315.47l1.06-0.61 1.06 0.61v1.23l-1.06 0.61-1.06-0.61zM622.37 315.47l1.06-0.61 1.06 0.61v1.23l-1.06 0.61-1.06-0.61zM630.41 315.47l1.06-0.61 1.06 0.61v1.23l-1.06 0.61-1.06-0.61zM577.16 317.21l1.06-0.61 1.06 0.61v1.23l-1.06 0.61-1.06-0.61zM591.23 317.21l1.06-0.61 1.06 0.61v1.23l-1.06 0.61-1.06-0.61zM595.25 317.21l1.06-0.61 1.06 0.61v1.23l-1.06 0.61-1.06-0.61zM597.26 317.21l1.06-0.61 1.06 0.61v1.23l-1.06 0.61-1.06-0.61zM601.27 317.21l1.06-0.61 1.06 0.61v1.23l-1.06 0.61-1.06-0.61zM603.28 317.21l1.06-0.61 1.06 0.61v1.23l-1.06 0.61-1.06-0.61zM619.36 317.21l1.06-0.61 1.06 0.61v1.23l-1.06 0.61-1.06-0.61zM627.39 317.21l1.06-0.61 1.06 0.61v1.23l-1.06 0.61-1.06-0.61zM580.18 318.95l1.06-0.61 1.06 0.61v1.23l-1.06 0.61-1.06-0.61zM582.19 318.95l1.06-0.61 1.06 0.61v1.23l-1.06 0.61-1.06-0.61zM602.28 318.95l1.06-0.61 1.06 0.61v1.23l-1.06 0.61-1.06-0.61zM622.37 318.95l1.06-0.61 1.06 0.61v1.23l-1.06 0.61-1.06-0.61zM642.46 318.95l1.06-0.61 1.06 0.61v1.23l-1.06 0.61-1.06-0.61zM573.15 320.69l1.06-0.61 1.06 0.61v1.23l-1.06 0.61-1.06-0.61zM575.15 320.69l1.06-0.61 1.06 0.61v1.23l-1.06 0.61-1.06-0.61zM579.17 320.69l1.06-0.61 1.06 0.61v1.23l-1.06 0.61-1.06-0.61zM595.25 320.69l1.06-0.61 1.06 0.61v1.23l-1.06 0.61-1.06-0.61zM599.26 320.69l1.06-0.61 1.06 0.61v1.23l-1.06 0.61-1.06-0.61zM609.31 320.69l1.06-0.61 1.06 0.61v1.23l-1.06 0.61-1.06-0.61zM613.33 320.69l1.06-0.61 1.06 0.61v1.23l-1.06 0.61-1.06-0.61zM637.44 320.69l1.06-0.61 1.06 0.61v1.23l-1.06 0.61-1.06-0.61zM639.45 320.69l1.06-0.61 1.06 0.61v1.23l-1.06 0.61-1.06-0.61zM562.09 322.43l1.06-0.61 1.06 0.61v1.23l-1.06 0.61-1.06-0.61zM564.10 322.43l1.06-0.61 1.06 0.61v1.23l-1.06 0.61-1.06-0.61zM568.12 322.43l1.06-0.61 1.06 0.61v1.23l-1.06 0.61-1.06-0.61zM570.13 322.43l1.06-0.61 1.06 0.61v1.23l-1.06 0.61-1.06-0.61zM572.14 322.43l1.06-0.61 1.06 0.61v1.23l-1.06 0.61-1.06-0.61zM574.15 322.43l1.06-0.61 1.06 0.61v1.23l-1.06 0.61-1.06-0.61zM576.16 322.43l1.06-0.61 1.06 0.61v1.23l-1.06 0.61-1.06-0.61zM580.18 322.43l1.06-0.61 1.06 0.61v1.23l-1.06 0.61-1.06-0.61zM584.20 322.43l1.06-0.61 1.06 0.61v1.23l-1.06 0.61-1.06-0.61zM590.22 322.43l1.06-0.61 1.06 0.61v1.23l-1.06 0.61-1.06-0.61zM606.30 322.43l1.06-0.61 1.06 0.61v1.23l-1.06 0.61-1.06-0.61zM608.31 322.43l1.06-0.61 1.06 0.61v1.23l-1.06 0.61-1.06-0.61zM610.32 322.43l1.06-0.61 1.06 0.61v1.23l-1.06 0.61-1.06-0.61zM618.35 322.43l1.06-0.61 1.06 0.61v1.23l-1.06 0.61-1.06-0.61zM626.39 322.43l1.06-0.61 1.06 0.61v1.23l-1.06 0.61-1.06-0.61zM630.41 322.43l1.06-0.61 1.06 0.61v1.23l-1.06 0.61-1.06-0.61zM642.46 322.43l1.06-0.61 1.06 0.61v1.23l-1.06 0.61-1.06-0.61zM561.09 324.17l1.06-0.61 1.06 0.61v1.23l-1.06 0.61-1.06-0.61zM567.12 324.17l1.06-0.61 1.06 0.61v1.23l-1.06 0.61-1.06-0.61zM569.13 324.17l1.06-0.61 1.06 0.61v1.23l-1.06 0.61-1.06-0.61zM571.14 324.17l1.06-0.61 1.06 0.61v1.23l-1.06 0.61-1.06-0.61zM575.15 324.17l1.06-0.61 1.06 0.61v1.23l-1.06 0.61-1.06-0.61zM579.17 324.17l1.06-0.61 1.06 0.61v1.23l-1.06 0.61-1.06-0.61zM581.18 324.17l1.06-0.61 1.06 0.61v1.23l-1.06 0.61-1.06-0.61zM585.20 324.17l1.06-0.61 1.06 0.61v1.23l-1.06 0.61-1.06-0.61zM587.21 324.17l1.06-0.61 1.06 0.61v1.23l-1.06 0.61-1.06-0.61zM589.22 324.17l1.06-0.61 1.06 0.61v1.23l-1.06 0.61-1.06-0.61zM593.24 324.17l1.06-0.61 1.06 0.61v1.23l-1.06 0.61-1.06-0.61zM603.28 324.17l1.06-0.61 1.06 0.61v1.23l-1.06 0.61-1.06-0.61zM605.29 324.17l1.06-0.61 1.06 0.61v1.23l-1.06 0.61-1.06-0.61zM633.42 324.17l1.06-0.61 1.06 0.61v1.23l-1.06 0.61-1.06-0.61zM637.44 324.17l1.06-0.61 1.06 0.61v1.23l-1.06 0.61-1.06-0.61zM562.09 325.91l1.06-0.61 1.06 0.61v1.23l-1.06 0.61-1.06-0.61zM564.10 325.91l1.06-0.61 1.06 0.61v1.23l-1.06 0.61-1.06-0.61zM568.12 325.91l1.06-0.61 1.06 0.61v1.23l-1.06 0.61-1.06-0.61zM572.14 325.91l1.06-0.61 1.06 0.61v1.23l-1.06 0.61-1.06-0.61zM580.18 325.91l1.06-0.61 1.06 0.61v1.23l-1.06 0.61-1.06-0.61zM590.22 325.91l1.06-0.61 1.06 0.61v1.23l-1.06 0.61-1.06-0.61zM620.36 325.91l1.06-0.61 1.06 0.61v1.23l-1.06 0.61-1.06-0.61zM622.37 325.91l1.06-0.61 1.06 0.61v1.23l-1.06 0.61-1.06-0.61zM632.42 325.91l1.06-0.61 1.06 0.61v1.23l-1.06 0.61-1.06-0.61zM561.09 327.65l1.06-0.61 1.06 0.61v1.23l-1.06 0.61-1.06-0.61zM565.11 327.65l1.06-0.61 1.06 0.61v1.23l-1.06 0.61-1.06-0.61zM567.12 327.65l1.06-0.61 1.06 0.61v1.23l-1.06 0.61-1.06-0.61zM571.14 327.65l1.06-0.61 1.06 0.61v1.23l-1.06 0.61-1.06-0.61zM575.15 327.65l1.06-0.61 1.06 0.61v1.23l-1.06 0.61-1.06-0.61zM581.18 327.65l1.06-0.61 1.06 0.61v1.23l-1.06 0.61-1.06-0.61zM591.23 327.65l1.06-0.61 1.06 0.61v1.23l-1.06 0.61-1.06-0.61zM615.34 327.65l1.06-0.61 1.06 0.61v1.23l-1.06 0.61-1.06-0.61zM621.37 327.65l1.06-0.61 1.06 0.61v1.23l-1.06 0.61-1.06-0.61zM623.37 327.65l1.06-0.61 1.06 0.61v1.23l-1.06 0.61-1.06-0.61zM560.09 329.39l1.06-0.61 1.06 0.61v1.23l-1.06 0.61-1.06-0.61zM562.09 329.39l1.06-0.61 1.06 0.61v1.23l-1.06 0.61-1.06-0.61zM564.10 329.39l1.06-0.61 1.06 0.61v1.23l-1.06 0.61-1.06-0.61zM566.11 329.39l1.06-0.61 1.06 0.61v1.23l-1.06 0.61-1.06-0.61zM570.13 329.39l1.06-0.61 1.06 0.61v1.23l-1.06 0.61-1.06-0.61zM572.14 329.39l1.06-0.61 1.06 0.61v1.23l-1.06 0.61-1.06-0.61zM574.15 329.39l1.06-0.61 1.06 0.61v1.23l-1.06 0.61-1.06-0.61zM580.18 329.39l1.06-0.61 1.06 0.61v1.23l-1.06 0.61-1.06-0.61zM590.22 329.39l1.06-0.61 1.06 0.61v1.23l-1.06 0.61-1.06-0.61zM592.23 329.39l1.06-0.61 1.06 0.61v1.23l-1.06 0.61-1.06-0.61zM600.27 329.39l1.06-0.61 1.06 0.61v1.23l-1.06 0.61-1.06-0.61zM602.28 329.39l1.06-0.61 1.06 0.61v1.23l-1.06 0.61-1.06-0.61zM610.32 329.39l1.06-0.61 1.06 0.61v1.23l-1.06 0.61-1.06-0.61zM620.36 329.39l1.06-0.61 1.06 0.61v1.23l-1.06 0.61-1.06-0.61zM624.38 329.39l1.06-0.61 1.06 0.61v1.23l-1.06 0.61-1.06-0.61zM626.39 329.39l1.06-0.61 1.06 0.61v1.23l-1.06 0.61-1.06-0.61zM630.41 329.39l1.06-0.61 1.06 0.61v1.23l-1.06 0.61-1.06-0.61zM638.44 329.39l1.06-0.61 1.06 0.61v1.23l-1.06 0.61-1.06-0.61zM640.45 329.39l1.06-0.61 1.06 0.61v1.23l-1.06 0.61-1.06-0.61zM648.49 329.39l1.06-0.61 1.06 0.61v1.23l-1.06 0.61-1.06-0.61zM559.08 331.13l1.06-0.61 1.06 0.61v1.23l-1.06 0.61-1.06-0.61zM563.10 331.13l1.06-0.61 1.06 0.61v1.23l-1.06 0.61-1.06-0.61zM569.13 331.13l1.06-0.61 1.06 0.61v1.23l-1.06 0.61-1.06-0.61zM573.15 331.13l1.06-0.61 1.06 0.61v1.23l-1.06 0.61-1.06-0.61zM593.24 331.13l1.06-0.61 1.06 0.61v1.23l-1.06 0.61-1.06-0.61zM599.26 331.13l1.06-0.61 1.06 0.61v1.23l-1.06 0.61-1.06-0.61zM621.37 331.13l1.06-0.61 1.06 0.61v1.23l-1.06 0.61-1.06-0.61zM627.39 331.13l1.06-0.61 1.06 0.61v1.23l-1.06 0.61-1.06-0.61zM649.49 331.13l1.06-0.61 1.06 0.61v1.23l-1.06 0.61-1.06-0.61zM558.08 332.87l1.06-0.61 1.06 0.61v1.23l-1.06 0.61-1.06-0.61zM562.09 332.87l1.06-0.61 1.06 0.61v1.23l-1.06 0.61-1.06-0.61zM564.10 332.87l1.06-0.61 1.06 0.61v1.23l-1.06 0.61-1.06-0.61zM570.13 332.87l1.06-0.61 1.06 0.61v1.23l-1.06 0.61-1.06-0.61zM574.15 332.87l1.06-0.61 1.06 0.61v1.23l-1.06 0.61-1.06-0.61zM588.21 332.87l1.06-0.61 1.06 0.61v1.23l-1.06 0.61-1.06-0.61zM594.24 332.87l1.06-0.61 1.06 0.61v1.23l-1.06 0.61-1.06-0.61zM598.26 332.87l1.06-0.61 1.06 0.61v1.23l-1.06 0.61-1.06-0.61zM604.29 332.87l1.06-0.61 1.06 0.61v1.23l-1.06 0.61-1.06-0.61zM614.33 332.87l1.06-0.61 1.06 0.61v1.23l-1.06 0.61-1.06-0.61zM616.34 332.87l1.06-0.61 1.06 0.61v1.23l-1.06 0.61-1.06-0.61zM618.35 332.87l1.06-0.61 1.06 0.61v1.23l-1.06 0.61-1.06-0.61zM622.37 332.87l1.06-0.61 1.06 0.61v1.23l-1.06 0.61-1.06-0.61zM642.46 332.87l1.06-0.61 1.06 0.61v1.23l-1.06 0.61-1.06-0.61zM569.13 334.61l1.06-0.61 1.06 0.61v1.23l-1.06 0.61-1.06-0.61zM571.14 334.61l1.06-0.61 1.06 0.61v1.23l-1.06 0.61-1.06-0.61zM577.16 334.61l1.06-0.61 1.06 0.61v1.23l-1.06 0.61-1.06-0.61zM593.24 334.61l1.06-0.61 1.06 0.61v1.23l-1.06 0.61-1.06-0.61zM599.26 334.61l1.06-0.61 1.06 0.61v1.23l-1.06 0.61-1.06-0.61zM611.32 334.61l1.06-0.61 1.06 0.61v1.23l-1.06 0.61-1.06-0.61zM621.37 334.61l1.06-0.61 1.06 0.61v1.23l-1.06 0.61-1.06-0.61zM623.37 334.61l1.06-0.61 1.06 0.61v1.23l-1.06 0.61-1.06-0.61zM627.39 334.61l1.06-0.61 1.06 0.61v1.23l-1.06 0.61-1.06-0.61zM631.41 334.61l1.06-0.61 1.06 0.61v1.23l-1.06 0.61-1.06-0.61zM635.43 334.61l1.06-0.61 1.06 0.61v1.23l-1.06 0.61-1.06-0.61zM639.45 334.61l1.06-0.61 1.06 0.61v1.23l-1.06 0.61-1.06-0.61zM554.06 336.35l1.06-0.61 1.06 0.61v1.23l-1.06 0.61-1.06-0.61zM570.13 336.35l1.06-0.61 1.06 0.61v1.23l-1.06 0.61-1.06-0.61zM580.18 336.35l1.06-0.61 1.06 0.61v1.23l-1.06 0.61-1.06-0.61zM588.21 336.35l1.06-0.61 1.06 0.61v1.23l-1.06 0.61-1.06-0.61zM590.22 336.35l1.06-0.61 1.06 0.61v1.23l-1.06 0.61-1.06-0.61zM608.31 336.35l1.06-0.61 1.06 0.61v1.23l-1.06 0.61-1.06-0.61zM618.35 336.35l1.06-0.61 1.06 0.61v1.23l-1.06 0.61-1.06-0.61zM642.46 336.35l1.06-0.61 1.06 0.61v1.23l-1.06 0.61-1.06-0.61zM646.48 336.35l1.06-0.61 1.06 0.61v1.23l-1.06 0.61-1.06-0.61zM561.09 338.09l1.06-0.61 1.06 0.61v1.23l-1.06 0.61-1.06-0.61zM567.12 338.09l1.06-0.61 1.06 0.61v1.23l-1.06 0.61-1.06-0.61zM571.14 338.09l1.06-0.61 1.06 0.61v1.23l-1.06 0.61-1.06-0.61zM573.15 338.09l1.06-0.61 1.06 0.61v1.23l-1.06 0.61-1.06-0.61zM605.29 338.09l1.06-0.61 1.06 0.61v1.23l-1.06 0.61-1.06-0.61zM625.38 338.09l1.06-0.61 1.06 0.61v1.23l-1.06 0.61-1.06-0.61zM627.39 338.09l1.06-0.61 1.06 0.61v1.23l-1.06 0.61-1.06-0.61zM639.45 338.09l1.06-0.61 1.06 0.61v1.23l-1.06 0.61-1.06-0.61zM643.47 338.09l1.06-0.61 1.06 0.61v1.23l-1.06 0.61-1.06-0.61zM651.50 338.09l1.06-0.61 1.06 0.61v1.23l-1.06 0.61-1.06-0.61zM554.06 339.83l1.06-0.61 1.06 0.61v1.23l-1.06 0.61-1.06-0.61zM556.07 339.83l1.06-0.61 1.06 0.61v1.23l-1.06 0.61-1.06-0.61zM558.08 339.83l1.06-0.61 1.06 0.61v1.23l-1.06 0.61-1.06-0.61zM564.10 339.83l1.06-0.61 1.06 0.61v1.23l-1.06 0.61-1.06-0.61zM570.13 339.83l1.06-0.61 1.06 0.61v1.23l-1.06 0.61-1.06-0.61zM572.14 339.83l1.06-0.61 1.06 0.61v1.23l-1.06 0.61-1.06-0.61zM582.19 339.83l1.06-0.61 1.06 0.61v1.23l-1.06 0.61-1.06-0.61zM602.28 339.83l1.06-0.61 1.06 0.61v1.23l-1.06 0.61-1.06-0.61zM606.30 339.83l1.06-0.61 1.06 0.61v1.23l-1.06 0.61-1.06-0.61zM614.33 339.83l1.06-0.61 1.06 0.61v1.23l-1.06 0.61-1.06-0.61zM618.35 339.83l1.06-0.61 1.06 0.61v1.23l-1.06 0.61-1.06-0.61zM626.39 339.83l1.06-0.61 1.06 0.61v1.23l-1.06 0.61-1.06-0.61zM628.40 339.83l1.06-0.61 1.06 0.61v1.23l-1.06 0.61-1.06-0.61zM638.44 339.83l1.06-0.61 1.06 0.61v1.23l-1.06 0.61-1.06-0.61zM646.48 339.83l1.06-0.61 1.06 0.61v1.23l-1.06 0.61-1.06-0.61zM648.49 339.83l1.06-0.61 1.06 0.61v1.23l-1.06 0.61-1.06-0.61zM650.50 339.83l1.06-0.61 1.06 0.61v1.23l-1.06 0.61-1.06-0.61zM555.06 341.57l1.06-0.61 1.06 0.61v1.23l-1.06 0.61-1.06-0.61zM563.10 341.57l1.06-0.61 1.06 0.61v1.23l-1.06 0.61-1.06-0.61zM573.15 341.57l1.06-0.61 1.06 0.61v1.23l-1.06 0.61-1.06-0.61zM577.16 341.57l1.06-0.61 1.06 0.61v1.23l-1.06 0.61-1.06-0.61zM579.17 341.57l1.06-0.61 1.06 0.61v1.23l-1.06 0.61-1.06-0.61zM583.19 341.57l1.06-0.61 1.06 0.61v1.23l-1.06 0.61-1.06-0.61zM595.25 341.57l1.06-0.61 1.06 0.61v1.23l-1.06 0.61-1.06-0.61zM597.26 341.57l1.06-0.61 1.06 0.61v1.23l-1.06 0.61-1.06-0.61zM599.26 341.57l1.06-0.61 1.06 0.61v1.23l-1.06 0.61-1.06-0.61zM609.31 341.57l1.06-0.61 1.06 0.61v1.23l-1.06 0.61-1.06-0.61zM631.41 341.57l1.06-0.61 1.06 0.61v1.23l-1.06 0.61-1.06-0.61zM647.48 341.57l1.06-0.61 1.06 0.61v1.23l-1.06 0.61-1.06-0.61z" fill="#440154" stroke="#440154" stroke-width="0.25"/>
<path d="M605.29 261.53l1.06-0.61 1.06 0.61v1.23l-1.06 0.61-1.06-0.61zM605.29 265.01l1.06-0.61 1.06 0.61v1.23l-1.06 0.61-1.06-0.61zM602.28 266.75l1.06-0.61 1.06 0.61v1.23l-1.06 0.61-1.06-0.61zM611.32 268.49l1.06-0.61 1.06 0.61v1.23l-1.06 0.61-1.06-0.61zM608.31 273.71l1.06-0.61 1.06 0.61v1.23l-1.06 0.61-1.06-0.61zM589.22 275.45l1.06-0.61 1.06 0.61v1.23l-1.06 0.61-1.06-0.61zM595.25 275.45l1.06-0.61 1.06 0.61v1.23l-1.06 0.61-1.06-0.61zM609.31 275.45l1.06-0.61 1.06 0.61v1.23l-1.06 0.61-1.06-0.61zM613.33 275.45l1.06-0.61 1.06 0.61v1.23l-1.06 0.61-1.06-0.61zM592.23 277.19l1.06-0.61 1.06 0.61v1.23l-1.06 0.61-1.06-0.61zM596.25 277.19l1.06-0.61 1.06 0.61v1.23l-1.06 0.61-1.06-0.61zM598.26 277.19l1.06-0.61 1.06 0.61v1.23l-1.06 0.61-1.06-0.61zM591.23 278.93l1.06-0.61 1.06 0.61v1.23l-1.06 0.61-1.06-0.61zM593.24 278.93l1.06-0.61 1.06 0.61v1.23l-1.06 0.61-1.06-0.61zM603.28 278.93l1.06-0.61 1.06 0.61v1.23l-1.06 0.61-1.06-0.61zM609.31 278.93l1.06-0.61 1.06 0.61v1.23l-1.06 0.61-1.06-0.61zM586.20 280.67l1.06-0.61 1.06 0.61v1.23l-1.06 0.61-1.06-0.61zM594.24 280.67l1.06-0.61 1.06 0.61v1.23l-1.06 0.61-1.06-0.61zM604.29 280.67l1.06-0.61 1.06 0.61v1.23l-1.06 0.61-1.06-0.61zM589.22 282.41l1.06-0.61 1.06 0.61v1.23l-1.06 0.61-1.06-0.61zM593.24 282.41l1.06-0.61 1.06 0.61v1.23l-1.06 0.61-1.06-0.61zM603.28 282.41l1.06-0.61 1.06 0.61v1.23l-1.06 0.61-1.06-0.61zM609.31 282.41l1.06-0.61 1.06 0.61v1.23l-1.06 0.61-1.06-0.61zM590.22 284.15l1.06-0.61 1.06 0.61v1.23l-1.06 0.61-1.06-0.61zM602.28 284.15l1.06-0.61 1.06 0.61v1.23l-1.06 0.61-1.06-0.61zM608.31 284.15l1.06-0.61 1.06 0.61v1.23l-1.06 0.61-1.06-0.61zM585.20 285.89l1.06-0.61 1.06 0.61v1.23l-1.06 0.61-1.06-0.61zM607.30 285.89l1.06-0.61 1.06 0.61v1.23l-1.06 0.61-1.06-0.61zM612.32 287.63l1.06-0.61 1.06 0.61v1.23l-1.06 0.61-1.06-0.61zM599.26 289.37l1.06-0.61 1.06 0.61v1.23l-1.06 0.61-1.06-0.61zM611.32 289.37l1.06-0.61 1.06 0.61v1.23l-1.06 0.61-1.06-0.61zM623.37 289.37l1.06-0.61 1.06 0.61v1.23l-1.06 0.61-1.06-0.61zM588.21 291.11l1.06-0.61 1.06 0.61v1.23l-1.06 0.61-1.06-0.61zM590.22 291.11l1.06-0.61 1.06 0.61v1.23l-1.06 0.61-1.06-0.61zM594.24 291.11l1.06-0.61 1.06 0.61v1.23l-1.06 0.61-1.06-0.61zM600.27 291.11l1.06-0.61 1.06 0.61v1.23l-1.06 0.61-1.06-0.61zM602.28 291.11l1.06-0.61 1.06 0.61v1.23l-1.06 0.61-1.06-0.61zM618.35 291.11l1.06-0.61 1.06 0.61v1.23l-1.06 0.61-1.06-0.61zM595.25 292.85l1.06-0.61 1.06 0.61v1.23l-1.06 0.61-1.06-0.61zM599.26 292.85l1.06-0.61 1.06 0.61v1.23l-1.06 0.61-1.06-0.61zM601.27 292.85l1.06-0.61 1.06 0.61v1.23l-1.06 0.61-1.06-0.61zM605.29 292.85l1.06-0.61 1.06 0.61v1.23l-1.06 0.61-1.06-0.61zM598.26 294.59l1.06-0.61 1.06 0.61v1.23l-1.06 0.61-1.06-0.61zM608.31 294.59l1.06-0.61 1.06 0.61v1.23l-1.06 0.61-1.06-0.61zM591.23 296.33l1.06-0.61 1.06 0.61v1.23l-1.06 0.61-1.06-0.61zM593.24 296.33l1.06-0.61 1.06 0.61v1.23l-1.06 0.61-1.06-0.61zM597.26 296.33l1.06-0.61 1.06 0.61v1.23l-1.06 0.61-1.06-0.61zM603.28 296.33l1.06-0.61 1.06 0.61v1.23l-1.06 0.61-1.06-0.61zM615.34 296.33l1.06-0.61 1.06 0.61v1.23l-1.06 0.61-1.06-0.61zM623.37 296.33l1.06-0.61 1.06 0.61v1.23l-1.06 0.61-1.06-0.61zM588.21 298.07l1.06-0.61 1.06 0.61v1.23l-1.06 0.61-1.06-0.61zM608.31 298.07l1.06-0.61 1.06 0.61v1.23l-1.06 0.61-1.06-0.61zM610.32 298.07l1.06-0.61 1.06 0.61v1.23l-1.06 0.61-1.06-0.61zM612.32 298.07l1.06-0.61 1.06 0.61v1.23l-1.06 0.61-1.06-0.61zM587.21 299.81l1.06-0.61 1.06 0.61v1.23l-1.06 0.61-1.06-0.61zM595.25 299.81l1.06-0.61 1.06 0.61v1.23l-1.06 0.61-1.06-0.61zM613.33 299.81l1.06-0.61 1.06 0.61v1.23l-1.06 0.61-1.06-0.61zM625.38 299.81l1.06-0.61 1.06 0.61v1.23l-1.06 0.61-1.06-0.61zM629.40 299.81l1.06-0.61 1.06 0.61v1.23l-1.06 0.61-1.06-0.61zM582.19 301.55l1.06-0.61 1.06 0.61v1.23l-1.06 0.61-1.06-0.61zM586.20 301.55l1.06-0.61 1.06 0.61v1.23l-1.06 0.61-1.06-0.61zM594.24 301.55l1.06-0.61 1.06 0.61v1.23l-1.06 0.61-1.06-0.61zM596.25 301.55l1.06-0.61 1.06 0.61v1.23l-1.06 0.61-1.06-0.61zM612.32 301.55l1.06-0.61 1.06 0.61v1.23l-1.06 0.61-1.06-0.61zM630.41 301.55l1.06-0.61 1.06 0.61v1.23l-1.06 0.61-1.06-0.61zM575.15 303.29l1.06-0.61 1.06 0.61v1.23l-1.06 0.61-1.06-0.61zM579.17 303.29l1.06-0.61 1.06 0.61v1.23l-1.06 0.61-1.06-0.61zM583.19 303.29l1.06-0.61 1.06 0.61v1.23l-1.06 0.61-1.06-0.61zM587.21 303.29l1.06-0.61 1.06 0.61v1.23l-1.06 0.61-1.06-0.61zM595.25 303.29l1.06-0.61 1.06 0.61v1.23l-1.06 0.61-1.06-0.61zM601.27 303.29l1.06-0.61 1.06 0.61v1.23l-1.06 0.61-1.06-0.61zM607.30 303.29l1.06-0.61 1.06 0.61v1.23l-1.06 0.61-1.06-0.61zM582.19 305.03l1.06-0.61 1.06 0.61v1.23l-1.06 0.61-1.06-0.61zM586.20 305.03l1.06-0.61 1.06 0.61v1.23l-1.06 0.61-1.06-0.61zM588.21 305.03l1.06-0.61 1.06 0.61v1.23l-1.06 0.61-1.06-0.61zM601.27 306.77l1.06-0.61 1.06 0.61v1.23l-1.06 0.61-1.06-0.61zM609.31 306.77l1.06-0.61 1.06 0.61v1.23l-1.06 0.61-1.06-0.61zM572.14 308.51l1.06-0.61 1.06 0.61v1.23l-1.06 0.61-1.06-0.61zM578.17 308.51l1.06-0.61 1.06 0.61v1.23l-1.06 0.61-1.06-0.61zM584.20 308.51l1.06-0.61 1.06 0.61v1.23l-1.06 0.61-1.06-0.61zM600.27 308.51l1.06-0.61 1.06 0.61v1.23l-1.06 0.61-1.06-0.61zM581.18 310.25l1.06-0.61 1.06 0.61v1.23l-1.06 0.61-1.06-0.61zM585.20 310.25l1.06-0.61 1.06 0.61v1.23l-1.06 0.61-1.06-0.61zM587.21 310.25l1.06-0.61 1.06 0.61v1.23l-1.06 0.61-1.06-0.61zM591.23 310.25l1.06-0.61 1.06 0.61v1.23l-1.06 0.61-1.06-0.61zM599.26 310.25l1.06-0.61 1.06 0.61v1.23l-1.06 0.61-1.06-0.61zM611.32 310.25l1.06-0.61 1.06 0.61v1.23l-1.06 0.61-1.06-0.61zM615.34 310.25l1.06-0.61 1.06 0.61v1.23l-1.06 0.61-1.06-0.61zM572.14 311.99l1.06-0.61 1.06 0.61v1.23l-1.06 0.61-1.06-0.61zM574.15 311.99l1.06-0.61 1.06 0.61v1.23l-1.06 0.61-1.06-0.61zM578.17 311.99l1.06-0.61 1.06 0.61v1.23l-1.06 0.61-1.06-0.61zM580.18 311.99l1.06-0.61 1.06 0.61v1.23l-1.06 0.61-1.06-0.61zM567.12 313.73l1.06-0.61 1.06 0.61v1.23l-1.06 0.61-1.06-0.61zM579.17 313.73l1.06-0.61 1.06 0.61v1.23l-1.06 0.61-1.06-0.61zM581.18 313.73l1.06-0.61 1.06 0.61v1.23l-1.06 0.61-1.06-0.61zM587.21 313.73l1.06-0.61 1.06 0.61v1.23l-1.06 0.61-1.06-0.61zM566.11 315.47l1.06-0.61 1.06 0.61v1.23l-1.06 0.61-1.06-0.61zM568.12 315.47l1.06-0.61 1.06 0.61v1.23l-1.06 0.61-1.06-0.61zM572.14 315.47l1.06-0.61 1.06 0.61v1.23l-1.06 0.61-1.06-0.61zM576.16 315.47l1.06-0.61 1.06 0.61v1.23l-1.06 0.61-1.06-0.61zM580.18 315.47l1.06-0.61 1.06 0.61v1.23l-1.06 0.61-1.06-0.61zM586.20 315.47l1.06-0.61 1.06 0.61v1.23l-1.06 0.61-1.06-0.61zM616.34 315.47l1.06-0.61 1.06 0.61v1.23l-1.06 0.61-1.06-0.61zM638.44 315.47l1.06-0.61 1.06 0.61v1.23l-1.06 0.61-1.06-0.61zM571.14 317.21l1.06-0.61 1.06 0.61v1.23l-1.06 0.61-1.06-0.61zM573.15 317.21l1.06-0.61 1.06 0.61v1.23l-1.06 0.61-1.06-0.61zM579.17 317.21l1.06-0.61 1.06 0.61v1.23l-1.06 0.61-1.06-0.61zM585.20 317.21l1.06-0.61 1.06 0.61v1.23l-1.06 0.61-1.06-0.61zM564.10 318.95l1.06-0.61 1.06 0.61v1.23l-1.06 0.61-1.06-0.61zM570.13 318.95l1.06-0.61 1.06 0.61v1.23l-1.06 0.61-1.06-0.61zM572.14 318.95l1.06-0.61 1.06 0.61v1.23l-1.06 0.61-1.06-0.61zM586.20 318.95l1.06-0.61 1.06 0.61v1.23l-1.06 0.61-1.06-0.61zM604.29 318.95l1.06-0.61 1.06 0.61v1.23l-1.06 0.61-1.06-0.61zM577.16 320.69l1.06-0.61 1.06 0.61v1.23l-1.06 0.61-1.06-0.61zM585.20 320.69l1.06-0.61 1.06 0.61v1.23l-1.06 0.61-1.06-0.61zM587.21 320.69l1.06-0.61 1.06 0.61v1.23l-1.06 0.61-1.06-0.61zM593.24 320.69l1.06-0.61 1.06 0.61v1.23l-1.06 0.61-1.06-0.61zM563.10 324.17l1.06-0.61 1.06 0.61v1.23l-1.06 0.61-1.06-0.61zM565.11 324.17l1.06-0.61 1.06 0.61v1.23l-1.06 0.61-1.06-0.61zM591.23 324.17l1.06-0.61 1.06 0.61v1.23l-1.06 0.61-1.06-0.61zM560.09 325.91l1.06-0.61 1.06 0.61v1.23l-1.06 0.61-1.06-0.61zM574.15 325.91l1.06-0.61 1.06 0.61v1.23l-1.06 0.61-1.06-0.61zM578.17 325.91l1.06-0.61 1.06 0.61v1.23l-1.06 0.61-1.06-0.61zM646.48 325.91l1.06-0.61 1.06 0.61v1.23l-1.06 0.61-1.06-0.61zM559.08 327.65l1.06-0.61 1.06 0.61v1.23l-1.06 0.61-1.06-0.61zM579.17 327.65l1.06-0.61 1.06 0.61v1.23l-1.06 0.61-1.06-0.61zM605.29 327.65l1.06-0.61 1.06 0.61v1.23l-1.06 0.61-1.06-0.61zM586.20 329.39l1.06-0.61 1.06 0.61v1.23l-1.06 0.61-1.06-0.61zM642.46 329.39l1.06-0.61 1.06 0.61v1.23l-1.06 0.61-1.06-0.61zM603.28 331.13l1.06-0.61 1.06 0.61v1.23l-1.06 0.61-1.06-0.61zM576.16 332.87l1.06-0.61 1.06 0.61v1.23l-1.06 0.61-1.06-0.61zM590.22 332.87l1.06-0.61 1.06 0.61v1.23l-1.06 0.61-1.06-0.61zM608.31 332.87l1.06-0.61 1.06 0.61v1.23l-1.06 0.61-1.06-0.61zM579.17 334.61l1.06-0.61 1.06 0.61v1.23l-1.06 0.61-1.06-0.61zM581.18 334.61l1.06-0.61 1.06 0.61v1.23l-1.06 0.61-1.06-0.61zM556.07 336.35l1.06-0.61 1.06 0.61v1.23l-1.06 0.61-1.06-0.61zM568.12 336.35l1.06-0.61 1.06 0.61v1.23l-1.06 0.61-1.06-0.61zM600.27 336.35l1.06-0.61 1.06 0.61v1.23l-1.06 0.61-1.06-0.61zM553.05 338.09l1.06-0.61 1.06 0.61v1.23l-1.06 0.61-1.06-0.61zM557.07 338.09l1.06-0.61 1.06 0.61v1.23l-1.06 0.61-1.06-0.61zM563.10 338.09l1.06-0.61 1.06 0.61v1.23l-1.06 0.61-1.06-0.61zM569.13 338.09l1.06-0.61 1.06 0.61v1.23l-1.06 0.61-1.06-0.61zM575.15 338.09l1.06-0.61 1.06 0.61v1.23l-1.06 0.61-1.06-0.61zM587.21 338.09l1.06-0.61 1.06 0.61v1.23l-1.06 0.61-1.06-0.61zM576.16 339.83l1.06-0.61 1.06 0.61v1.23l-1.06 0.61-1.06-0.61zM594.24 339.83l1.06-0.61 1.06 0.61v1.23l-1.06 0.61-1.06-0.61zM600.27 339.83l1.06-0.61 1.06 0.61v1.23l-1.06 0.61-1.06-0.61zM608.31 339.83l1.06-0.61 1.06 0.61v1.23l-1.06 0.61-1.06-0.61zM612.32 339.83l1.06-0.61 1.06 0.61v1.23l-1.06 0.61-1.06-0.61zM632.42 339.83l1.06-0.61 1.06 0.61v1.23l-1.06 0.61-1.06-0.61zM557.07 341.57l1.06-0.61 1.06 0.61v1.23l-1.06 0.61-1.06-0.61zM559.08 341.57l1.06-0.61 1.06 0.61v1.23l-1.06 0.61-1.06-0.61zM565.11 341.57l1.06-0.61 1.06 0.61v1.23l-1.06 0.61-1.06-0.61zM569.13 341.57l1.06-0.61 1.06 0.61v1.23l-1.06 0.61-1.06-0.61zM589.22 341.57l1.06-0.61 1.06 0.61v1.23l-1.06 0.61-1.06-0.61zM611.32 341.57l1.06-0.61 1.06 0.61v1.23l-1.06 0.61-1.06-0.61zM651.50 341.57l1.06-0.61 1.06 0.61v1.23l-1.06 0.61-1.06-0.61z" fill="#413f82" stroke="#413f82" stroke-width="0.25"/>
<path d="M588.21 277.19l1.06-0.61 1.06 0.61v1.23l-1.06 0.61-1.06-0.61zM587.21 278.93l1.06-0.61 1.06 0.61v1.23l-1.06 0.61-1.06-0.61zM587.21 282.41l1.06-0.61 1.06 0.61v1.23l-1.06 0.61-1.06-0.61zM617.35 282.41l1.06-0.61 1.06 0.61v1.23l-1.06 0.61-1.06-0.61zM584.20 284.15l1.06-0.61 1.06 0.61v1.23l-1.06 0.61-1.06-0.61zM598.26 284.15l1.06-0.61 1.06 0.61v1.23l-1.06 0.61-1.06-0.61zM591.23 285.89l1.06-0.61 1.06 0.61v1.23l-1.06 0.61-1.06-0.61zM605.29 285.89l1.06-0.61 1.06 0.61v1.23l-1.06 0.61-1.06-0.61zM596.25 287.63l1.06-0.61 1.06 0.61v1.23l-1.06 0.61-1.06-0.61zM581.18 289.37l1.06-0.61 1.06 0.61v1.23l-1.06 0.61-1.06-0.61zM587.21 289.37l1.06-0.61 1.06 0.61v1.23l-1.06 0.61-1.06-0.61zM592.23 291.11l1.06-0.61 1.06 0.61v1.23l-1.06 0.61-1.06-0.61zM589.22 292.85l1.06-0.61 1.06 0.61v1.23l-1.06 0.61-1.06-0.61zM589.22 296.33l1.06-0.61 1.06 0.61v1.23l-1.06 0.61-1.06-0.61zM586.20 298.07l1.06-0.61 1.06 0.61v1.23l-1.06 0.61-1.06-0.61zM591.23 299.81l1.06-0.61 1.06 0.61v1.23l-1.06 0.61-1.06-0.61zM588.21 301.55l1.06-0.61 1.06 0.61v1.23l-1.06 0.61-1.06-0.61zM577.16 303.29l1.06-0.61 1.06 0.61v1.23l-1.06 0.61-1.06-0.61zM585.20 303.29l1.06-0.61 1.06 0.61v1.23l-1.06 0.61-1.06-0.61zM589.22 303.29l1.06-0.61 1.06 0.61v1.23l-1.06 0.61-1.06-0.61zM574.15 305.03l1.06-0.61 1.06 0.61v1.23l-1.06 0.61-1.06-0.61zM580.18 305.03l1.06-0.61 1.06 0.61v1.23l-1.06 0.61-1.06-0.61zM582.19 308.51l1.06-0.61 1.06 0.61v1.23l-1.06 0.61-1.06-0.61zM575.15 310.25l1.06-0.61 1.06 0.61v1.23l-1.06 0.61-1.06-0.61zM577.16 310.25l1.06-0.61 1.06 0.61v1.23l-1.06 0.61-1.06-0.61zM583.19 310.25l1.06-0.61 1.06 0.61v1.23l-1.06 0.61-1.06-0.61zM576.16 311.99l1.06-0.61 1.06 0.61v1.23l-1.06 0.61-1.06-0.61zM592.23 311.99l1.06-0.61 1.06 0.61v1.23l-1.06 0.61-1.06-0.61zM569.13 313.73l1.06-0.61 1.06 0.61v1.23l-1.06 0.61-1.06-0.61zM571.14 313.73l1.06-0.61 1.06 0.61v1.23l-1.06 0.61-1.06-0.61zM575.15 313.73l1.06-0.61 1.06 0.61v1.23l-1.06 0.61-1.06-0.61zM577.16 313.73l1.06-0.61 1.06 0.61v1.23l-1.06 0.61-1.06-0.61zM567.12 317.21l1.06-0.61 1.06 0.61v1.23l-1.06 0.61-1.06-0.61zM575.15 317.21l1.06-0.61 1.06 0.61v1.23l-1.06 0.61-1.06-0.61zM583.19 317.21l1.06-0.61 1.06 0.61v1.23l-1.06 0.61-1.06-0.61zM589.22 317.21l1.06-0.61 1.06 0.61v1.23l-1.06 0.61-1.06-0.61zM563.10 320.69l1.06-0.61 1.06 0.61v1.23l-1.06 0.61-1.06-0.61zM565.11 320.69l1.06-0.61 1.06 0.61v1.23l-1.06 0.61-1.06-0.61zM567.12 320.69l1.06-0.61 1.06 0.61v1.23l-1.06 0.61-1.06-0.61zM569.13 320.69l1.06-0.61 1.06 0.61v1.23l-1.06 0.61-1.06-0.61zM584.20 325.91l1.06-0.61 1.06 0.61v1.23l-1.06 0.61-1.06-0.61zM588.21 325.91l1.06-0.61 1.06 0.61v1.23l-1.06 0.61-1.06-0.61zM583.19 327.65l1.06-0.61 1.06 0.61v1.23l-1.06 0.61-1.06-0.61zM581.18 331.13l1.06-0.61 1.06 0.61v1.23l-1.06 0.61-1.06-0.61zM558.08 336.35l1.06-0.61 1.06 0.61v1.23l-1.06 0.61-1.06-0.61z" fill="#3b528b" stroke="#3b528b" stroke-width="0.25"/>
<path d="M591.23 275.45l1.06-0.61 1.06 0.61v1.23l-1.06 0.61-1.06-0.61zM606.30 280.67l1.06-0.61 1.06 0.61v1.23l-1.06 0.61-1.06-0.61zM586.20 284.15l1.06-0.61 1.06 0.61v1.23l-1.06 0.61-1.06-0.61zM588.21 284.15l1.06-0.61 1.06 0.61v1.23l-1.06 0.61-1.06-0.61zM592.23 284.15l1.06-0.61 1.06 0.61v1.23l-1.06 0.61-1.06-0.61zM599.26 285.89l1.06-0.61 1.06 0.61v1.23l-1.06 0.61-1.06-0.61zM586.20 287.63l1.06-0.61 1.06 0.61v1.23l-1.06 0.61-1.06-0.61zM592.23 287.63l1.06-0.61 1.06 0.61v1.23l-1.06 0.61-1.06-0.61zM602.28 287.63l1.06-0.61 1.06 0.61v1.23l-1.06 0.61-1.06-0.61zM585.20 289.37l1.06-0.61 1.06 0.61v1.23l-1.06 0.61-1.06-0.61zM591.23 289.37l1.06-0.61 1.06 0.61v1.23l-1.06 0.61-1.06-0.61zM593.24 289.37l1.06-0.61 1.06 0.61v1.23l-1.06 0.61-1.06-0.61zM582.19 291.11l1.06-0.61 1.06 0.61v1.23l-1.06 0.61-1.06-0.61zM584.20 291.11l1.06-0.61 1.06 0.61v1.23l-1.06 0.61-1.06-0.61zM586.20 291.11l1.06-0.61 1.06 0.61v1.23l-1.06 0.61-1.06-0.61zM583.19 292.85l1.06-0.61 1.06 0.61v1.23l-1.06 0.61-1.06-0.61zM582.19 294.59l1.06-0.61 1.06 0.61v1.23l-1.06 0.61-1.06-0.61zM594.24 294.59l1.06-0.61 1.06 0.61v1.23l-1.06 0.61-1.06-0.61zM585.20 296.33l1.06-0.61 1.06 0.61v1.23l-1.06 0.61-1.06-0.61zM580.18 298.07l1.06-0.61 1.06 0.61v1.23l-1.06 0.61-1.06-0.61zM590.22 298.07l1.06-0.61 1.06 0.61v1.23l-1.06 0.61-1.06-0.61zM602.28 298.07l1.06-0.61 1.06 0.61v1.23l-1.06 0.61-1.06-0.61zM581.18 303.29l1.06-0.61 1.06 0.61v1.23l-1.06 0.61-1.06-0.61zM591.23 303.29l1.06-0.61 1.06 0.61v1.23l-1.06 0.61-1.06-0.61zM600.27 305.03l1.06-0.61 1.06 0.61v1.23l-1.06 0.61-1.06-0.61zM602.28 305.03l1.06-0.61 1.06 0.61v1.23l-1.06 0.61-1.06-0.61zM573.15 306.77l1.06-0.61 1.06 0.61v1.23l-1.06 0.61-1.06-0.61zM587.21 306.77l1.06-0.61 1.06 0.61v1.23l-1.06 0.61-1.06-0.61zM571.14 310.25l1.06-0.61 1.06 0.61v1.23l-1.06 0.61-1.06-0.61zM573.15 310.25l1.06-0.61 1.06 0.61v1.23l-1.06 0.61-1.06-0.61zM568.12 311.99l1.06-0.61 1.06 0.61v1.23l-1.06 0.61-1.06-0.61zM570.13 315.47l1.06-0.61 1.06 0.61v1.23l-1.06 0.61-1.06-0.61zM574.15 315.47l1.06-0.61 1.06 0.61v1.23l-1.06 0.61-1.06-0.61zM569.13 317.21l1.06-0.61 1.06 0.61v1.23l-1.06 0.61-1.06-0.61zM566.11 318.95l1.06-0.61 1.06 0.61v1.23l-1.06 0.61-1.06-0.61zM568.12 318.95l1.06-0.61 1.06 0.61v1.23l-1.06 0.61-1.06-0.61zM566.11 325.91l1.06-0.61 1.06 0.61v1.23l-1.06 0.61-1.06-0.61zM568.12 329.39l1.06-0.61 1.06 0.61v1.23l-1.06 0.61-1.06-0.61z" fill="#34628c" stroke="#34628c" stroke-width="0.25"/>
<path d="M590.22 280.67l1.06-0.61 1.06 0.61v1.23l-1.06 0.61-1.06-0.61zM592.23 280.67l1.06-0.61 1.06 0.61v1.23l-1.06 0.61-1.06-0.61zM593.24 285.89l1.06-0.61 1.06 0.61v1.23l-1.06 0.61-1.06-0.61zM583.19 289.37l1.06-0.61 1.06 0.61v1.23l-1.06 0.61-1.06-0.61zM589.22 289.37l1.06-0.61 1.06 0.61v1.23l-1.06 0.61-1.06-0.61zM597.26 289.37l1.06-0.61 1.06 0.61v1.23l-1.06 0.61-1.06-0.61zM585.20 292.85l1.06-0.61 1.06 0.61v1.23l-1.06 0.61-1.06-0.61zM587.21 292.85l1.06-0.61 1.06 0.61v1.23l-1.06 0.61-1.06-0.61zM580.18 294.59l1.06-0.61 1.06 0.61v1.23l-1.06 0.61-1.06-0.61zM586.20 294.59l1.06-0.61 1.06 0.61v1.23l-1.06 0.61-1.06-0.61zM581.18 296.33l1.06-0.61 1.06 0.61v1.23l-1.06 0.61-1.06-0.61zM587.21 296.33l1.06-0.61 1.06 0.61v1.23l-1.06 0.61-1.06-0.61zM582.19 298.07l1.06-0.61 1.06 0.61v1.23l-1.06 0.61-1.06-0.61zM584.20 298.07l1.06-0.61 1.06 0.61v1.23l-1.06 0.61-1.06-0.61zM579.17 299.81l1.06-0.61 1.06 0.61v1.23l-1.06 0.61-1.06-0.61zM584.20 301.55l1.06-0.61 1.06 0.61v1.23l-1.06 0.61-1.06-0.61zM584.20 305.03l1.06-0.61 1.06 0.61v1.23l-1.06 0.61-1.06-0.61zM577.16 306.77l1.06-0.61 1.06 0.61v1.23l-1.06 0.61-1.06-0.61zM579.17 306.77l1.06-0.61 1.06 0.61v1.23l-1.06 0.61-1.06-0.61zM574.15 308.51l1.06-0.61 1.06 0.61v1.23l-1.06 0.61-1.06-0.61zM579.17 310.25l1.06-0.61 1.06 0.61v1.23l-1.06 0.61-1.06-0.61zM570.13 311.99l1.06-0.61 1.06 0.61v1.23l-1.06 0.61-1.06-0.61zM565.11 317.21l1.06-0.61 1.06 0.61v1.23l-1.06 0.61-1.06-0.61zM576.16 318.95l1.06-0.61 1.06 0.61v1.23l-1.06 0.61-1.06-0.61zM566.11 322.43l1.06-0.61 1.06 0.61v1.23l-1.06 0.61-1.06-0.61z" fill="#2c728e" stroke="#2c728e" stroke-width="0.25"/>
<path d="M585.20 282.41l1.06-0.61 1.06 0.61v1.23l-1.06 0.61-1.06-0.61zM584.20 287.63l1.06-0.61 1.06 0.61v1.23l-1.06 0.61-1.06-0.61zM588.21 287.63l1.06-0.61 1.06 0.61v1.23l-1.06 0.61-1.06-0.61zM590.22 287.63l1.06-0.61 1.06 0.61v1.23l-1.06 0.61-1.06-0.61zM588.21 294.59l1.06-0.61 1.06 0.61v1.23l-1.06 0.61-1.06-0.61zM577.16 296.33l1.06-0.61 1.06 0.61v1.23l-1.06 0.61-1.06-0.61zM579.17 296.33l1.06-0.61 1.06 0.61v1.23l-1.06 0.61-1.06-0.61zM576.16 298.07l1.06-0.61 1.06 0.61v1.23l-1.06 0.61-1.06-0.61zM578.17 298.07l1.06-0.61 1.06 0.61v1.23l-1.06 0.61-1.06-0.61zM585.20 299.81l1.06-0.61 1.06 0.61v1.23l-1.06 0.61-1.06-0.61zM578.17 301.55l1.06-0.61 1.06 0.61v1.23l-1.06 0.61-1.06-0.61zM580.18 301.55l1.06-0.61 1.06 0.61v1.23l-1.06 0.61-1.06-0.61zM572.14 305.03l1.06-0.61 1.06 0.61v1.23l-1.06 0.61-1.06-0.61zM578.17 305.03l1.06-0.61 1.06 0.61v1.23l-1.06 0.61-1.06-0.61zM571.14 306.77l1.06-0.61 1.06 0.61v1.23l-1.06 0.61-1.06-0.61zM570.13 308.51l1.06-0.61 1.06 0.61v1.23l-1.06 0.61-1.06-0.61zM576.16 308.51l1.06-0.61 1.06 0.61v1.23l-1.06 0.61-1.06-0.61zM586.20 308.51l1.06-0.61 1.06 0.61v1.23l-1.06 0.61-1.06-0.61zM573.15 313.73l1.06-0.61 1.06 0.61v1.23l-1.06 0.61-1.06-0.61z" fill="#26828d" stroke="#26828d" stroke-width="0.25"/>
<path d="M580.18 291.11l1.06-0.61 1.06 0.61v1.23l-1.06 0.61-1.06-0.61zM579.17 292.85l1.06-0.61 1.06 0.61v1.23l-1.06 0.61-1.06-0.61zM581.18 292.85l1.06-0.61 1.06 0.61v1.23l-1.06 0.61-1.06-0.61zM578.17 294.59l1.06-0.61 1.06 0.61v1.23l-1.06 0.61-1.06-0.61zM584.20 294.59l1.06-0.61 1.06 0.61v1.23l-1.06 0.61-1.06-0.61zM583.19 296.33l1.06-0.61 1.06 0.61v1.23l-1.06 0.61-1.06-0.61zM575.15 299.81l1.06-0.61 1.06 0.61v1.23l-1.06 0.61-1.06-0.61zM577.16 299.81l1.06-0.61 1.06 0.61v1.23l-1.06 0.61-1.06-0.61zM576.16 301.55l1.06-0.61 1.06 0.61v1.23l-1.06 0.61-1.06-0.61zM575.15 306.77l1.06-0.61 1.06 0.61v1.23l-1.06 0.61-1.06-0.61zM569.13 310.25l1.06-0.61 1.06 0.61v1.23l-1.06 0.61-1.06-0.61z" fill="#21918c" stroke="#21918c" stroke-width="0.25"/>
<path d="M581.18 299.81l1.06-0.61 1.06 0.61v1.23l-1.06 0.61-1.06-0.61zM574.15 301.55l1.06-0.61 1.06 0.61v1.23l-1.06 0.61-1.06-0.61zM573.15 303.29l1.06-0.61 1.06 0.61v1.23l-1.06 0.61-1.06-0.61zM576.16 305.03l1.06-0.61 1.06 0.61v1.23l-1.06 0.61-1.06-0.61z" fill="#249f86" stroke="#249f86" stroke-width="0.25"/>
<polygon points="604.5,250.5 550.1,344.0 658.9,344.0" fill="none" stroke="#222" stroke-width="0.55"/>
<text transform="translate(602.40 237.40) scale(1 1.18)" font-size="7.6" text-anchor="middle" fill="#231f20" font-weight="normal" >Chr. 6 ND060432</text>
<text transform="translate(604.70 249.00) scale(1 1.18)" font-size="7.6" text-anchor="middle" fill="#231f20" font-weight="normal" >A</text>
<text transform="translate(546.30 349.80) scale(1 1.18)" font-size="7.6" text-anchor="middle" fill="#231f20" font-weight="normal" >C</text>
<text transform="translate(663.70 349.80) scale(1 1.18)" font-size="7.6" text-anchor="middle" fill="#231f20" font-weight="normal" >D</text>
<defs><linearGradient id="vg" x1="0" y1="1" x2="0" y2="0"><stop offset="0.0" stop-color="#440154"/><stop offset="0.125" stop-color="#472c7a"/><stop offset="0.25" stop-color="#3b528b"/><stop offset="0.375" stop-color="#2c728e"/><stop offset="0.5" stop-color="#21918c"/><stop offset="0.625" stop-color="#27ad81"/><stop offset="0.75" stop-color="#5cc863"/><stop offset="0.875" stop-color="#aadc32"/><stop offset="1.0" stop-color="#fde725"/></linearGradient></defs>
<rect x="660.1" y="263.9" width="3.7" height="66.5" fill="url(#vg)"/>
<line x1="663.80" y1="329.00" x2="665.80" y2="329.00" stroke="#333" stroke-width="0.4" />
<line x1="663.80" y1="318.55" x2="665.20" y2="318.55" stroke="#333" stroke-width="0.4" />
<line x1="663.80" y1="312.44" x2="665.20" y2="312.44" stroke="#333" stroke-width="0.4" />
<line x1="663.80" y1="308.11" x2="665.20" y2="308.11" stroke="#333" stroke-width="0.4" />
<line x1="663.80" y1="304.75" x2="665.20" y2="304.75" stroke="#333" stroke-width="0.4" />
<line x1="663.80" y1="302.00" x2="665.20" y2="302.00" stroke="#333" stroke-width="0.4" />
<line x1="663.80" y1="299.68" x2="665.20" y2="299.68" stroke="#333" stroke-width="0.4" />
<line x1="663.80" y1="297.66" x2="665.20" y2="297.66" stroke="#333" stroke-width="0.4" />
<line x1="663.80" y1="295.89" x2="665.20" y2="295.89" stroke="#333" stroke-width="0.4" />
<line x1="663.80" y1="294.30" x2="665.80" y2="294.30" stroke="#333" stroke-width="0.4" />
<line x1="663.80" y1="283.85" x2="665.20" y2="283.85" stroke="#333" stroke-width="0.4" />
<line x1="663.80" y1="277.74" x2="665.20" y2="277.74" stroke="#333" stroke-width="0.4" />
<line x1="663.80" y1="273.41" x2="665.20" y2="273.41" stroke="#333" stroke-width="0.4" />
<line x1="663.80" y1="270.05" x2="665.20" y2="270.05" stroke="#333" stroke-width="0.4" />
<line x1="663.80" y1="267.30" x2="665.20" y2="267.30" stroke="#333" stroke-width="0.4" />
<line x1="663.80" y1="264.98" x2="665.20" y2="264.98" stroke="#333" stroke-width="0.4" />
<text transform="translate(670.00 296.30) scale(1 1.18)" font-size="7.6" text-anchor="start" fill="#231f20" font-weight="normal" >10.0</text>
<text transform="translate(670.00 331.60) scale(1 1.18)" font-size="7.6" text-anchor="start" fill="#231f20" font-weight="normal" >1.0</text>
</svg>
</body></html>
